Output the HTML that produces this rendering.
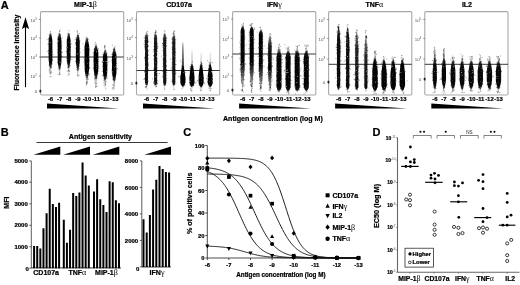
<!DOCTYPE html>
<html><head><meta charset="utf-8"><style>
html,body{margin:0;padding:0;background:#fff;}
svg{display:block;filter:grayscale(1) blur(0.3px);}
text[font-weight="bold"]{stroke:#000;stroke-width:0.22px;}
tspan[font-weight="normal"]{stroke:none;}
</style></head><body>
<svg width="520" height="285" viewBox="0 0 520 285">
<defs>
<filter id="bl" x="-50%" y="-10%" width="200%" height="120%"><feGaussianBlur stdDeviation="0.6"/></filter>
<filter id="bl2" x="-50%" y="-10%" width="200%" height="120%"><feGaussianBlur stdDeviation="0.3"/></filter>
<filter id="sp" filterUnits="userSpaceOnUse" x="0" y="0" width="520" height="120">
<feTurbulence type="fractalNoise" baseFrequency="1.8" numOctaves="1" seed="5" result="n"/>
<feColorMatrix in="n" type="matrix" values="0 0 0 0 0 0 0 0 0 0 0 0 0 0 0 4 0 0 0 -0.45" result="m"/>
<feComposite in="SourceGraphic" in2="m" operator="in" result="c"/>
<feGaussianBlur in="c" stdDeviation="0.3"/>
</filter>
</defs>
<rect width="520" height="285" fill="#fff"/>
<g font-family='"Liberation Sans", sans-serif'>
<text x="0.8" y="8.8" font-size="11" text-anchor="start" font-weight="bold" fill="#000" >A</text>
<text transform="translate(18.6,52.6) rotate(-90)" font-size="7" font-weight="bold" text-anchor="middle">Fluorescence intensity</text>
<line x1="25.5" y1="87.2" x2="25.5" y2="26" stroke="#000" stroke-width="1.1"/>
<path d="M21.9 29 L25.5 17.3 L29.1 29 L25.5 27 Z" fill="#000"/>
<rect x="40.5" y="11.6" width="83.2" height="83.4" fill="none" stroke="#a8a8a8" stroke-width="1.1" rx="1.2"/>
<text x="74.1" y="7.0" font-size="7" text-anchor="start" font-weight="bold" fill="#000" >MIP-1<tspan font-family='"Liberation Serif", serif' font-weight="normal" font-size="115%">β</tspan></text>
<text x="37.1" y="21.5" font-size="4.4" text-anchor="end" fill="#555">10<tspan dy="-1.8" font-size="3.2">5</tspan></text>
<line x1="39.0" y1="19.5" x2="40.5" y2="19.5" stroke="#444" stroke-width="0.6"/>
<text x="37.1" y="40.0" font-size="4.4" text-anchor="end" fill="#555">10<tspan dy="-1.8" font-size="3.2">4</tspan></text>
<line x1="39.0" y1="38" x2="40.5" y2="38" stroke="#444" stroke-width="0.6"/>
<text x="37.1" y="59.0" font-size="4.4" text-anchor="end" fill="#555">10<tspan dy="-1.8" font-size="3.2">3</tspan></text>
<line x1="39.0" y1="57" x2="40.5" y2="57" stroke="#444" stroke-width="0.6"/>
<text x="37.1" y="78.0" font-size="4.4" text-anchor="end" fill="#555">10<tspan dy="-1.8" font-size="3.2">2</tspan></text>
<line x1="39.0" y1="76" x2="40.5" y2="76" stroke="#444" stroke-width="0.6"/>
<text x="37.0" y="92.6" font-size="4.2" text-anchor="end" font-weight="normal" fill="#444" >0</text>
<rect x="39.6" y="89.8" width="1.6" height="2.6" fill="#111"/>
<line x1="39.0" y1="91" x2="40.5" y2="91" stroke="#444" stroke-width="0.6"/>
<line x1="40.5" y1="57.0" x2="123.7" y2="57.0" stroke="#222" stroke-width="0.9"/>
<text x="50.5" y="101.4" font-size="5.9" text-anchor="middle" font-weight="bold" fill="#000" >-6</text>
<text x="59.6" y="101.4" font-size="5.9" text-anchor="middle" font-weight="bold" fill="#000" >-7</text>
<text x="68.7" y="101.4" font-size="5.9" text-anchor="middle" font-weight="bold" fill="#000" >-8</text>
<text x="77.8" y="101.4" font-size="5.9" text-anchor="middle" font-weight="bold" fill="#000" >-9</text>
<text x="86.9" y="101.4" font-size="5.9" text-anchor="middle" font-weight="bold" fill="#000" >-10</text>
<text x="96.0" y="101.4" font-size="5.9" text-anchor="middle" font-weight="bold" fill="#000" >-11</text>
<text x="105.1" y="101.4" font-size="5.9" text-anchor="middle" font-weight="bold" fill="#000" >-12</text>
<text x="114.2" y="101.4" font-size="5.9" text-anchor="middle" font-weight="bold" fill="#000" >-13</text>
<path d="M47.0 103.4 L119.0 108.5 L47.0 108.5 Z" fill="#000"/>
<rect x="136.5" y="11.6" width="83.2" height="83.4" fill="none" stroke="#a8a8a8" stroke-width="1.1" rx="1.2"/>
<text x="166.2" y="7.0" font-size="7" text-anchor="start" font-weight="bold" fill="#000" >CD107a</text>
<text x="133.1" y="22.0" font-size="4.4" text-anchor="end" fill="#555">10<tspan dy="-1.8" font-size="3.2">5</tspan></text>
<line x1="135.0" y1="20" x2="136.5" y2="20" stroke="#444" stroke-width="0.6"/>
<text x="133.1" y="39.5" font-size="4.4" text-anchor="end" fill="#555">10<tspan dy="-1.8" font-size="3.2">4</tspan></text>
<line x1="135.0" y1="37.5" x2="136.5" y2="37.5" stroke="#444" stroke-width="0.6"/>
<text x="133.1" y="59.5" font-size="4.4" text-anchor="end" fill="#555">10<tspan dy="-1.8" font-size="3.2">3</tspan></text>
<line x1="135.0" y1="57.5" x2="136.5" y2="57.5" stroke="#444" stroke-width="0.6"/>
<text x="133.0" y="84.6" font-size="4.2" text-anchor="end" font-weight="normal" fill="#444" >0</text>
<rect x="135.6" y="81.8" width="1.6" height="2.6" fill="#111"/>
<line x1="135.0" y1="83" x2="136.5" y2="83" stroke="#444" stroke-width="0.6"/>
<line x1="136.5" y1="70.5" x2="219.7" y2="70.5" stroke="#222" stroke-width="0.9"/>
<text x="146.5" y="101.4" font-size="5.9" text-anchor="middle" font-weight="bold" fill="#000" >-6</text>
<text x="155.6" y="101.4" font-size="5.9" text-anchor="middle" font-weight="bold" fill="#000" >-7</text>
<text x="164.7" y="101.4" font-size="5.9" text-anchor="middle" font-weight="bold" fill="#000" >-8</text>
<text x="173.8" y="101.4" font-size="5.9" text-anchor="middle" font-weight="bold" fill="#000" >-9</text>
<text x="182.9" y="101.4" font-size="5.9" text-anchor="middle" font-weight="bold" fill="#000" >-10</text>
<text x="192.0" y="101.4" font-size="5.9" text-anchor="middle" font-weight="bold" fill="#000" >-11</text>
<text x="201.1" y="101.4" font-size="5.9" text-anchor="middle" font-weight="bold" fill="#000" >-12</text>
<text x="210.2" y="101.4" font-size="5.9" text-anchor="middle" font-weight="bold" fill="#000" >-13</text>
<path d="M143.0 103.4 L215.0 108.5 L143.0 108.5 Z" fill="#000"/>
<rect x="232.6" y="11.6" width="83.2" height="83.4" fill="none" stroke="#a8a8a8" stroke-width="1.1" rx="1.2"/>
<text x="266.9" y="7.0" font-size="7" text-anchor="start" font-weight="bold" fill="#000" >IFN<tspan font-family='"Liberation Serif", serif' font-weight="normal" font-size="115%">γ</tspan></text>
<text x="229.2" y="21.0" font-size="4.4" text-anchor="end" fill="#555">10<tspan dy="-1.8" font-size="3.2">5</tspan></text>
<line x1="231.1" y1="19" x2="232.6" y2="19" stroke="#444" stroke-width="0.6"/>
<text x="229.2" y="40.5" font-size="4.4" text-anchor="end" fill="#555">10<tspan dy="-1.8" font-size="3.2">4</tspan></text>
<line x1="231.1" y1="38.5" x2="232.6" y2="38.5" stroke="#444" stroke-width="0.6"/>
<text x="229.2" y="59.0" font-size="4.4" text-anchor="end" fill="#555">10<tspan dy="-1.8" font-size="3.2">3</tspan></text>
<line x1="231.1" y1="57" x2="232.6" y2="57" stroke="#444" stroke-width="0.6"/>
<text x="229.2" y="77.7" font-size="4.4" text-anchor="end" fill="#555">10<tspan dy="-1.8" font-size="3.2">2</tspan></text>
<line x1="231.1" y1="75.7" x2="232.6" y2="75.7" stroke="#444" stroke-width="0.6"/>
<text x="229.1" y="91.6" font-size="4.2" text-anchor="end" font-weight="normal" fill="#444" >0</text>
<rect x="231.7" y="88.8" width="1.6" height="2.6" fill="#111"/>
<line x1="231.1" y1="90" x2="232.6" y2="90" stroke="#444" stroke-width="0.6"/>
<line x1="232.6" y1="54.0" x2="315.8" y2="54.0" stroke="#222" stroke-width="0.9"/>
<text x="242.6" y="101.4" font-size="5.9" text-anchor="middle" font-weight="bold" fill="#000" >-6</text>
<text x="251.7" y="101.4" font-size="5.9" text-anchor="middle" font-weight="bold" fill="#000" >-7</text>
<text x="260.8" y="101.4" font-size="5.9" text-anchor="middle" font-weight="bold" fill="#000" >-8</text>
<text x="269.9" y="101.4" font-size="5.9" text-anchor="middle" font-weight="bold" fill="#000" >-9</text>
<text x="279.0" y="101.4" font-size="5.9" text-anchor="middle" font-weight="bold" fill="#000" >-10</text>
<text x="288.1" y="101.4" font-size="5.9" text-anchor="middle" font-weight="bold" fill="#000" >-11</text>
<text x="297.2" y="101.4" font-size="5.9" text-anchor="middle" font-weight="bold" fill="#000" >-12</text>
<text x="306.3" y="101.4" font-size="5.9" text-anchor="middle" font-weight="bold" fill="#000" >-13</text>
<path d="M239.1 103.4 L311.1 108.5 L239.1 108.5 Z" fill="#000"/>
<rect x="328.6" y="11.6" width="83.2" height="83.4" fill="none" stroke="#a8a8a8" stroke-width="1.1" rx="1.2"/>
<text x="365.4" y="7.0" font-size="7" text-anchor="start" font-weight="bold" fill="#000" >TNF<tspan font-family='"Liberation Serif", serif' font-weight="normal" font-size="115%">α</tspan></text>
<text x="325.20000000000005" y="21.5" font-size="4.4" text-anchor="end" fill="#555">10<tspan dy="-1.8" font-size="3.2">5</tspan></text>
<line x1="327.1" y1="19.5" x2="328.6" y2="19.5" stroke="#444" stroke-width="0.6"/>
<text x="325.20000000000005" y="40.5" font-size="4.4" text-anchor="end" fill="#555">10<tspan dy="-1.8" font-size="3.2">4</tspan></text>
<line x1="327.1" y1="38.5" x2="328.6" y2="38.5" stroke="#444" stroke-width="0.6"/>
<text x="325.20000000000005" y="61.0" font-size="4.4" text-anchor="end" fill="#555">10<tspan dy="-1.8" font-size="3.2">3</tspan></text>
<line x1="327.1" y1="59" x2="328.6" y2="59" stroke="#444" stroke-width="0.6"/>
<text x="325.1" y="83.6" font-size="4.2" text-anchor="end" font-weight="normal" fill="#444" >0</text>
<rect x="327.70000000000005" y="80.8" width="1.6" height="2.6" fill="#111"/>
<line x1="327.1" y1="82" x2="328.6" y2="82" stroke="#444" stroke-width="0.6"/>
<line x1="328.6" y1="64.3" x2="411.8" y2="64.3" stroke="#222" stroke-width="0.9"/>
<text x="338.6" y="101.4" font-size="5.9" text-anchor="middle" font-weight="bold" fill="#000" >-6</text>
<text x="347.7" y="101.4" font-size="5.9" text-anchor="middle" font-weight="bold" fill="#000" >-7</text>
<text x="356.8" y="101.4" font-size="5.9" text-anchor="middle" font-weight="bold" fill="#000" >-8</text>
<text x="365.9" y="101.4" font-size="5.9" text-anchor="middle" font-weight="bold" fill="#000" >-9</text>
<text x="375.0" y="101.4" font-size="5.9" text-anchor="middle" font-weight="bold" fill="#000" >-10</text>
<text x="384.1" y="101.4" font-size="5.9" text-anchor="middle" font-weight="bold" fill="#000" >-11</text>
<text x="393.2" y="101.4" font-size="5.9" text-anchor="middle" font-weight="bold" fill="#000" >-12</text>
<text x="402.3" y="101.4" font-size="5.9" text-anchor="middle" font-weight="bold" fill="#000" >-13</text>
<path d="M335.1 103.4 L407.1 108.5 L335.1 108.5 Z" fill="#000"/>
<rect x="424.8" y="11.6" width="83.2" height="83.4" fill="none" stroke="#a8a8a8" stroke-width="1.1" rx="1.2"/>
<text x="461.9" y="7.0" font-size="7" text-anchor="start" font-weight="bold" fill="#000" >IL2</text>
<text x="421.40000000000003" y="21.5" font-size="4.4" text-anchor="end" fill="#555">10<tspan dy="-1.8" font-size="3.2">5</tspan></text>
<line x1="423.3" y1="19.5" x2="424.8" y2="19.5" stroke="#444" stroke-width="0.6"/>
<text x="421.40000000000003" y="40.5" font-size="4.4" text-anchor="end" fill="#555">10<tspan dy="-1.8" font-size="3.2">4</tspan></text>
<line x1="423.3" y1="38.5" x2="424.8" y2="38.5" stroke="#444" stroke-width="0.6"/>
<text x="421.40000000000003" y="61.0" font-size="4.4" text-anchor="end" fill="#555">10<tspan dy="-1.8" font-size="3.2">3</tspan></text>
<line x1="423.3" y1="59" x2="424.8" y2="59" stroke="#444" stroke-width="0.6"/>
<text x="421.3" y="80.6" font-size="4.2" text-anchor="end" font-weight="normal" fill="#444" >0</text>
<rect x="423.90000000000003" y="77.8" width="1.6" height="2.6" fill="#111"/>
<line x1="423.3" y1="79" x2="424.8" y2="79" stroke="#444" stroke-width="0.6"/>
<line x1="424.8" y1="64.3" x2="508.0" y2="64.3" stroke="#222" stroke-width="0.9"/>
<text x="434.8" y="101.4" font-size="5.9" text-anchor="middle" font-weight="bold" fill="#000" >-6</text>
<text x="443.9" y="101.4" font-size="5.9" text-anchor="middle" font-weight="bold" fill="#000" >-7</text>
<text x="453.0" y="101.4" font-size="5.9" text-anchor="middle" font-weight="bold" fill="#000" >-8</text>
<text x="462.1" y="101.4" font-size="5.9" text-anchor="middle" font-weight="bold" fill="#000" >-9</text>
<text x="471.2" y="101.4" font-size="5.9" text-anchor="middle" font-weight="bold" fill="#000" >-10</text>
<text x="480.3" y="101.4" font-size="5.9" text-anchor="middle" font-weight="bold" fill="#000" >-11</text>
<text x="489.4" y="101.4" font-size="5.9" text-anchor="middle" font-weight="bold" fill="#000" >-12</text>
<text x="498.5" y="101.4" font-size="5.9" text-anchor="middle" font-weight="bold" fill="#000" >-13</text>
<path d="M431.3 103.4 L503.3 108.5 L431.3 108.5 Z" fill="#000"/>
<path d="M50.65 31.00 L50.99 32.13 L51.19 33.26 L51.35 34.38 L51.48 35.51 L51.60 36.64 L51.70 37.77 L51.80 38.90 L51.89 40.03 L51.92 41.15 L51.92 42.28 L51.92 43.41 L51.92 44.54 L51.92 45.67 L51.92 46.79 L51.92 47.92 L51.92 49.05 L51.92 50.18 L51.92 51.31 L51.92 52.44 L51.92 53.56 L51.92 54.69 L51.92 55.82 L51.92 56.95 L51.92 58.08 L51.92 59.21 L51.89 60.33 L51.83 61.46 L51.78 62.59 L51.72 63.72 L51.65 64.85 L51.59 65.97 L51.52 67.10 L51.44 68.23 L51.36 69.36 L51.27 70.49 L51.17 71.62 L51.04 72.74 L50.88 73.87 L50.65 75.00 L50.35 75.00 L50.12 73.87 L49.96 72.74 L49.83 71.62 L49.73 70.49 L49.64 69.36 L49.56 68.23 L49.48 67.10 L49.41 65.97 L49.35 64.85 L49.28 63.72 L49.22 62.59 L49.17 61.46 L49.11 60.33 L49.08 59.21 L49.08 58.08 L49.08 56.95 L49.08 55.82 L49.08 54.69 L49.08 53.56 L49.08 52.44 L49.08 51.31 L49.08 50.18 L49.08 49.05 L49.08 47.92 L49.08 46.79 L49.08 45.67 L49.08 44.54 L49.08 43.41 L49.08 42.28 L49.08 41.15 L49.11 40.03 L49.20 38.90 L49.30 37.77 L49.40 36.64 L49.52 35.51 L49.65 34.38 L49.81 33.26 L50.01 32.13 L50.35 31.00ZM59.75 31.50 L60.11 32.64 L60.32 33.78 L60.48 34.92 L60.61 36.06 L60.73 37.21 L60.84 38.35 L60.94 39.49 L61.02 40.63 L61.02 41.77 L61.02 42.91 L61.02 44.05 L61.02 45.19 L61.02 46.33 L61.02 47.47 L61.02 48.62 L61.02 49.76 L61.02 50.90 L61.02 52.04 L61.02 53.18 L61.02 54.32 L61.02 55.46 L61.02 56.60 L61.02 57.74 L61.02 58.88 L61.02 60.03 L61.02 61.17 L60.96 62.31 L60.90 63.45 L60.84 64.59 L60.78 65.73 L60.71 66.87 L60.64 68.01 L60.56 69.15 L60.48 70.29 L60.39 71.44 L60.28 72.58 L60.16 73.72 L59.99 74.86 L59.75 76.00 L59.45 76.00 L59.21 74.86 L59.04 73.72 L58.92 72.58 L58.81 71.44 L58.72 70.29 L58.64 69.15 L58.56 68.01 L58.49 66.87 L58.42 65.73 L58.36 64.59 L58.30 63.45 L58.24 62.31 L58.18 61.17 L58.18 60.03 L58.18 58.88 L58.18 57.74 L58.18 56.60 L58.18 55.46 L58.18 54.32 L58.18 53.18 L58.18 52.04 L58.18 50.90 L58.18 49.76 L58.18 48.62 L58.18 47.47 L58.18 46.33 L58.18 45.19 L58.18 44.05 L58.18 42.91 L58.18 41.77 L58.18 40.63 L58.26 39.49 L58.36 38.35 L58.47 37.21 L58.59 36.06 L58.72 34.92 L58.88 33.78 L59.09 32.64 L59.45 31.50ZM68.85 31.50 L69.20 32.59 L69.40 33.68 L69.56 34.77 L69.69 35.86 L69.81 36.95 L69.91 38.04 L70.01 39.13 L70.10 40.22 L70.12 41.31 L70.12 42.40 L70.12 43.49 L70.12 44.58 L70.12 45.67 L70.12 46.76 L70.12 47.85 L70.12 48.94 L70.12 50.03 L70.12 51.12 L70.12 52.21 L70.12 53.29 L70.12 54.38 L70.12 55.47 L70.12 56.56 L70.12 57.65 L70.12 58.74 L70.08 59.83 L70.03 60.92 L69.97 62.01 L69.91 63.10 L69.85 64.19 L69.79 65.28 L69.72 66.37 L69.64 67.46 L69.56 68.55 L69.47 69.64 L69.37 70.73 L69.24 71.82 L69.08 72.91 L68.85 74.00 L68.55 74.00 L68.32 72.91 L68.16 71.82 L68.03 70.73 L67.93 69.64 L67.84 68.55 L67.76 67.46 L67.68 66.37 L67.61 65.28 L67.55 64.19 L67.49 63.10 L67.43 62.01 L67.37 60.92 L67.32 59.83 L67.28 58.74 L67.28 57.65 L67.28 56.56 L67.28 55.47 L67.28 54.38 L67.28 53.29 L67.28 52.21 L67.28 51.12 L67.28 50.03 L67.28 48.94 L67.28 47.85 L67.28 46.76 L67.28 45.67 L67.28 44.58 L67.28 43.49 L67.28 42.40 L67.28 41.31 L67.30 40.22 L67.39 39.13 L67.49 38.04 L67.59 36.95 L67.71 35.86 L67.84 34.77 L68.00 33.68 L68.20 32.59 L68.55 31.50ZM77.95 32.00 L78.29 33.13 L78.49 34.26 L78.65 35.38 L78.78 36.51 L78.90 37.64 L79.00 38.77 L79.10 39.90 L79.19 41.03 L79.22 42.15 L79.22 43.28 L79.22 44.41 L79.22 45.54 L79.22 46.67 L79.22 47.79 L79.22 48.92 L79.22 50.05 L79.22 51.18 L79.22 52.31 L79.22 53.44 L79.22 54.56 L79.22 55.69 L79.22 56.82 L79.22 57.95 L79.22 59.08 L79.22 60.21 L79.21 61.33 L79.15 62.46 L79.10 63.59 L79.04 64.72 L78.97 65.85 L78.91 66.97 L78.83 68.10 L78.76 69.23 L78.67 70.36 L78.58 71.49 L78.48 72.62 L78.35 73.74 L78.19 74.87 L77.95 76.00 L77.65 76.00 L77.41 74.87 L77.25 73.74 L77.12 72.62 L77.02 71.49 L76.93 70.36 L76.84 69.23 L76.77 68.10 L76.69 66.97 L76.63 65.85 L76.56 64.72 L76.50 63.59 L76.45 62.46 L76.39 61.33 L76.38 60.21 L76.38 59.08 L76.38 57.95 L76.38 56.82 L76.38 55.69 L76.38 54.56 L76.38 53.44 L76.38 52.31 L76.38 51.18 L76.38 50.05 L76.38 48.92 L76.38 47.79 L76.38 46.67 L76.38 45.54 L76.38 44.41 L76.38 43.28 L76.38 42.15 L76.41 41.03 L76.50 39.90 L76.60 38.77 L76.70 37.64 L76.82 36.51 L76.95 35.38 L77.11 34.26 L77.31 33.13 L77.65 32.00ZM87.05 36.00 L87.50 37.26 L87.74 38.51 L87.93 39.77 L88.09 41.03 L88.23 42.28 L88.36 43.54 L88.48 44.79 L88.58 46.05 L88.66 47.31 L88.66 48.56 L88.66 49.82 L88.66 51.08 L88.66 52.33 L88.66 53.59 L88.66 54.85 L88.66 56.10 L88.66 57.36 L88.66 58.62 L88.66 59.87 L88.66 61.13 L88.66 62.38 L88.66 63.64 L88.66 64.90 L88.66 66.15 L88.66 67.41 L88.63 68.67 L88.56 69.92 L88.49 71.18 L88.42 72.44 L88.34 73.69 L88.26 74.95 L88.17 76.21 L88.07 77.46 L87.97 78.72 L87.86 79.97 L87.73 81.23 L87.58 82.49 L87.38 83.74 L87.05 85.00 L86.75 85.00 L86.42 83.74 L86.22 82.49 L86.07 81.23 L85.94 79.97 L85.83 78.72 L85.73 77.46 L85.63 76.21 L85.54 74.95 L85.46 73.69 L85.38 72.44 L85.31 71.18 L85.24 69.92 L85.17 68.67 L85.14 67.41 L85.14 66.15 L85.14 64.90 L85.14 63.64 L85.14 62.38 L85.14 61.13 L85.14 59.87 L85.14 58.62 L85.14 57.36 L85.14 56.10 L85.14 54.85 L85.14 53.59 L85.14 52.33 L85.14 51.08 L85.14 49.82 L85.14 48.56 L85.14 47.31 L85.22 46.05 L85.32 44.79 L85.44 43.54 L85.57 42.28 L85.71 41.03 L85.87 39.77 L86.06 38.51 L86.30 37.26 L86.75 36.00ZM96.15 43.00 L96.58 44.13 L96.82 45.26 L97.00 46.38 L97.16 47.51 L97.29 48.64 L97.42 49.77 L97.53 50.90 L97.63 52.03 L97.73 53.15 L97.76 54.28 L97.76 55.41 L97.76 56.54 L97.76 57.67 L97.76 58.79 L97.76 59.92 L97.76 61.05 L97.76 62.18 L97.76 63.31 L97.76 64.44 L97.76 65.56 L97.76 66.69 L97.76 67.82 L97.76 68.95 L97.71 70.08 L97.65 71.21 L97.59 72.33 L97.53 73.46 L97.46 74.59 L97.40 75.72 L97.32 76.85 L97.25 77.97 L97.17 79.10 L97.08 80.23 L96.99 81.36 L96.88 82.49 L96.76 83.62 L96.62 84.74 L96.44 85.87 L96.15 87.00 L95.85 87.00 L95.56 85.87 L95.38 84.74 L95.24 83.62 L95.12 82.49 L95.01 81.36 L94.92 80.23 L94.83 79.10 L94.75 77.97 L94.68 76.85 L94.60 75.72 L94.54 74.59 L94.47 73.46 L94.41 72.33 L94.35 71.21 L94.29 70.08 L94.24 68.95 L94.24 67.82 L94.24 66.69 L94.24 65.56 L94.24 64.44 L94.24 63.31 L94.24 62.18 L94.24 61.05 L94.24 59.92 L94.24 58.79 L94.24 57.67 L94.24 56.54 L94.24 55.41 L94.24 54.28 L94.27 53.15 L94.37 52.03 L94.47 50.90 L94.58 49.77 L94.71 48.64 L94.84 47.51 L95.00 46.38 L95.18 45.26 L95.42 44.13 L95.85 43.00ZM105.25 47.00 L105.65 48.05 L105.87 49.10 L106.05 50.15 L106.19 51.21 L106.32 52.26 L106.44 53.31 L106.55 54.36 L106.65 55.41 L106.74 56.46 L106.79 57.51 L106.79 58.56 L106.79 59.62 L106.79 60.67 L106.79 61.72 L106.79 62.77 L106.79 63.82 L106.79 64.87 L106.79 65.92 L106.79 66.97 L106.79 68.03 L106.79 69.08 L106.79 70.13 L106.79 71.18 L106.75 72.23 L106.69 73.28 L106.64 74.33 L106.58 75.38 L106.51 76.44 L106.45 77.49 L106.38 78.54 L106.30 79.59 L106.23 80.64 L106.14 81.69 L106.05 82.74 L105.95 83.79 L105.84 84.85 L105.70 85.90 L105.53 86.95 L105.25 88.00 L104.95 88.00 L104.67 86.95 L104.50 85.90 L104.36 84.85 L104.25 83.79 L104.15 82.74 L104.06 81.69 L103.97 80.64 L103.90 79.59 L103.82 78.54 L103.75 77.49 L103.69 76.44 L103.62 75.38 L103.56 74.33 L103.51 73.28 L103.45 72.23 L103.41 71.18 L103.41 70.13 L103.41 69.08 L103.41 68.03 L103.41 66.97 L103.41 65.92 L103.41 64.87 L103.41 63.82 L103.41 62.77 L103.41 61.72 L103.41 60.67 L103.41 59.62 L103.41 58.56 L103.41 57.51 L103.46 56.46 L103.55 55.41 L103.65 54.36 L103.76 53.31 L103.88 52.26 L104.01 51.21 L104.15 50.15 L104.33 49.10 L104.55 48.05 L104.95 47.00ZM114.35 46.50 L114.76 47.56 L115.00 48.63 L115.18 49.69 L115.33 50.76 L115.46 51.82 L115.58 52.88 L115.69 53.95 L115.80 55.01 L115.89 56.08 L115.89 57.14 L115.89 58.21 L115.89 59.27 L115.89 60.33 L115.89 61.40 L115.89 62.46 L115.89 63.53 L115.89 64.59 L115.89 65.65 L115.89 66.72 L115.89 67.78 L115.89 68.85 L115.89 69.91 L115.89 70.97 L115.89 72.04 L115.85 73.10 L115.79 74.17 L115.73 75.23 L115.67 76.29 L115.60 77.36 L115.53 78.42 L115.45 79.49 L115.37 80.55 L115.28 81.62 L115.19 82.68 L115.08 83.74 L114.97 84.81 L114.83 85.87 L114.64 86.94 L114.35 88.00 L114.05 88.00 L113.76 86.94 L113.57 85.87 L113.43 84.81 L113.32 83.74 L113.21 82.68 L113.12 81.62 L113.03 80.55 L112.95 79.49 L112.87 78.42 L112.80 77.36 L112.73 76.29 L112.67 75.23 L112.61 74.17 L112.55 73.10 L112.51 72.04 L112.51 70.97 L112.51 69.91 L112.51 68.85 L112.51 67.78 L112.51 66.72 L112.51 65.65 L112.51 64.59 L112.51 63.53 L112.51 62.46 L112.51 61.40 L112.51 60.33 L112.51 59.27 L112.51 58.21 L112.51 57.14 L112.51 56.08 L112.60 55.01 L112.71 53.95 L112.82 52.88 L112.94 51.82 L113.07 50.76 L113.22 49.69 L113.40 48.63 L113.64 47.56 L114.05 46.50ZM146.65 31.00 L147.07 32.46 L147.31 33.92 L147.49 35.38 L147.65 36.85 L147.66 38.31 L147.66 39.77 L147.66 41.23 L147.66 42.69 L147.66 44.15 L147.66 45.62 L147.66 47.08 L147.66 48.54 L147.66 50.00 L147.66 51.46 L147.66 52.92 L147.66 54.38 L147.66 55.85 L147.66 57.31 L147.66 58.77 L147.66 60.23 L147.66 61.69 L147.66 63.15 L147.66 64.62 L147.66 66.08 L147.66 67.54 L147.66 69.00 L147.66 70.46 L147.66 71.92 L147.66 73.38 L147.66 74.85 L147.66 76.31 L147.66 77.77 L147.66 79.23 L147.66 80.69 L147.66 82.15 L147.54 83.62 L147.35 85.08 L147.10 86.54 L146.65 88.00 L146.35 88.00 L145.90 86.54 L145.65 85.08 L145.46 83.62 L145.34 82.15 L145.34 80.69 L145.34 79.23 L145.34 77.77 L145.34 76.31 L145.34 74.85 L145.34 73.38 L145.34 71.92 L145.34 70.46 L145.34 69.00 L145.34 67.54 L145.34 66.08 L145.34 64.62 L145.34 63.15 L145.34 61.69 L145.34 60.23 L145.34 58.77 L145.34 57.31 L145.34 55.85 L145.34 54.38 L145.34 52.92 L145.34 51.46 L145.34 50.00 L145.34 48.54 L145.34 47.08 L145.34 45.62 L145.34 44.15 L145.34 42.69 L145.34 41.23 L145.34 39.77 L145.34 38.31 L145.35 36.85 L145.51 35.38 L145.69 33.92 L145.93 32.46 L146.35 31.00ZM155.75 31.00 L156.17 32.46 L156.41 33.92 L156.59 35.38 L156.75 36.85 L156.76 38.31 L156.76 39.77 L156.76 41.23 L156.76 42.69 L156.76 44.15 L156.76 45.62 L156.76 47.08 L156.76 48.54 L156.76 50.00 L156.76 51.46 L156.76 52.92 L156.76 54.38 L156.76 55.85 L156.76 57.31 L156.76 58.77 L156.76 60.23 L156.76 61.69 L156.76 63.15 L156.76 64.62 L156.76 66.08 L156.76 67.54 L156.76 69.00 L156.76 70.46 L156.76 71.92 L156.76 73.38 L156.76 74.85 L156.76 76.31 L156.76 77.77 L156.76 79.23 L156.76 80.69 L156.76 82.15 L156.64 83.62 L156.45 85.08 L156.20 86.54 L155.75 88.00 L155.45 88.00 L155.00 86.54 L154.75 85.08 L154.56 83.62 L154.44 82.15 L154.44 80.69 L154.44 79.23 L154.44 77.77 L154.44 76.31 L154.44 74.85 L154.44 73.38 L154.44 71.92 L154.44 70.46 L154.44 69.00 L154.44 67.54 L154.44 66.08 L154.44 64.62 L154.44 63.15 L154.44 61.69 L154.44 60.23 L154.44 58.77 L154.44 57.31 L154.44 55.85 L154.44 54.38 L154.44 52.92 L154.44 51.46 L154.44 50.00 L154.44 48.54 L154.44 47.08 L154.44 45.62 L154.44 44.15 L154.44 42.69 L154.44 41.23 L154.44 39.77 L154.44 38.31 L154.45 36.85 L154.61 35.38 L154.79 33.92 L155.03 32.46 L155.45 31.00ZM164.85 31.50 L165.27 32.95 L165.51 34.40 L165.69 35.85 L165.84 37.29 L165.86 38.74 L165.86 40.19 L165.86 41.64 L165.86 43.09 L165.86 44.54 L165.86 45.99 L165.86 47.44 L165.86 48.88 L165.86 50.33 L165.86 51.78 L165.86 53.23 L165.86 54.68 L165.86 56.13 L165.86 57.58 L165.86 59.03 L165.86 60.47 L165.86 61.92 L165.86 63.37 L165.86 64.82 L165.86 66.27 L165.86 67.72 L165.86 69.17 L165.86 70.62 L165.86 72.06 L165.86 73.51 L165.86 74.96 L165.86 76.41 L165.86 77.86 L165.86 79.31 L165.86 80.76 L165.86 82.21 L165.73 83.65 L165.54 85.10 L165.30 86.55 L164.85 88.00 L164.55 88.00 L164.10 86.55 L163.86 85.10 L163.67 83.65 L163.54 82.21 L163.54 80.76 L163.54 79.31 L163.54 77.86 L163.54 76.41 L163.54 74.96 L163.54 73.51 L163.54 72.06 L163.54 70.62 L163.54 69.17 L163.54 67.72 L163.54 66.27 L163.54 64.82 L163.54 63.37 L163.54 61.92 L163.54 60.47 L163.54 59.03 L163.54 57.58 L163.54 56.13 L163.54 54.68 L163.54 53.23 L163.54 51.78 L163.54 50.33 L163.54 48.88 L163.54 47.44 L163.54 45.99 L163.54 44.54 L163.54 43.09 L163.54 41.64 L163.54 40.19 L163.54 38.74 L163.56 37.29 L163.71 35.85 L163.89 34.40 L164.13 32.95 L164.55 31.50ZM173.95 32.00 L174.35 33.44 L174.57 34.87 L174.75 36.31 L174.89 37.74 L174.96 39.18 L174.96 40.62 L174.96 42.05 L174.96 43.49 L174.96 44.92 L174.96 46.36 L174.96 47.79 L174.96 49.23 L174.96 50.67 L174.96 52.10 L174.96 53.54 L174.96 54.97 L174.96 56.41 L174.96 57.85 L174.96 59.28 L174.96 60.72 L174.96 62.15 L174.96 63.59 L174.96 65.03 L174.96 66.46 L174.96 67.90 L174.96 69.33 L174.96 70.77 L174.96 72.21 L174.96 73.64 L174.96 75.08 L174.96 76.51 L174.96 77.95 L174.96 79.38 L174.96 80.82 L174.96 82.26 L174.83 83.69 L174.64 85.13 L174.39 86.56 L173.95 88.00 L173.65 88.00 L173.21 86.56 L172.96 85.13 L172.77 83.69 L172.64 82.26 L172.64 80.82 L172.64 79.38 L172.64 77.95 L172.64 76.51 L172.64 75.08 L172.64 73.64 L172.64 72.21 L172.64 70.77 L172.64 69.33 L172.64 67.90 L172.64 66.46 L172.64 65.03 L172.64 63.59 L172.64 62.15 L172.64 60.72 L172.64 59.28 L172.64 57.85 L172.64 56.41 L172.64 54.97 L172.64 53.54 L172.64 52.10 L172.64 50.67 L172.64 49.23 L172.64 47.79 L172.64 46.36 L172.64 44.92 L172.64 43.49 L172.64 42.05 L172.64 40.62 L172.64 39.18 L172.71 37.74 L172.85 36.31 L173.03 34.87 L173.25 33.44 L173.65 32.00ZM183.05 60.00 L183.29 60.73 L183.44 61.46 L183.57 62.19 L183.67 62.92 L183.76 63.65 L183.84 64.38 L183.92 65.12 L183.99 65.85 L184.06 66.58 L184.12 67.31 L184.18 68.04 L184.23 68.77 L184.29 69.50 L184.34 70.23 L184.39 70.96 L184.44 71.69 L184.49 72.42 L184.53 73.15 L184.58 73.88 L184.62 74.62 L184.67 75.35 L184.71 76.08 L184.75 76.81 L184.79 77.54 L184.81 78.27 L184.81 79.00 L184.81 79.73 L184.81 80.46 L184.81 81.19 L184.81 81.92 L184.79 82.65 L184.67 83.38 L184.53 84.12 L184.39 84.85 L184.23 85.58 L184.06 86.31 L183.84 87.04 L183.57 87.77 L183.05 88.50 L182.75 88.50 L182.23 87.77 L181.96 87.04 L181.74 86.31 L181.57 85.58 L181.41 84.85 L181.27 84.12 L181.13 83.38 L181.01 82.65 L180.99 81.92 L180.99 81.19 L180.99 80.46 L180.99 79.73 L180.99 79.00 L180.99 78.27 L181.01 77.54 L181.05 76.81 L181.09 76.08 L181.13 75.35 L181.18 74.62 L181.22 73.88 L181.27 73.15 L181.31 72.42 L181.36 71.69 L181.41 70.96 L181.46 70.23 L181.51 69.50 L181.57 68.77 L181.62 68.04 L181.68 67.31 L181.74 66.58 L181.81 65.85 L181.88 65.12 L181.96 64.38 L182.04 63.65 L182.13 62.92 L182.23 62.19 L182.36 61.46 L182.51 60.73 L182.75 60.00ZM192.15 62.00 L192.40 62.69 L192.57 63.38 L192.70 64.08 L192.81 64.77 L192.90 65.46 L192.99 66.15 L193.07 66.85 L193.14 67.54 L193.21 68.23 L193.27 68.92 L193.34 69.62 L193.40 70.31 L193.45 71.00 L193.51 71.69 L193.56 72.38 L193.61 73.08 L193.66 73.77 L193.71 74.46 L193.76 75.15 L193.80 75.85 L193.85 76.54 L193.88 77.23 L193.88 77.92 L193.88 78.62 L193.88 79.31 L193.88 80.00 L193.88 80.69 L193.88 81.38 L193.88 82.08 L193.88 82.77 L193.80 83.46 L193.69 84.15 L193.56 84.85 L193.42 85.54 L193.27 86.23 L193.10 86.92 L192.90 87.62 L192.64 88.31 L192.15 89.00 L191.85 89.00 L191.36 88.31 L191.10 87.62 L190.90 86.92 L190.73 86.23 L190.58 85.54 L190.44 84.85 L190.31 84.15 L190.20 83.46 L190.12 82.77 L190.12 82.08 L190.12 81.38 L190.12 80.69 L190.12 80.00 L190.12 79.31 L190.12 78.62 L190.12 77.92 L190.12 77.23 L190.15 76.54 L190.20 75.85 L190.24 75.15 L190.29 74.46 L190.34 73.77 L190.39 73.08 L190.44 72.38 L190.49 71.69 L190.55 71.00 L190.60 70.31 L190.66 69.62 L190.73 68.92 L190.79 68.23 L190.86 67.54 L190.93 66.85 L191.01 66.15 L191.10 65.46 L191.19 64.77 L191.30 64.08 L191.43 63.38 L191.60 62.69 L191.85 62.00ZM201.25 62.00 L201.50 62.69 L201.67 63.38 L201.80 64.08 L201.91 64.77 L202.00 65.46 L202.09 66.15 L202.17 66.85 L202.24 67.54 L202.31 68.23 L202.37 68.92 L202.44 69.62 L202.50 70.31 L202.55 71.00 L202.61 71.69 L202.66 72.38 L202.71 73.08 L202.76 73.77 L202.81 74.46 L202.86 75.15 L202.90 75.85 L202.95 76.54 L202.97 77.23 L202.97 77.92 L202.97 78.62 L202.97 79.31 L202.97 80.00 L202.97 80.69 L202.97 81.38 L202.97 82.08 L202.97 82.77 L202.90 83.46 L202.79 84.15 L202.66 84.85 L202.52 85.54 L202.37 86.23 L202.20 86.92 L202.00 87.62 L201.74 88.31 L201.25 89.00 L200.95 89.00 L200.46 88.31 L200.20 87.62 L200.00 86.92 L199.83 86.23 L199.68 85.54 L199.54 84.85 L199.41 84.15 L199.30 83.46 L199.22 82.77 L199.22 82.08 L199.22 81.38 L199.22 80.69 L199.22 80.00 L199.22 79.31 L199.22 78.62 L199.22 77.92 L199.22 77.23 L199.25 76.54 L199.30 75.85 L199.34 75.15 L199.39 74.46 L199.44 73.77 L199.49 73.08 L199.54 72.38 L199.59 71.69 L199.65 71.00 L199.70 70.31 L199.76 69.62 L199.83 68.92 L199.89 68.23 L199.96 67.54 L200.03 66.85 L200.11 66.15 L200.20 65.46 L200.29 64.77 L200.40 64.08 L200.53 63.38 L200.70 62.69 L200.95 62.00ZM210.35 62.00 L210.60 62.69 L210.77 63.38 L210.90 64.08 L211.01 64.77 L211.10 65.46 L211.19 66.15 L211.27 66.85 L211.34 67.54 L211.41 68.23 L211.47 68.92 L211.54 69.62 L211.60 70.31 L211.65 71.00 L211.71 71.69 L211.76 72.38 L211.81 73.08 L211.86 73.77 L211.91 74.46 L211.96 75.15 L212.00 75.85 L212.05 76.54 L212.07 77.23 L212.07 77.92 L212.07 78.62 L212.07 79.31 L212.07 80.00 L212.07 80.69 L212.07 81.38 L212.07 82.08 L212.07 82.77 L212.00 83.46 L211.89 84.15 L211.76 84.85 L211.62 85.54 L211.47 86.23 L211.30 86.92 L211.10 87.62 L210.84 88.31 L210.35 89.00 L210.05 89.00 L209.56 88.31 L209.30 87.62 L209.10 86.92 L208.93 86.23 L208.78 85.54 L208.64 84.85 L208.51 84.15 L208.40 83.46 L208.32 82.77 L208.32 82.08 L208.32 81.38 L208.32 80.69 L208.32 80.00 L208.32 79.31 L208.32 78.62 L208.32 77.92 L208.32 77.23 L208.35 76.54 L208.40 75.85 L208.44 75.15 L208.49 74.46 L208.54 73.77 L208.59 73.08 L208.64 72.38 L208.69 71.69 L208.75 71.00 L208.80 70.31 L208.86 69.62 L208.93 68.92 L208.99 68.23 L209.06 67.54 L209.13 66.85 L209.21 66.15 L209.30 65.46 L209.39 64.77 L209.50 64.08 L209.63 63.38 L209.80 62.69 L210.05 62.00ZM242.75 24.50 L243.40 26.21 L243.73 27.91 L243.99 29.62 L244.10 31.32 L244.10 33.03 L244.10 34.73 L244.10 36.44 L244.10 38.14 L244.10 39.85 L244.10 41.55 L244.10 43.26 L244.10 44.96 L244.10 46.67 L244.10 48.37 L244.10 50.08 L244.10 51.78 L244.10 53.49 L244.10 55.19 L244.10 56.90 L244.10 58.60 L244.10 60.31 L244.10 62.01 L244.10 63.72 L244.10 65.42 L244.10 67.13 L244.10 68.83 L244.08 70.54 L244.02 72.24 L243.95 73.95 L243.88 75.65 L243.81 77.36 L243.73 79.06 L243.65 80.77 L243.56 82.47 L243.45 84.18 L243.34 85.88 L243.20 87.59 L243.03 89.29 L242.75 91.00 L242.45 91.00 L242.17 89.29 L242.00 87.59 L241.86 85.88 L241.75 84.18 L241.64 82.47 L241.55 80.77 L241.47 79.06 L241.39 77.36 L241.32 75.65 L241.25 73.95 L241.18 72.24 L241.12 70.54 L241.10 68.83 L241.10 67.13 L241.10 65.42 L241.10 63.72 L241.10 62.01 L241.10 60.31 L241.10 58.60 L241.10 56.90 L241.10 55.19 L241.10 53.49 L241.10 51.78 L241.10 50.08 L241.10 48.37 L241.10 46.67 L241.10 44.96 L241.10 43.26 L241.10 41.55 L241.10 39.85 L241.10 38.14 L241.10 36.44 L241.10 34.73 L241.10 33.03 L241.10 31.32 L241.21 29.62 L241.47 27.91 L241.80 26.21 L242.45 24.50ZM251.85 24.50 L252.50 26.21 L252.83 27.91 L253.09 29.62 L253.20 31.32 L253.20 33.03 L253.20 34.73 L253.20 36.44 L253.20 38.14 L253.20 39.85 L253.20 41.55 L253.20 43.26 L253.20 44.96 L253.20 46.67 L253.20 48.37 L253.20 50.08 L253.20 51.78 L253.20 53.49 L253.20 55.19 L253.20 56.90 L253.20 58.60 L253.20 60.31 L253.20 62.01 L253.20 63.72 L253.20 65.42 L253.20 67.13 L253.20 68.83 L253.18 70.54 L253.12 72.24 L253.05 73.95 L252.98 75.65 L252.91 77.36 L252.83 79.06 L252.75 80.77 L252.66 82.47 L252.55 84.18 L252.44 85.88 L252.30 87.59 L252.13 89.29 L251.85 91.00 L251.55 91.00 L251.27 89.29 L251.10 87.59 L250.96 85.88 L250.85 84.18 L250.74 82.47 L250.65 80.77 L250.57 79.06 L250.49 77.36 L250.42 75.65 L250.35 73.95 L250.28 72.24 L250.22 70.54 L250.20 68.83 L250.20 67.13 L250.20 65.42 L250.20 63.72 L250.20 62.01 L250.20 60.31 L250.20 58.60 L250.20 56.90 L250.20 55.19 L250.20 53.49 L250.20 51.78 L250.20 50.08 L250.20 48.37 L250.20 46.67 L250.20 44.96 L250.20 43.26 L250.20 41.55 L250.20 39.85 L250.20 38.14 L250.20 36.44 L250.20 34.73 L250.20 33.03 L250.20 31.32 L250.31 29.62 L250.57 27.91 L250.90 26.21 L251.55 24.50ZM260.95 28.00 L261.56 29.62 L261.87 31.23 L262.11 32.85 L262.26 34.46 L262.26 36.08 L262.26 37.69 L262.26 39.31 L262.26 40.92 L262.26 42.54 L262.26 44.15 L262.26 45.77 L262.26 47.38 L262.26 49.00 L262.26 50.62 L262.26 52.23 L262.26 53.85 L262.26 55.46 L262.26 57.08 L262.26 58.69 L262.26 60.31 L262.26 61.92 L262.26 63.54 L262.26 65.15 L262.26 66.77 L262.26 68.38 L262.26 70.00 L262.26 71.62 L262.21 73.23 L262.15 74.85 L262.08 76.46 L262.01 78.08 L261.93 79.69 L261.84 81.31 L261.75 82.92 L261.65 84.54 L261.54 86.15 L261.40 87.77 L261.23 89.38 L260.95 91.00 L260.65 91.00 L260.37 89.38 L260.20 87.77 L260.06 86.15 L259.95 84.54 L259.85 82.92 L259.76 81.31 L259.67 79.69 L259.59 78.08 L259.52 76.46 L259.45 74.85 L259.39 73.23 L259.34 71.62 L259.34 70.00 L259.34 68.38 L259.34 66.77 L259.34 65.15 L259.34 63.54 L259.34 61.92 L259.34 60.31 L259.34 58.69 L259.34 57.08 L259.34 55.46 L259.34 53.85 L259.34 52.23 L259.34 50.62 L259.34 49.00 L259.34 47.38 L259.34 45.77 L259.34 44.15 L259.34 42.54 L259.34 40.92 L259.34 39.31 L259.34 37.69 L259.34 36.08 L259.34 34.46 L259.49 32.85 L259.73 31.23 L260.04 29.62 L260.65 28.00ZM270.05 33.00 L270.40 34.49 L270.60 35.97 L270.76 37.46 L270.89 38.95 L271.01 40.44 L271.12 41.92 L271.21 43.41 L271.25 44.90 L271.25 46.38 L271.25 47.87 L271.25 49.36 L271.25 50.85 L271.25 52.33 L271.25 53.82 L271.25 55.31 L271.25 56.79 L271.25 58.28 L271.25 59.77 L271.25 61.26 L271.25 62.74 L271.25 64.23 L271.25 65.72 L271.25 67.21 L271.25 68.69 L271.25 70.18 L271.25 71.67 L271.25 73.15 L271.22 74.64 L271.16 76.13 L271.10 77.62 L271.03 79.10 L270.96 80.59 L270.88 82.08 L270.79 83.56 L270.70 85.05 L270.59 86.54 L270.46 88.03 L270.30 89.51 L270.05 91.00 L269.75 91.00 L269.50 89.51 L269.34 88.03 L269.21 86.54 L269.10 85.05 L269.01 83.56 L268.92 82.08 L268.84 80.59 L268.77 79.10 L268.70 77.62 L268.64 76.13 L268.58 74.64 L268.55 73.15 L268.55 71.67 L268.55 70.18 L268.55 68.69 L268.55 67.21 L268.55 65.72 L268.55 64.23 L268.55 62.74 L268.55 61.26 L268.55 59.77 L268.55 58.28 L268.55 56.79 L268.55 55.31 L268.55 53.82 L268.55 52.33 L268.55 50.85 L268.55 49.36 L268.55 47.87 L268.55 46.38 L268.55 44.90 L268.59 43.41 L268.68 41.92 L268.79 40.44 L268.91 38.95 L269.04 37.46 L269.20 35.97 L269.40 34.49 L269.75 33.00ZM279.15 45.00 L279.61 46.22 L279.86 47.44 L280.06 48.65 L280.22 49.87 L280.36 51.09 L280.49 52.31 L280.61 53.53 L280.73 54.74 L280.83 55.96 L280.88 57.18 L280.88 58.40 L280.88 59.62 L280.88 60.83 L280.88 62.05 L280.88 63.27 L280.88 64.49 L280.88 65.71 L280.88 66.92 L280.88 68.14 L280.88 69.36 L280.88 70.58 L280.88 71.79 L280.88 73.01 L280.88 74.23 L280.88 75.45 L280.88 76.67 L280.88 77.88 L280.88 79.10 L280.88 80.32 L280.88 81.54 L280.88 82.76 L280.88 83.97 L280.88 85.19 L280.88 86.41 L280.76 87.63 L280.53 88.85 L280.25 90.06 L279.88 91.28 L279.15 92.50 L278.85 92.50 L278.12 91.28 L277.75 90.06 L277.47 88.85 L277.24 87.63 L277.12 86.41 L277.12 85.19 L277.12 83.97 L277.12 82.76 L277.12 81.54 L277.12 80.32 L277.12 79.10 L277.12 77.88 L277.12 76.67 L277.12 75.45 L277.12 74.23 L277.12 73.01 L277.12 71.79 L277.12 70.58 L277.12 69.36 L277.12 68.14 L277.12 66.92 L277.12 65.71 L277.12 64.49 L277.12 63.27 L277.12 62.05 L277.12 60.83 L277.12 59.62 L277.12 58.40 L277.12 57.18 L277.17 55.96 L277.27 54.74 L277.39 53.53 L277.51 52.31 L277.64 51.09 L277.78 49.87 L277.94 48.65 L278.14 47.44 L278.39 46.22 L278.85 45.00ZM288.25 46.00 L288.72 47.19 L288.97 48.38 L289.17 49.58 L289.33 50.77 L289.48 51.96 L289.61 53.15 L289.73 54.35 L289.85 55.54 L289.95 56.73 L289.98 57.92 L289.98 59.12 L289.98 60.31 L289.98 61.50 L289.98 62.69 L289.98 63.88 L289.98 65.08 L289.98 66.27 L289.98 67.46 L289.98 68.65 L289.98 69.85 L289.98 71.04 L289.98 72.23 L289.98 73.42 L289.98 74.62 L289.98 75.81 L289.98 77.00 L289.98 78.19 L289.98 79.38 L289.98 80.58 L289.98 81.77 L289.98 82.96 L289.98 84.15 L289.98 85.35 L289.98 86.54 L289.85 87.73 L289.61 88.92 L289.33 90.12 L288.97 91.31 L288.25 92.50 L287.95 92.50 L287.23 91.31 L286.87 90.12 L286.59 88.92 L286.35 87.73 L286.23 86.54 L286.23 85.35 L286.23 84.15 L286.23 82.96 L286.23 81.77 L286.23 80.58 L286.23 79.38 L286.23 78.19 L286.23 77.00 L286.23 75.81 L286.23 74.62 L286.23 73.42 L286.23 72.23 L286.23 71.04 L286.23 69.85 L286.23 68.65 L286.23 67.46 L286.23 66.27 L286.23 65.08 L286.23 63.88 L286.23 62.69 L286.23 61.50 L286.23 60.31 L286.23 59.12 L286.23 57.92 L286.25 56.73 L286.35 55.54 L286.47 54.35 L286.59 53.15 L286.72 51.96 L286.87 50.77 L287.03 49.58 L287.23 48.38 L287.48 47.19 L287.95 46.00ZM297.35 46.00 L297.82 47.19 L298.07 48.38 L298.27 49.58 L298.43 50.77 L298.58 51.96 L298.71 53.15 L298.83 54.35 L298.95 55.54 L299.05 56.73 L299.07 57.92 L299.07 59.12 L299.07 60.31 L299.07 61.50 L299.07 62.69 L299.07 63.88 L299.07 65.08 L299.07 66.27 L299.07 67.46 L299.07 68.65 L299.07 69.85 L299.07 71.04 L299.07 72.23 L299.07 73.42 L299.07 74.62 L299.07 75.81 L299.07 77.00 L299.07 78.19 L299.07 79.38 L299.07 80.58 L299.07 81.77 L299.07 82.96 L299.07 84.15 L299.07 85.35 L299.07 86.54 L298.95 87.73 L298.71 88.92 L298.43 90.12 L298.07 91.31 L297.35 92.50 L297.05 92.50 L296.33 91.31 L295.97 90.12 L295.69 88.92 L295.45 87.73 L295.32 86.54 L295.32 85.35 L295.32 84.15 L295.32 82.96 L295.32 81.77 L295.32 80.58 L295.32 79.38 L295.32 78.19 L295.32 77.00 L295.32 75.81 L295.32 74.62 L295.32 73.42 L295.32 72.23 L295.32 71.04 L295.32 69.85 L295.32 68.65 L295.32 67.46 L295.32 66.27 L295.32 65.08 L295.32 63.88 L295.32 62.69 L295.32 61.50 L295.32 60.31 L295.32 59.12 L295.32 57.92 L295.35 56.73 L295.45 55.54 L295.57 54.35 L295.69 53.15 L295.82 51.96 L295.97 50.77 L296.13 49.58 L296.33 48.38 L296.58 47.19 L297.05 46.00ZM306.45 46.00 L306.92 47.19 L307.17 48.38 L307.37 49.58 L307.53 50.77 L307.68 51.96 L307.81 53.15 L307.93 54.35 L308.05 55.54 L308.15 56.73 L308.18 57.92 L308.18 59.12 L308.18 60.31 L308.18 61.50 L308.18 62.69 L308.18 63.88 L308.18 65.08 L308.18 66.27 L308.18 67.46 L308.18 68.65 L308.18 69.85 L308.18 71.04 L308.18 72.23 L308.18 73.42 L308.18 74.62 L308.18 75.81 L308.18 77.00 L308.18 78.19 L308.18 79.38 L308.18 80.58 L308.18 81.77 L308.18 82.96 L308.18 84.15 L308.18 85.35 L308.18 86.54 L308.05 87.73 L307.81 88.92 L307.53 90.12 L307.17 91.31 L306.45 92.50 L306.15 92.50 L305.43 91.31 L305.07 90.12 L304.79 88.92 L304.55 87.73 L304.43 86.54 L304.43 85.35 L304.43 84.15 L304.43 82.96 L304.43 81.77 L304.43 80.58 L304.43 79.38 L304.43 78.19 L304.43 77.00 L304.43 75.81 L304.43 74.62 L304.43 73.42 L304.43 72.23 L304.43 71.04 L304.43 69.85 L304.43 68.65 L304.43 67.46 L304.43 66.27 L304.43 65.08 L304.43 63.88 L304.43 62.69 L304.43 61.50 L304.43 60.31 L304.43 59.12 L304.43 57.92 L304.45 56.73 L304.55 55.54 L304.67 54.35 L304.79 53.15 L304.92 51.96 L305.07 50.77 L305.23 49.58 L305.43 48.38 L305.68 47.19 L306.15 46.00ZM338.75 25.00 L339.01 26.69 L339.18 28.38 L339.31 30.08 L339.42 31.77 L339.51 33.46 L339.60 35.15 L339.68 36.85 L339.76 38.54 L339.83 40.23 L339.84 41.92 L339.84 43.62 L339.84 45.31 L339.84 47.00 L339.84 48.69 L339.84 50.38 L339.84 52.08 L339.84 53.77 L339.84 55.46 L339.84 57.15 L339.84 58.85 L339.84 60.54 L339.84 62.23 L339.84 63.92 L339.84 65.62 L339.84 67.31 L339.84 69.00 L339.84 70.69 L339.84 72.38 L339.84 74.08 L339.84 75.77 L339.84 77.46 L339.84 79.15 L339.84 80.85 L339.84 82.54 L339.84 84.23 L339.84 85.92 L339.67 87.62 L339.36 89.31 L338.75 91.00 L338.45 91.00 L337.84 89.31 L337.53 87.62 L337.36 85.92 L337.36 84.23 L337.36 82.54 L337.36 80.85 L337.36 79.15 L337.36 77.46 L337.36 75.77 L337.36 74.08 L337.36 72.38 L337.36 70.69 L337.36 69.00 L337.36 67.31 L337.36 65.62 L337.36 63.92 L337.36 62.23 L337.36 60.54 L337.36 58.85 L337.36 57.15 L337.36 55.46 L337.36 53.77 L337.36 52.08 L337.36 50.38 L337.36 48.69 L337.36 47.00 L337.36 45.31 L337.36 43.62 L337.36 41.92 L337.37 40.23 L337.44 38.54 L337.52 36.85 L337.60 35.15 L337.69 33.46 L337.78 31.77 L337.89 30.08 L338.02 28.38 L338.19 26.69 L338.45 25.00ZM347.85 26.00 L348.11 27.67 L348.27 29.33 L348.40 31.00 L348.51 32.67 L348.61 34.33 L348.69 36.00 L348.77 37.67 L348.85 39.33 L348.92 41.00 L348.94 42.67 L348.94 44.33 L348.94 46.00 L348.94 47.67 L348.94 49.33 L348.94 51.00 L348.94 52.67 L348.94 54.33 L348.94 56.00 L348.94 57.67 L348.94 59.33 L348.94 61.00 L348.94 62.67 L348.94 64.33 L348.94 66.00 L348.94 67.67 L348.94 69.33 L348.94 71.00 L348.94 72.67 L348.94 74.33 L348.94 76.00 L348.94 77.67 L348.94 79.33 L348.94 81.00 L348.94 82.67 L348.94 84.33 L348.94 86.00 L348.77 87.67 L348.45 89.33 L347.85 91.00 L347.55 91.00 L346.95 89.33 L346.63 87.67 L346.46 86.00 L346.46 84.33 L346.46 82.67 L346.46 81.00 L346.46 79.33 L346.46 77.67 L346.46 76.00 L346.46 74.33 L346.46 72.67 L346.46 71.00 L346.46 69.33 L346.46 67.67 L346.46 66.00 L346.46 64.33 L346.46 62.67 L346.46 61.00 L346.46 59.33 L346.46 57.67 L346.46 56.00 L346.46 54.33 L346.46 52.67 L346.46 51.00 L346.46 49.33 L346.46 47.67 L346.46 46.00 L346.46 44.33 L346.46 42.67 L346.48 41.00 L346.55 39.33 L346.63 37.67 L346.71 36.00 L346.79 34.33 L346.89 32.67 L347.00 31.00 L347.13 29.33 L347.29 27.67 L347.55 26.00ZM356.95 30.00 L357.15 31.56 L357.30 33.13 L357.41 34.69 L357.51 36.26 L357.59 37.82 L357.67 39.38 L357.74 40.95 L357.80 42.51 L357.86 44.08 L357.92 45.64 L357.97 47.21 L358.00 48.77 L358.00 50.33 L358.00 51.90 L358.00 53.46 L358.00 55.03 L358.00 56.59 L358.00 58.15 L358.00 59.72 L358.00 61.28 L358.00 62.85 L358.00 64.41 L358.00 65.97 L358.00 67.54 L358.00 69.10 L358.00 70.67 L358.00 72.23 L358.00 73.79 L358.00 75.36 L358.00 76.92 L358.00 78.49 L358.00 80.05 L358.00 81.62 L358.00 83.18 L358.00 84.74 L358.00 86.31 L357.80 87.87 L357.51 89.44 L356.95 91.00 L356.65 91.00 L356.09 89.44 L355.80 87.87 L355.60 86.31 L355.60 84.74 L355.60 83.18 L355.60 81.62 L355.60 80.05 L355.60 78.49 L355.60 76.92 L355.60 75.36 L355.60 73.79 L355.60 72.23 L355.60 70.67 L355.60 69.10 L355.60 67.54 L355.60 65.97 L355.60 64.41 L355.60 62.85 L355.60 61.28 L355.60 59.72 L355.60 58.15 L355.60 56.59 L355.60 55.03 L355.60 53.46 L355.60 51.90 L355.60 50.33 L355.60 48.77 L355.63 47.21 L355.68 45.64 L355.74 44.08 L355.80 42.51 L355.86 40.95 L355.93 39.38 L356.01 37.82 L356.09 36.26 L356.19 34.69 L356.30 33.13 L356.45 31.56 L356.65 30.00ZM366.05 32.00 L366.19 33.51 L366.31 35.03 L366.41 36.54 L366.48 38.05 L366.55 39.56 L366.61 41.08 L366.67 42.59 L366.73 44.10 L366.78 45.62 L366.82 47.13 L366.87 48.64 L366.91 50.15 L366.95 51.67 L366.99 53.18 L367.03 54.69 L367.06 56.21 L367.06 57.72 L367.06 59.23 L367.06 60.74 L367.06 62.26 L367.06 63.77 L367.06 65.28 L367.06 66.79 L367.06 68.31 L367.06 69.82 L367.06 71.33 L367.06 72.85 L367.06 74.36 L367.06 75.87 L367.06 77.38 L367.06 78.90 L367.06 80.41 L367.06 81.92 L367.06 83.44 L367.06 84.95 L367.06 86.46 L366.85 87.97 L366.57 89.49 L366.05 91.00 L365.75 91.00 L365.23 89.49 L364.95 87.97 L364.74 86.46 L364.74 84.95 L364.74 83.44 L364.74 81.92 L364.74 80.41 L364.74 78.90 L364.74 77.38 L364.74 75.87 L364.74 74.36 L364.74 72.85 L364.74 71.33 L364.74 69.82 L364.74 68.31 L364.74 66.79 L364.74 65.28 L364.74 63.77 L364.74 62.26 L364.74 60.74 L364.74 59.23 L364.74 57.72 L364.74 56.21 L364.77 54.69 L364.81 53.18 L364.85 51.67 L364.89 50.15 L364.93 48.64 L364.98 47.13 L365.02 45.62 L365.07 44.10 L365.13 42.59 L365.19 41.08 L365.25 39.56 L365.32 38.05 L365.39 36.54 L365.49 35.03 L365.61 33.51 L365.75 32.00ZM375.15 52.00 L375.48 53.04 L375.68 54.08 L375.84 55.12 L375.96 56.15 L376.08 57.19 L376.18 58.23 L376.28 59.27 L376.36 60.31 L376.45 61.35 L376.52 62.38 L376.60 63.42 L376.67 64.46 L376.74 65.50 L376.80 66.54 L376.87 67.58 L376.93 68.62 L376.99 69.65 L377.05 70.69 L377.06 71.73 L377.06 72.77 L377.06 73.81 L377.06 74.85 L377.06 75.88 L377.06 76.92 L377.06 77.96 L377.06 79.00 L377.06 80.04 L377.06 81.08 L377.06 82.12 L377.06 83.15 L377.06 84.19 L377.06 85.23 L377.02 86.27 L376.84 87.31 L376.65 88.35 L376.43 89.38 L376.17 90.42 L375.82 91.46 L375.15 92.50 L374.85 92.50 L374.18 91.46 L373.83 90.42 L373.57 89.38 L373.35 88.35 L373.16 87.31 L372.98 86.27 L372.94 85.23 L372.94 84.19 L372.94 83.15 L372.94 82.12 L372.94 81.08 L372.94 80.04 L372.94 79.00 L372.94 77.96 L372.94 76.92 L372.94 75.88 L372.94 74.85 L372.94 73.81 L372.94 72.77 L372.94 71.73 L372.95 70.69 L373.01 69.65 L373.07 68.62 L373.13 67.58 L373.20 66.54 L373.26 65.50 L373.33 64.46 L373.40 63.42 L373.48 62.38 L373.55 61.35 L373.64 60.31 L373.72 59.27 L373.82 58.23 L373.92 57.19 L374.04 56.15 L374.16 55.12 L374.32 54.08 L374.52 53.04 L374.85 52.00ZM384.25 57.00 L384.58 57.90 L384.78 58.79 L384.93 59.69 L385.06 60.59 L385.17 61.49 L385.27 62.38 L385.37 63.28 L385.46 64.18 L385.54 65.08 L385.62 65.97 L385.69 66.87 L385.76 67.77 L385.83 68.67 L385.89 69.56 L385.96 70.46 L386.02 71.36 L386.08 72.26 L386.12 73.15 L386.12 74.05 L386.12 74.95 L386.12 75.85 L386.12 76.74 L386.12 77.64 L386.12 78.54 L386.12 79.44 L386.12 80.33 L386.12 81.23 L386.12 82.13 L386.12 83.03 L386.12 83.92 L386.12 84.82 L386.09 85.72 L385.94 86.62 L385.78 87.51 L385.60 88.41 L385.40 89.31 L385.16 90.21 L384.85 91.10 L384.25 92.00 L383.95 92.00 L383.35 91.10 L383.04 90.21 L382.80 89.31 L382.60 88.41 L382.42 87.51 L382.26 86.62 L382.11 85.72 L382.08 84.82 L382.08 83.92 L382.08 83.03 L382.08 82.13 L382.08 81.23 L382.08 80.33 L382.08 79.44 L382.08 78.54 L382.08 77.64 L382.08 76.74 L382.08 75.85 L382.08 74.95 L382.08 74.05 L382.08 73.15 L382.12 72.26 L382.18 71.36 L382.24 70.46 L382.31 69.56 L382.37 68.67 L382.44 67.77 L382.51 66.87 L382.58 65.97 L382.66 65.08 L382.74 64.18 L382.83 63.28 L382.93 62.38 L383.03 61.49 L383.14 60.59 L383.27 59.69 L383.42 58.79 L383.62 57.90 L383.95 57.00ZM393.35 57.00 L393.68 57.90 L393.88 58.79 L394.03 59.69 L394.16 60.59 L394.27 61.49 L394.37 62.38 L394.47 63.28 L394.56 64.18 L394.64 65.08 L394.72 65.97 L394.79 66.87 L394.86 67.77 L394.93 68.67 L394.99 69.56 L395.06 70.46 L395.12 71.36 L395.18 72.26 L395.23 73.15 L395.23 74.05 L395.23 74.95 L395.23 75.85 L395.23 76.74 L395.23 77.64 L395.23 78.54 L395.23 79.44 L395.23 80.33 L395.23 81.23 L395.23 82.13 L395.23 83.03 L395.23 83.92 L395.23 84.82 L395.19 85.72 L395.04 86.62 L394.88 87.51 L394.70 88.41 L394.50 89.31 L394.26 90.21 L393.95 91.10 L393.35 92.00 L393.05 92.00 L392.45 91.10 L392.14 90.21 L391.90 89.31 L391.70 88.41 L391.52 87.51 L391.36 86.62 L391.21 85.72 L391.18 84.82 L391.18 83.92 L391.18 83.03 L391.18 82.13 L391.18 81.23 L391.18 80.33 L391.18 79.44 L391.18 78.54 L391.18 77.64 L391.18 76.74 L391.18 75.85 L391.18 74.95 L391.18 74.05 L391.18 73.15 L391.22 72.26 L391.28 71.36 L391.34 70.46 L391.41 69.56 L391.47 68.67 L391.54 67.77 L391.61 66.87 L391.68 65.97 L391.76 65.08 L391.84 64.18 L391.93 63.28 L392.03 62.38 L392.13 61.49 L392.24 60.59 L392.37 59.69 L392.52 58.79 L392.72 57.90 L393.05 57.00ZM402.45 57.00 L402.78 57.90 L402.98 58.79 L403.13 59.69 L403.26 60.59 L403.37 61.49 L403.47 62.38 L403.57 63.28 L403.66 64.18 L403.74 65.08 L403.82 65.97 L403.89 66.87 L403.96 67.77 L404.03 68.67 L404.09 69.56 L404.16 70.46 L404.22 71.36 L404.28 72.26 L404.32 73.15 L404.32 74.05 L404.32 74.95 L404.32 75.85 L404.32 76.74 L404.32 77.64 L404.32 78.54 L404.32 79.44 L404.32 80.33 L404.32 81.23 L404.32 82.13 L404.32 83.03 L404.32 83.92 L404.32 84.82 L404.29 85.72 L404.14 86.62 L403.98 87.51 L403.80 88.41 L403.60 89.31 L403.36 90.21 L403.05 91.10 L402.45 92.00 L402.15 92.00 L401.55 91.10 L401.24 90.21 L401.00 89.31 L400.80 88.41 L400.62 87.51 L400.46 86.62 L400.31 85.72 L400.28 84.82 L400.28 83.92 L400.28 83.03 L400.28 82.13 L400.28 81.23 L400.28 80.33 L400.28 79.44 L400.28 78.54 L400.28 77.64 L400.28 76.74 L400.28 75.85 L400.28 74.95 L400.28 74.05 L400.28 73.15 L400.32 72.26 L400.38 71.36 L400.44 70.46 L400.51 69.56 L400.57 68.67 L400.64 67.77 L400.71 66.87 L400.78 65.97 L400.86 65.08 L400.94 64.18 L401.03 63.28 L401.13 62.38 L401.23 61.49 L401.34 60.59 L401.47 59.69 L401.62 58.79 L401.82 57.90 L402.15 57.00ZM434.95 48.00 L435.17 49.13 L435.32 50.26 L435.43 51.38 L435.53 52.51 L435.62 53.64 L435.69 54.77 L435.77 55.90 L435.83 57.03 L435.90 58.15 L435.95 59.28 L436.01 60.41 L436.06 61.54 L436.12 62.67 L436.17 63.79 L436.21 64.92 L436.26 66.05 L436.31 67.18 L436.35 68.31 L436.38 69.44 L436.38 70.56 L436.38 71.69 L436.38 72.82 L436.38 73.95 L436.38 75.08 L436.38 76.21 L436.38 77.33 L436.38 78.46 L436.37 79.59 L436.30 80.72 L436.22 81.85 L436.14 82.97 L436.05 84.10 L435.96 85.23 L435.86 86.36 L435.75 87.49 L435.62 88.62 L435.47 89.74 L435.27 90.87 L434.95 92.00 L434.65 92.00 L434.33 90.87 L434.13 89.74 L433.98 88.62 L433.85 87.49 L433.74 86.36 L433.64 85.23 L433.55 84.10 L433.46 82.97 L433.38 81.85 L433.30 80.72 L433.23 79.59 L433.23 78.46 L433.23 77.33 L433.23 76.21 L433.23 75.08 L433.23 73.95 L433.23 72.82 L433.23 71.69 L433.23 70.56 L433.23 69.44 L433.25 68.31 L433.29 67.18 L433.34 66.05 L433.39 64.92 L433.43 63.79 L433.48 62.67 L433.54 61.54 L433.59 60.41 L433.65 59.28 L433.70 58.15 L433.77 57.03 L433.83 55.90 L433.91 54.77 L433.98 53.64 L434.07 52.51 L434.17 51.38 L434.28 50.26 L434.43 49.13 L434.65 48.00ZM444.05 48.00 L444.27 49.13 L444.42 50.26 L444.53 51.38 L444.63 52.51 L444.72 53.64 L444.79 54.77 L444.87 55.90 L444.93 57.03 L445.00 58.15 L445.05 59.28 L445.11 60.41 L445.16 61.54 L445.22 62.67 L445.27 63.79 L445.31 64.92 L445.36 66.05 L445.41 67.18 L445.45 68.31 L445.48 69.44 L445.48 70.56 L445.48 71.69 L445.48 72.82 L445.48 73.95 L445.48 75.08 L445.48 76.21 L445.48 77.33 L445.48 78.46 L445.47 79.59 L445.40 80.72 L445.32 81.85 L445.24 82.97 L445.15 84.10 L445.06 85.23 L444.96 86.36 L444.85 87.49 L444.72 88.62 L444.57 89.74 L444.37 90.87 L444.05 92.00 L443.75 92.00 L443.43 90.87 L443.23 89.74 L443.08 88.62 L442.95 87.49 L442.84 86.36 L442.74 85.23 L442.65 84.10 L442.56 82.97 L442.48 81.85 L442.40 80.72 L442.33 79.59 L442.33 78.46 L442.33 77.33 L442.33 76.21 L442.33 75.08 L442.33 73.95 L442.33 72.82 L442.33 71.69 L442.33 70.56 L442.33 69.44 L442.35 68.31 L442.39 67.18 L442.44 66.05 L442.49 64.92 L442.53 63.79 L442.58 62.67 L442.64 61.54 L442.69 60.41 L442.75 59.28 L442.80 58.15 L442.87 57.03 L442.93 55.90 L443.01 54.77 L443.08 53.64 L443.17 52.51 L443.27 51.38 L443.38 50.26 L443.53 49.13 L443.75 48.00ZM453.15 55.00 L453.44 55.94 L453.63 56.87 L453.77 57.81 L453.88 58.74 L453.99 59.68 L454.08 60.62 L454.17 61.55 L454.25 62.49 L454.33 63.42 L454.40 64.36 L454.47 65.29 L454.53 66.23 L454.59 67.17 L454.65 68.10 L454.71 69.04 L454.77 69.97 L454.80 70.91 L454.80 71.85 L454.80 72.78 L454.80 73.72 L454.80 74.65 L454.80 75.59 L454.80 76.53 L454.80 77.46 L454.80 78.40 L454.80 79.33 L454.80 80.27 L454.78 81.21 L454.70 82.14 L454.61 83.08 L454.52 84.01 L454.42 84.95 L454.32 85.88 L454.20 86.82 L454.07 87.76 L453.93 88.69 L453.76 89.63 L453.54 90.56 L453.15 91.50 L452.85 91.50 L452.46 90.56 L452.24 89.63 L452.07 88.69 L451.93 87.76 L451.80 86.82 L451.68 85.88 L451.58 84.95 L451.48 84.01 L451.39 83.08 L451.30 82.14 L451.22 81.21 L451.20 80.27 L451.20 79.33 L451.20 78.40 L451.20 77.46 L451.20 76.53 L451.20 75.59 L451.20 74.65 L451.20 73.72 L451.20 72.78 L451.20 71.85 L451.20 70.91 L451.23 69.97 L451.29 69.04 L451.35 68.10 L451.41 67.17 L451.47 66.23 L451.53 65.29 L451.60 64.36 L451.67 63.42 L451.75 62.49 L451.83 61.55 L451.92 60.62 L452.01 59.68 L452.12 58.74 L452.23 57.81 L452.37 56.87 L452.56 55.94 L452.85 55.00ZM462.25 55.00 L462.54 55.94 L462.73 56.87 L462.87 57.81 L462.98 58.74 L463.09 59.68 L463.18 60.62 L463.27 61.55 L463.35 62.49 L463.43 63.42 L463.50 64.36 L463.57 65.29 L463.63 66.23 L463.69 67.17 L463.75 68.10 L463.81 69.04 L463.87 69.97 L463.90 70.91 L463.90 71.85 L463.90 72.78 L463.90 73.72 L463.90 74.65 L463.90 75.59 L463.90 76.53 L463.90 77.46 L463.90 78.40 L463.90 79.33 L463.90 80.27 L463.88 81.21 L463.80 82.14 L463.71 83.08 L463.62 84.01 L463.52 84.95 L463.42 85.88 L463.30 86.82 L463.17 87.76 L463.03 88.69 L462.86 89.63 L462.64 90.56 L462.25 91.50 L461.95 91.50 L461.56 90.56 L461.34 89.63 L461.17 88.69 L461.03 87.76 L460.90 86.82 L460.78 85.88 L460.68 84.95 L460.58 84.01 L460.49 83.08 L460.40 82.14 L460.32 81.21 L460.30 80.27 L460.30 79.33 L460.30 78.40 L460.30 77.46 L460.30 76.53 L460.30 75.59 L460.30 74.65 L460.30 73.72 L460.30 72.78 L460.30 71.85 L460.30 70.91 L460.33 69.97 L460.39 69.04 L460.45 68.10 L460.51 67.17 L460.57 66.23 L460.63 65.29 L460.70 64.36 L460.77 63.42 L460.85 62.49 L460.93 61.55 L461.02 60.62 L461.11 59.68 L461.22 58.74 L461.33 57.81 L461.47 56.87 L461.66 55.94 L461.95 55.00ZM471.35 56.00 L471.69 56.91 L471.89 57.82 L472.05 58.73 L472.18 59.64 L472.29 60.55 L472.40 61.46 L472.50 62.37 L472.58 63.28 L472.67 64.19 L472.75 65.10 L472.82 66.01 L472.90 66.92 L472.97 67.83 L473.03 68.74 L473.10 69.65 L473.16 70.56 L473.19 71.47 L473.19 72.38 L473.19 73.29 L473.19 74.21 L473.19 75.12 L473.19 76.03 L473.19 76.94 L473.19 77.85 L473.19 78.76 L473.19 79.67 L473.19 80.58 L473.14 81.49 L473.05 82.40 L472.96 83.31 L472.86 84.22 L472.75 85.13 L472.63 86.04 L472.51 86.95 L472.37 87.86 L472.21 88.77 L472.03 89.68 L471.79 90.59 L471.35 91.50 L471.05 91.50 L470.61 90.59 L470.37 89.68 L470.19 88.77 L470.03 87.86 L469.89 86.95 L469.77 86.04 L469.65 85.13 L469.54 84.22 L469.44 83.31 L469.35 82.40 L469.26 81.49 L469.21 80.58 L469.21 79.67 L469.21 78.76 L469.21 77.85 L469.21 76.94 L469.21 76.03 L469.21 75.12 L469.21 74.21 L469.21 73.29 L469.21 72.38 L469.21 71.47 L469.24 70.56 L469.30 69.65 L469.37 68.74 L469.43 67.83 L469.50 66.92 L469.58 66.01 L469.65 65.10 L469.73 64.19 L469.82 63.28 L469.90 62.37 L470.00 61.46 L470.11 60.55 L470.22 59.64 L470.35 58.73 L470.51 57.82 L470.71 56.91 L471.05 56.00ZM480.45 56.00 L480.79 56.91 L480.99 57.82 L481.15 58.73 L481.28 59.64 L481.39 60.55 L481.50 61.46 L481.60 62.37 L481.68 63.28 L481.77 64.19 L481.85 65.10 L481.92 66.01 L482.00 66.92 L482.07 67.83 L482.13 68.74 L482.20 69.65 L482.26 70.56 L482.29 71.47 L482.29 72.38 L482.29 73.29 L482.29 74.21 L482.29 75.12 L482.29 76.03 L482.29 76.94 L482.29 77.85 L482.29 78.76 L482.29 79.67 L482.29 80.58 L482.24 81.49 L482.15 82.40 L482.06 83.31 L481.96 84.22 L481.85 85.13 L481.73 86.04 L481.61 86.95 L481.47 87.86 L481.31 88.77 L481.13 89.68 L480.89 90.59 L480.45 91.50 L480.15 91.50 L479.71 90.59 L479.47 89.68 L479.29 88.77 L479.13 87.86 L478.99 86.95 L478.87 86.04 L478.75 85.13 L478.64 84.22 L478.54 83.31 L478.45 82.40 L478.36 81.49 L478.31 80.58 L478.31 79.67 L478.31 78.76 L478.31 77.85 L478.31 76.94 L478.31 76.03 L478.31 75.12 L478.31 74.21 L478.31 73.29 L478.31 72.38 L478.31 71.47 L478.34 70.56 L478.40 69.65 L478.47 68.74 L478.53 67.83 L478.60 66.92 L478.68 66.01 L478.75 65.10 L478.83 64.19 L478.92 63.28 L479.00 62.37 L479.10 61.46 L479.21 60.55 L479.32 59.64 L479.45 58.73 L479.61 57.82 L479.81 56.91 L480.15 56.00ZM489.55 56.00 L489.89 56.91 L490.09 57.82 L490.25 58.73 L490.38 59.64 L490.49 60.55 L490.60 61.46 L490.70 62.37 L490.78 63.28 L490.87 64.19 L490.95 65.10 L491.02 66.01 L491.10 66.92 L491.17 67.83 L491.23 68.74 L491.30 69.65 L491.36 70.56 L491.39 71.47 L491.39 72.38 L491.39 73.29 L491.39 74.21 L491.39 75.12 L491.39 76.03 L491.39 76.94 L491.39 77.85 L491.39 78.76 L491.39 79.67 L491.39 80.58 L491.34 81.49 L491.25 82.40 L491.16 83.31 L491.06 84.22 L490.95 85.13 L490.83 86.04 L490.71 86.95 L490.57 87.86 L490.41 88.77 L490.23 89.68 L489.99 90.59 L489.55 91.50 L489.25 91.50 L488.81 90.59 L488.57 89.68 L488.39 88.77 L488.23 87.86 L488.09 86.95 L487.97 86.04 L487.85 85.13 L487.74 84.22 L487.64 83.31 L487.55 82.40 L487.46 81.49 L487.41 80.58 L487.41 79.67 L487.41 78.76 L487.41 77.85 L487.41 76.94 L487.41 76.03 L487.41 75.12 L487.41 74.21 L487.41 73.29 L487.41 72.38 L487.41 71.47 L487.44 70.56 L487.50 69.65 L487.57 68.74 L487.63 67.83 L487.70 66.92 L487.78 66.01 L487.85 65.10 L487.93 64.19 L488.02 63.28 L488.10 62.37 L488.20 61.46 L488.31 60.55 L488.42 59.64 L488.55 58.73 L488.71 57.82 L488.91 56.91 L489.25 56.00ZM498.65 56.00 L498.99 56.91 L499.19 57.82 L499.35 58.73 L499.48 59.64 L499.59 60.55 L499.70 61.46 L499.80 62.37 L499.88 63.28 L499.97 64.19 L500.05 65.10 L500.12 66.01 L500.20 66.92 L500.27 67.83 L500.33 68.74 L500.40 69.65 L500.46 70.56 L500.49 71.47 L500.49 72.38 L500.49 73.29 L500.49 74.21 L500.49 75.12 L500.49 76.03 L500.49 76.94 L500.49 77.85 L500.49 78.76 L500.49 79.67 L500.49 80.58 L500.44 81.49 L500.35 82.40 L500.26 83.31 L500.16 84.22 L500.05 85.13 L499.93 86.04 L499.81 86.95 L499.67 87.86 L499.51 88.77 L499.33 89.68 L499.09 90.59 L498.65 91.50 L498.35 91.50 L497.91 90.59 L497.67 89.68 L497.49 88.77 L497.33 87.86 L497.19 86.95 L497.07 86.04 L496.95 85.13 L496.84 84.22 L496.74 83.31 L496.65 82.40 L496.56 81.49 L496.51 80.58 L496.51 79.67 L496.51 78.76 L496.51 77.85 L496.51 76.94 L496.51 76.03 L496.51 75.12 L496.51 74.21 L496.51 73.29 L496.51 72.38 L496.51 71.47 L496.54 70.56 L496.60 69.65 L496.67 68.74 L496.73 67.83 L496.80 66.92 L496.88 66.01 L496.95 65.10 L497.03 64.19 L497.12 63.28 L497.20 62.37 L497.30 61.46 L497.41 60.55 L497.52 59.64 L497.65 58.73 L497.81 57.82 L498.01 56.91 L498.35 56.00Z" fill="#000" opacity="0.22" filter="url(#bl)"/>
<g fill="#000" filter="url(#bl)"><path d="M182.90 42.00 L183.11 42.79 L183.19 43.59 L183.26 44.38 L183.31 45.18 L183.36 45.97 L183.41 46.77 L183.45 47.56 L183.48 48.36 L183.52 49.15 L183.55 49.95 L183.59 50.74 L183.62 51.54 L183.65 52.33 L183.67 53.13 L183.70 53.92 L183.73 54.72 L183.75 55.51 L183.78 56.31 L183.80 57.10 L183.82 57.90 L183.85 58.69 L183.87 59.49 L183.89 60.28 L183.90 61.08 L183.90 61.87 L183.90 62.67 L183.90 63.46 L183.90 64.26 L183.90 65.05 L183.90 65.85 L183.90 66.64 L183.90 67.44 L183.90 68.23 L183.90 69.03 L183.90 69.82 L183.79 70.62 L183.63 71.41 L183.41 72.21 L182.90 73.00 L182.90 73.00 L182.39 72.21 L182.17 71.41 L182.01 70.62 L181.90 69.82 L181.90 69.03 L181.90 68.23 L181.90 67.44 L181.90 66.64 L181.90 65.85 L181.90 65.05 L181.90 64.26 L181.90 63.46 L181.90 62.67 L181.90 61.87 L181.90 61.08 L181.91 60.28 L181.93 59.49 L181.95 58.69 L181.98 57.90 L182.00 57.10 L182.02 56.31 L182.05 55.51 L182.07 54.72 L182.10 53.92 L182.13 53.13 L182.15 52.33 L182.18 51.54 L182.21 50.74 L182.25 49.95 L182.28 49.15 L182.32 48.36 L182.35 47.56 L182.39 46.77 L182.44 45.97 L182.49 45.18 L182.54 44.38 L182.61 43.59 L182.69 42.79 L182.90 42.00Z" opacity="0.6"/><path d="M192.00 49.00 L192.13 49.51 L192.19 50.03 L192.23 50.54 L192.27 51.05 L192.30 51.56 L192.33 52.08 L192.36 52.59 L192.38 53.10 L192.40 53.62 L192.42 54.13 L192.45 54.64 L192.47 55.15 L192.48 55.67 L192.50 56.18 L192.52 56.69 L192.54 57.21 L192.55 57.72 L192.57 58.23 L192.59 58.74 L192.60 59.26 L192.62 59.77 L192.63 60.28 L192.64 60.79 L192.65 61.31 L192.65 61.82 L192.65 62.33 L192.65 62.85 L192.65 63.36 L192.65 63.87 L192.65 64.38 L192.65 64.90 L192.65 65.41 L192.65 65.92 L192.60 66.44 L192.54 66.95 L192.47 67.46 L192.38 67.97 L192.27 68.49 L192.00 69.00 L192.00 69.00 L191.73 68.49 L191.62 67.97 L191.53 67.46 L191.46 66.95 L191.40 66.44 L191.35 65.92 L191.35 65.41 L191.35 64.90 L191.35 64.38 L191.35 63.87 L191.35 63.36 L191.35 62.85 L191.35 62.33 L191.35 61.82 L191.35 61.31 L191.36 60.79 L191.37 60.28 L191.38 59.77 L191.40 59.26 L191.41 58.74 L191.43 58.23 L191.45 57.72 L191.46 57.21 L191.48 56.69 L191.50 56.18 L191.52 55.67 L191.53 55.15 L191.55 54.64 L191.58 54.13 L191.60 53.62 L191.62 53.10 L191.64 52.59 L191.67 52.08 L191.70 51.56 L191.73 51.05 L191.77 50.54 L191.81 50.03 L191.87 49.51 L192.00 49.00Z" opacity="0.25"/><path d="M201.10 52.00 L201.22 52.41 L201.28 52.82 L201.31 53.23 L201.35 53.64 L201.38 54.05 L201.40 54.46 L201.43 54.87 L201.45 55.28 L201.47 55.69 L201.49 56.10 L201.51 56.51 L201.53 56.92 L201.55 57.33 L201.56 57.74 L201.58 58.15 L201.60 58.56 L201.61 58.97 L201.63 59.38 L201.64 59.79 L201.65 60.21 L201.67 60.62 L201.68 61.03 L201.69 61.44 L201.70 61.85 L201.70 62.26 L201.70 62.67 L201.70 63.08 L201.70 63.49 L201.70 63.90 L201.70 64.31 L201.70 64.72 L201.69 65.13 L201.64 65.54 L201.60 65.95 L201.54 66.36 L201.48 66.77 L201.41 67.18 L201.32 67.59 L201.10 68.00 L201.10 68.00 L200.88 67.59 L200.79 67.18 L200.72 66.77 L200.66 66.36 L200.60 65.95 L200.56 65.54 L200.51 65.13 L200.50 64.72 L200.50 64.31 L200.50 63.90 L200.50 63.49 L200.50 63.08 L200.50 62.67 L200.50 62.26 L200.50 61.85 L200.51 61.44 L200.52 61.03 L200.53 60.62 L200.55 60.21 L200.56 59.79 L200.57 59.38 L200.59 58.97 L200.60 58.56 L200.62 58.15 L200.64 57.74 L200.65 57.33 L200.67 56.92 L200.69 56.51 L200.71 56.10 L200.73 55.69 L200.75 55.28 L200.77 54.87 L200.80 54.46 L200.82 54.05 L200.85 53.64 L200.89 53.23 L200.92 52.82 L200.98 52.41 L201.10 52.00Z" opacity="0.22"/><path d="M210.20 52.00 L210.32 52.41 L210.38 52.82 L210.41 53.23 L210.45 53.64 L210.48 54.05 L210.50 54.46 L210.53 54.87 L210.55 55.28 L210.57 55.69 L210.59 56.10 L210.61 56.51 L210.63 56.92 L210.65 57.33 L210.66 57.74 L210.68 58.15 L210.70 58.56 L210.71 58.97 L210.73 59.38 L210.74 59.79 L210.75 60.21 L210.77 60.62 L210.78 61.03 L210.79 61.44 L210.80 61.85 L210.80 62.26 L210.80 62.67 L210.80 63.08 L210.80 63.49 L210.80 63.90 L210.80 64.31 L210.80 64.72 L210.79 65.13 L210.74 65.54 L210.70 65.95 L210.64 66.36 L210.58 66.77 L210.51 67.18 L210.42 67.59 L210.20 68.00 L210.20 68.00 L209.98 67.59 L209.89 67.18 L209.82 66.77 L209.76 66.36 L209.70 65.95 L209.66 65.54 L209.61 65.13 L209.60 64.72 L209.60 64.31 L209.60 63.90 L209.60 63.49 L209.60 63.08 L209.60 62.67 L209.60 62.26 L209.60 61.85 L209.61 61.44 L209.62 61.03 L209.63 60.62 L209.65 60.21 L209.66 59.79 L209.67 59.38 L209.69 58.97 L209.70 58.56 L209.72 58.15 L209.74 57.74 L209.75 57.33 L209.77 56.92 L209.79 56.51 L209.81 56.10 L209.83 55.69 L209.85 55.28 L209.87 54.87 L209.90 54.46 L209.92 54.05 L209.95 53.64 L209.99 53.23 L210.02 52.82 L210.08 52.41 L210.20 52.00Z" opacity="0.22"/><path d="M434.80 48.00 L434.94 48.36 L435.00 48.72 L435.05 49.08 L435.09 49.44 L435.12 49.79 L435.15 50.15 L435.18 50.51 L435.21 50.87 L435.23 51.23 L435.26 51.59 L435.28 51.95 L435.30 52.31 L435.32 52.67 L435.34 53.03 L435.36 53.38 L435.38 53.74 L435.40 54.10 L435.41 54.46 L435.43 54.82 L435.45 55.18 L435.46 55.54 L435.48 55.90 L435.49 56.26 L435.50 56.62 L435.50 56.97 L435.50 57.33 L435.50 57.69 L435.50 58.05 L435.50 58.41 L435.50 58.77 L435.48 59.13 L435.44 59.49 L435.39 59.85 L435.34 60.21 L435.28 60.56 L435.22 60.92 L435.14 61.28 L435.04 61.64 L434.80 62.00 L434.80 62.00 L434.56 61.64 L434.46 61.28 L434.38 60.92 L434.32 60.56 L434.26 60.21 L434.21 59.85 L434.16 59.49 L434.12 59.13 L434.10 58.77 L434.10 58.41 L434.10 58.05 L434.10 57.69 L434.10 57.33 L434.10 56.97 L434.10 56.62 L434.11 56.26 L434.12 55.90 L434.14 55.54 L434.15 55.18 L434.17 54.82 L434.19 54.46 L434.20 54.10 L434.22 53.74 L434.24 53.38 L434.26 53.03 L434.28 52.67 L434.30 52.31 L434.32 51.95 L434.34 51.59 L434.37 51.23 L434.39 50.87 L434.42 50.51 L434.45 50.15 L434.48 49.79 L434.51 49.44 L434.55 49.08 L434.60 48.72 L434.66 48.36 L434.80 48.00Z" opacity="0.3"/><path d="M443.90 48.00 L444.04 48.36 L444.10 48.72 L444.15 49.08 L444.19 49.44 L444.22 49.79 L444.25 50.15 L444.28 50.51 L444.31 50.87 L444.33 51.23 L444.36 51.59 L444.38 51.95 L444.40 52.31 L444.42 52.67 L444.44 53.03 L444.46 53.38 L444.48 53.74 L444.50 54.10 L444.51 54.46 L444.53 54.82 L444.55 55.18 L444.56 55.54 L444.58 55.90 L444.59 56.26 L444.60 56.62 L444.60 56.97 L444.60 57.33 L444.60 57.69 L444.60 58.05 L444.60 58.41 L444.60 58.77 L444.58 59.13 L444.54 59.49 L444.49 59.85 L444.44 60.21 L444.38 60.56 L444.32 60.92 L444.24 61.28 L444.14 61.64 L443.90 62.00 L443.90 62.00 L443.66 61.64 L443.56 61.28 L443.48 60.92 L443.42 60.56 L443.36 60.21 L443.31 59.85 L443.26 59.49 L443.22 59.13 L443.20 58.77 L443.20 58.41 L443.20 58.05 L443.20 57.69 L443.20 57.33 L443.20 56.97 L443.20 56.62 L443.21 56.26 L443.22 55.90 L443.24 55.54 L443.25 55.18 L443.27 54.82 L443.29 54.46 L443.30 54.10 L443.32 53.74 L443.34 53.38 L443.36 53.03 L443.38 52.67 L443.40 52.31 L443.42 51.95 L443.44 51.59 L443.47 51.23 L443.49 50.87 L443.52 50.51 L443.55 50.15 L443.58 49.79 L443.61 49.44 L443.65 49.08 L443.70 48.72 L443.76 48.36 L443.90 48.00Z" opacity="0.3"/></g>
<defs><linearGradient id="g00" gradientUnits="userSpaceOnUse" x1="0" y1="33.5" x2="0" y2="68.5"><stop offset="0.000" stop-opacity="0.65"/><stop offset="0.143" stop-opacity="0.97"/><stop offset="0.829" stop-opacity="0.97"/><stop offset="1.000" stop-opacity="0.65"/></linearGradient><linearGradient id="g01" gradientUnits="userSpaceOnUse" x1="0" y1="33.5" x2="0" y2="70"><stop offset="0.000" stop-opacity="0.65"/><stop offset="0.137" stop-opacity="0.97"/><stop offset="0.836" stop-opacity="0.97"/><stop offset="1.000" stop-opacity="0.65"/></linearGradient><linearGradient id="g02" gradientUnits="userSpaceOnUse" x1="0" y1="33.5" x2="0" y2="68"><stop offset="0.000" stop-opacity="0.65"/><stop offset="0.145" stop-opacity="0.97"/><stop offset="0.826" stop-opacity="0.97"/><stop offset="1.000" stop-opacity="0.65"/></linearGradient><linearGradient id="g03" gradientUnits="userSpaceOnUse" x1="0" y1="34.5" x2="0" y2="70"><stop offset="0.000" stop-opacity="0.65"/><stop offset="0.141" stop-opacity="0.97"/><stop offset="0.831" stop-opacity="0.97"/><stop offset="1.000" stop-opacity="0.65"/></linearGradient><linearGradient id="g04" gradientUnits="userSpaceOnUse" x1="0" y1="38" x2="0" y2="78"><stop offset="0.000" stop-opacity="0.65"/><stop offset="0.150" stop-opacity="1"/><stop offset="0.850" stop-opacity="1"/><stop offset="1.000" stop-opacity="0.65"/></linearGradient><linearGradient id="g05" gradientUnits="userSpaceOnUse" x1="0" y1="45.5" x2="0" y2="79"><stop offset="0.000" stop-opacity="0.65"/><stop offset="0.179" stop-opacity="1"/><stop offset="0.821" stop-opacity="1"/><stop offset="1.000" stop-opacity="0.65"/></linearGradient><linearGradient id="g06" gradientUnits="userSpaceOnUse" x1="0" y1="50" x2="0" y2="80.5"><stop offset="0.000" stop-opacity="0.65"/><stop offset="0.197" stop-opacity="1"/><stop offset="0.803" stop-opacity="1"/><stop offset="1.000" stop-opacity="0.65"/></linearGradient><linearGradient id="g07" gradientUnits="userSpaceOnUse" x1="0" y1="49" x2="0" y2="81.5"><stop offset="0.000" stop-opacity="0.65"/><stop offset="0.185" stop-opacity="1"/><stop offset="0.815" stop-opacity="1"/><stop offset="1.000" stop-opacity="0.65"/></linearGradient><linearGradient id="g10" gradientUnits="userSpaceOnUse" x1="0" y1="34" x2="0" y2="85.5"><stop offset="0.000" stop-opacity="0.65"/><stop offset="0.117" stop-opacity="0.88"/><stop offset="0.942" stop-opacity="0.92"/><stop offset="1.000" stop-opacity="0.8"/></linearGradient><linearGradient id="g11" gradientUnits="userSpaceOnUse" x1="0" y1="34" x2="0" y2="85.5"><stop offset="0.000" stop-opacity="0.65"/><stop offset="0.117" stop-opacity="0.88"/><stop offset="0.942" stop-opacity="0.92"/><stop offset="1.000" stop-opacity="0.8"/></linearGradient><linearGradient id="g12" gradientUnits="userSpaceOnUse" x1="0" y1="34.5" x2="0" y2="85.5"><stop offset="0.000" stop-opacity="0.65"/><stop offset="0.118" stop-opacity="0.88"/><stop offset="0.941" stop-opacity="0.92"/><stop offset="1.000" stop-opacity="0.8"/></linearGradient><linearGradient id="g13" gradientUnits="userSpaceOnUse" x1="0" y1="35.5" x2="0" y2="85.5"><stop offset="0.000" stop-opacity="0.65"/><stop offset="0.120" stop-opacity="0.88"/><stop offset="0.940" stop-opacity="0.92"/><stop offset="1.000" stop-opacity="0.8"/></linearGradient><linearGradient id="g14" gradientUnits="userSpaceOnUse" x1="0" y1="66" x2="0" y2="86.5"><stop offset="0.000" stop-opacity="0.8"/><stop offset="0.195" stop-opacity="1"/><stop offset="0.854" stop-opacity="1"/><stop offset="1.000" stop-opacity="0.9"/></linearGradient><linearGradient id="g15" gradientUnits="userSpaceOnUse" x1="0" y1="64" x2="0" y2="87"><stop offset="0.000" stop-opacity="0.8"/><stop offset="0.174" stop-opacity="1"/><stop offset="0.870" stop-opacity="1"/><stop offset="1.000" stop-opacity="0.9"/></linearGradient><linearGradient id="g16" gradientUnits="userSpaceOnUse" x1="0" y1="64" x2="0" y2="87"><stop offset="0.000" stop-opacity="0.8"/><stop offset="0.174" stop-opacity="1"/><stop offset="0.870" stop-opacity="1"/><stop offset="1.000" stop-opacity="0.9"/></linearGradient><linearGradient id="g17" gradientUnits="userSpaceOnUse" x1="0" y1="64" x2="0" y2="87"><stop offset="0.000" stop-opacity="0.8"/><stop offset="0.174" stop-opacity="1"/><stop offset="0.870" stop-opacity="1"/><stop offset="1.000" stop-opacity="0.9"/></linearGradient><linearGradient id="g20" gradientUnits="userSpaceOnUse" x1="0" y1="26.5" x2="0" y2="86"><stop offset="0.000" stop-opacity="0.8"/><stop offset="0.076" stop-opacity="1"/><stop offset="0.597" stop-opacity="1"/><stop offset="0.798" stop-opacity="0.6"/><stop offset="1.000" stop-opacity="0.12"/></linearGradient><linearGradient id="g21" gradientUnits="userSpaceOnUse" x1="0" y1="26.5" x2="0" y2="86"><stop offset="0.000" stop-opacity="0.8"/><stop offset="0.076" stop-opacity="1"/><stop offset="0.597" stop-opacity="1"/><stop offset="0.798" stop-opacity="0.6"/><stop offset="1.000" stop-opacity="0.12"/></linearGradient><linearGradient id="g22" gradientUnits="userSpaceOnUse" x1="0" y1="30" x2="0" y2="86"><stop offset="0.000" stop-opacity="0.75"/><stop offset="0.089" stop-opacity="1"/><stop offset="0.607" stop-opacity="1"/><stop offset="0.821" stop-opacity="0.6"/><stop offset="1.000" stop-opacity="0.15"/></linearGradient><linearGradient id="g23" gradientUnits="userSpaceOnUse" x1="0" y1="36" x2="0" y2="88"><stop offset="0.000" stop-opacity="0.35"/><stop offset="0.192" stop-opacity="0.85"/><stop offset="0.615" stop-opacity="1"/><stop offset="0.846" stop-opacity="0.55"/><stop offset="1.000" stop-opacity="0.15"/></linearGradient><linearGradient id="g24" gradientUnits="userSpaceOnUse" x1="0" y1="50.5" x2="0" y2="91"><stop offset="0.000" stop-opacity="0.7"/><stop offset="0.148" stop-opacity="0.97"/><stop offset="0.901" stop-opacity="0.97"/><stop offset="1.000" stop-opacity="0.85"/></linearGradient><linearGradient id="g25" gradientUnits="userSpaceOnUse" x1="0" y1="51" x2="0" y2="91"><stop offset="0.000" stop-opacity="0.7"/><stop offset="0.150" stop-opacity="0.97"/><stop offset="0.900" stop-opacity="0.97"/><stop offset="1.000" stop-opacity="0.85"/></linearGradient><linearGradient id="g26" gradientUnits="userSpaceOnUse" x1="0" y1="51" x2="0" y2="91"><stop offset="0.000" stop-opacity="0.7"/><stop offset="0.150" stop-opacity="0.97"/><stop offset="0.900" stop-opacity="0.97"/><stop offset="1.000" stop-opacity="0.85"/></linearGradient><linearGradient id="g27" gradientUnits="userSpaceOnUse" x1="0" y1="51" x2="0" y2="91"><stop offset="0.000" stop-opacity="0.7"/><stop offset="0.150" stop-opacity="0.97"/><stop offset="0.900" stop-opacity="0.97"/><stop offset="1.000" stop-opacity="0.85"/></linearGradient><linearGradient id="g30" gradientUnits="userSpaceOnUse" x1="0" y1="26.5" x2="0" y2="89.5"><stop offset="0.000" stop-opacity="0.7"/><stop offset="0.127" stop-opacity="0.92"/><stop offset="0.952" stop-opacity="0.95"/><stop offset="1.000" stop-opacity="0.85"/></linearGradient><linearGradient id="g31" gradientUnits="userSpaceOnUse" x1="0" y1="27.5" x2="0" y2="89.5"><stop offset="0.000" stop-opacity="0.7"/><stop offset="0.129" stop-opacity="0.92"/><stop offset="0.952" stop-opacity="0.95"/><stop offset="1.000" stop-opacity="0.85"/></linearGradient><linearGradient id="g32" gradientUnits="userSpaceOnUse" x1="0" y1="32" x2="0" y2="89.5"><stop offset="0.000" stop-opacity="0.45"/><stop offset="0.278" stop-opacity="0.82"/><stop offset="1.000" stop-opacity="0.95"/></linearGradient><linearGradient id="g33" gradientUnits="userSpaceOnUse" x1="0" y1="36" x2="0" y2="89.5"><stop offset="0.000" stop-opacity="0.3"/><stop offset="0.374" stop-opacity="0.8"/><stop offset="1.000" stop-opacity="0.95"/></linearGradient><linearGradient id="g34" gradientUnits="userSpaceOnUse" x1="0" y1="58" x2="0" y2="91"><stop offset="0.000" stop-opacity="0.8"/><stop offset="0.152" stop-opacity="0.98"/><stop offset="0.909" stop-opacity="0.98"/><stop offset="1.000" stop-opacity="0.85"/></linearGradient><linearGradient id="g35" gradientUnits="userSpaceOnUse" x1="0" y1="60" x2="0" y2="90.5"><stop offset="0.000" stop-opacity="0.8"/><stop offset="0.164" stop-opacity="0.98"/><stop offset="0.902" stop-opacity="0.98"/><stop offset="1.000" stop-opacity="0.85"/></linearGradient><linearGradient id="g36" gradientUnits="userSpaceOnUse" x1="0" y1="60" x2="0" y2="90.5"><stop offset="0.000" stop-opacity="0.8"/><stop offset="0.164" stop-opacity="0.98"/><stop offset="0.902" stop-opacity="0.98"/><stop offset="1.000" stop-opacity="0.85"/></linearGradient><linearGradient id="g37" gradientUnits="userSpaceOnUse" x1="0" y1="60" x2="0" y2="90.5"><stop offset="0.000" stop-opacity="0.8"/><stop offset="0.164" stop-opacity="0.98"/><stop offset="0.902" stop-opacity="0.98"/><stop offset="1.000" stop-opacity="0.85"/></linearGradient><linearGradient id="g40" gradientUnits="userSpaceOnUse" x1="0" y1="58" x2="0" y2="88.5"><stop offset="0.000" stop-opacity="0.7"/><stop offset="0.230" stop-opacity="0.95"/><stop offset="0.869" stop-opacity="0.97"/><stop offset="1.000" stop-opacity="0.8"/></linearGradient><linearGradient id="g41" gradientUnits="userSpaceOnUse" x1="0" y1="58" x2="0" y2="88.5"><stop offset="0.000" stop-opacity="0.7"/><stop offset="0.230" stop-opacity="0.95"/><stop offset="0.869" stop-opacity="0.97"/><stop offset="1.000" stop-opacity="0.8"/></linearGradient><linearGradient id="g42" gradientUnits="userSpaceOnUse" x1="0" y1="60.5" x2="0" y2="89"><stop offset="0.000" stop-opacity="0.7"/><stop offset="0.246" stop-opacity="0.95"/><stop offset="0.860" stop-opacity="0.97"/><stop offset="1.000" stop-opacity="0.8"/></linearGradient><linearGradient id="g43" gradientUnits="userSpaceOnUse" x1="0" y1="60.5" x2="0" y2="89"><stop offset="0.000" stop-opacity="0.7"/><stop offset="0.246" stop-opacity="0.95"/><stop offset="0.860" stop-opacity="0.97"/><stop offset="1.000" stop-opacity="0.8"/></linearGradient><linearGradient id="g44" gradientUnits="userSpaceOnUse" x1="0" y1="61" x2="0" y2="89"><stop offset="0.000" stop-opacity="0.7"/><stop offset="0.250" stop-opacity="0.95"/><stop offset="0.857" stop-opacity="0.97"/><stop offset="1.000" stop-opacity="0.8"/></linearGradient><linearGradient id="g45" gradientUnits="userSpaceOnUse" x1="0" y1="61" x2="0" y2="89"><stop offset="0.000" stop-opacity="0.7"/><stop offset="0.250" stop-opacity="0.95"/><stop offset="0.857" stop-opacity="0.97"/><stop offset="1.000" stop-opacity="0.8"/></linearGradient><linearGradient id="g46" gradientUnits="userSpaceOnUse" x1="0" y1="61" x2="0" y2="89"><stop offset="0.000" stop-opacity="0.7"/><stop offset="0.250" stop-opacity="0.95"/><stop offset="0.857" stop-opacity="0.97"/><stop offset="1.000" stop-opacity="0.8"/></linearGradient><linearGradient id="g47" gradientUnits="userSpaceOnUse" x1="0" y1="61" x2="0" y2="89"><stop offset="0.000" stop-opacity="0.7"/><stop offset="0.250" stop-opacity="0.95"/><stop offset="0.857" stop-opacity="0.97"/><stop offset="1.000" stop-opacity="0.8"/></linearGradient></defs>
<g filter="url(#sp)"><path d="M50.50 33.50 L51.18 34.40 L51.46 35.29 L51.68 36.19 L51.86 37.09 L52.02 37.99 L52.17 38.88 L52.30 39.78 L52.40 40.68 L52.40 41.58 L52.40 42.47 L52.40 43.37 L52.40 44.27 L52.40 45.17 L52.40 46.06 L52.40 46.96 L52.40 47.86 L52.40 48.76 L52.40 49.65 L52.40 50.55 L52.40 51.45 L52.40 52.35 L52.40 53.24 L52.40 54.14 L52.40 55.04 L52.40 55.94 L52.40 56.83 L52.40 57.73 L52.40 58.63 L52.40 59.53 L52.30 60.42 L52.20 61.32 L52.09 62.22 L51.97 63.12 L51.84 64.01 L51.70 64.91 L51.54 65.81 L51.35 66.71 L51.10 67.60 L50.50 68.50 L50.50 68.50 L49.90 67.60 L49.65 66.71 L49.46 65.81 L49.30 64.91 L49.16 64.01 L49.03 63.12 L48.91 62.22 L48.80 61.32 L48.70 60.42 L48.60 59.53 L48.60 58.63 L48.60 57.73 L48.60 56.83 L48.60 55.94 L48.60 55.04 L48.60 54.14 L48.60 53.24 L48.60 52.35 L48.60 51.45 L48.60 50.55 L48.60 49.65 L48.60 48.76 L48.60 47.86 L48.60 46.96 L48.60 46.06 L48.60 45.17 L48.60 44.27 L48.60 43.37 L48.60 42.47 L48.60 41.58 L48.60 40.68 L48.70 39.78 L48.83 38.88 L48.98 37.99 L49.14 37.09 L49.32 36.19 L49.54 35.29 L49.82 34.40 L50.50 33.50Z" fill="url(#g00)"/><path d="M59.60 33.50 L60.29 34.44 L60.58 35.37 L60.80 36.31 L60.99 37.24 L61.15 38.18 L61.30 39.12 L61.44 40.05 L61.50 40.99 L61.50 41.92 L61.50 42.86 L61.50 43.79 L61.50 44.73 L61.50 45.67 L61.50 46.60 L61.50 47.54 L61.50 48.47 L61.50 49.41 L61.50 50.35 L61.50 51.28 L61.50 52.22 L61.50 53.15 L61.50 54.09 L61.50 55.03 L61.50 55.96 L61.50 56.90 L61.50 57.83 L61.50 58.77 L61.50 59.71 L61.50 60.64 L61.44 61.58 L61.33 62.51 L61.22 63.45 L61.10 64.38 L60.97 65.32 L60.83 66.26 L60.66 67.19 L60.47 68.13 L60.21 69.06 L59.60 70.00 L59.60 70.00 L58.99 69.06 L58.73 68.13 L58.54 67.19 L58.37 66.26 L58.23 65.32 L58.10 64.38 L57.98 63.45 L57.87 62.51 L57.76 61.58 L57.70 60.64 L57.70 59.71 L57.70 58.77 L57.70 57.83 L57.70 56.90 L57.70 55.96 L57.70 55.03 L57.70 54.09 L57.70 53.15 L57.70 52.22 L57.70 51.28 L57.70 50.35 L57.70 49.41 L57.70 48.47 L57.70 47.54 L57.70 46.60 L57.70 45.67 L57.70 44.73 L57.70 43.79 L57.70 42.86 L57.70 41.92 L57.70 40.99 L57.76 40.05 L57.90 39.12 L58.05 38.18 L58.21 37.24 L58.40 36.31 L58.62 35.37 L58.91 34.44 L59.60 33.50Z" fill="url(#g01)"/><path d="M68.70 33.50 L69.38 34.38 L69.66 35.27 L69.87 36.15 L70.05 37.04 L70.21 37.92 L70.35 38.81 L70.49 39.69 L70.60 40.58 L70.60 41.46 L70.60 42.35 L70.60 43.23 L70.60 44.12 L70.60 45.00 L70.60 45.88 L70.60 46.77 L70.60 47.65 L70.60 48.54 L70.60 49.42 L70.60 50.31 L70.60 51.19 L70.60 52.08 L70.60 52.96 L70.60 53.85 L70.60 54.73 L70.60 55.62 L70.60 56.50 L70.60 57.38 L70.60 58.27 L70.58 59.15 L70.49 60.04 L70.38 60.92 L70.28 61.81 L70.16 62.69 L70.03 63.58 L69.89 64.46 L69.73 65.35 L69.54 66.23 L69.30 67.12 L68.70 68.00 L68.70 68.00 L68.10 67.12 L67.86 66.23 L67.67 65.35 L67.51 64.46 L67.37 63.58 L67.24 62.69 L67.12 61.81 L67.02 60.92 L66.91 60.04 L66.82 59.15 L66.80 58.27 L66.80 57.38 L66.80 56.50 L66.80 55.62 L66.80 54.73 L66.80 53.85 L66.80 52.96 L66.80 52.08 L66.80 51.19 L66.80 50.31 L66.80 49.42 L66.80 48.54 L66.80 47.65 L66.80 46.77 L66.80 45.88 L66.80 45.00 L66.80 44.12 L66.80 43.23 L66.80 42.35 L66.80 41.46 L66.80 40.58 L66.91 39.69 L67.05 38.81 L67.19 37.92 L67.35 37.04 L67.53 36.15 L67.74 35.27 L68.02 34.38 L68.70 33.50Z" fill="url(#g02)"/><path d="M77.80 34.50 L78.49 35.41 L78.77 36.32 L78.99 37.23 L79.17 38.14 L79.33 39.05 L79.48 39.96 L79.61 40.87 L79.70 41.78 L79.70 42.69 L79.70 43.60 L79.70 44.51 L79.70 45.42 L79.70 46.33 L79.70 47.24 L79.70 48.15 L79.70 49.06 L79.70 49.97 L79.70 50.88 L79.70 51.79 L79.70 52.71 L79.70 53.62 L79.70 54.53 L79.70 55.44 L79.70 56.35 L79.70 57.26 L79.70 58.17 L79.70 59.08 L79.70 59.99 L79.70 60.90 L79.61 61.81 L79.51 62.72 L79.40 63.63 L79.28 64.54 L79.15 65.45 L79.01 66.36 L78.85 67.27 L78.65 68.18 L78.40 69.09 L77.80 70.00 L77.80 70.00 L77.20 69.09 L76.95 68.18 L76.75 67.27 L76.59 66.36 L76.45 65.45 L76.32 64.54 L76.20 63.63 L76.09 62.72 L75.99 61.81 L75.90 60.90 L75.90 59.99 L75.90 59.08 L75.90 58.17 L75.90 57.26 L75.90 56.35 L75.90 55.44 L75.90 54.53 L75.90 53.62 L75.90 52.71 L75.90 51.79 L75.90 50.88 L75.90 49.97 L75.90 49.06 L75.90 48.15 L75.90 47.24 L75.90 46.33 L75.90 45.42 L75.90 44.51 L75.90 43.60 L75.90 42.69 L75.90 41.78 L75.99 40.87 L76.12 39.96 L76.27 39.05 L76.43 38.14 L76.61 37.23 L76.83 36.32 L77.11 35.41 L77.80 34.50Z" fill="url(#g03)"/><path d="M86.90 38.00 L87.69 39.03 L88.02 40.05 L88.27 41.08 L88.49 42.10 L88.67 43.13 L88.84 44.15 L89.00 45.18 L89.14 46.21 L89.25 47.23 L89.25 48.26 L89.25 49.28 L89.25 50.31 L89.25 51.33 L89.25 52.36 L89.25 53.38 L89.25 54.41 L89.25 55.44 L89.25 56.46 L89.25 57.49 L89.25 58.51 L89.25 59.54 L89.25 60.56 L89.25 61.59 L89.25 62.62 L89.25 63.64 L89.25 64.67 L89.25 65.69 L89.25 66.72 L89.25 67.74 L89.16 68.77 L89.03 69.79 L88.89 70.82 L88.74 71.85 L88.58 72.87 L88.41 73.90 L88.20 74.92 L87.96 75.95 L87.65 76.97 L86.90 78.00 L86.90 78.00 L86.15 76.97 L85.84 75.95 L85.60 74.92 L85.39 73.90 L85.22 72.87 L85.06 71.85 L84.91 70.82 L84.77 69.79 L84.64 68.77 L84.55 67.74 L84.55 66.72 L84.55 65.69 L84.55 64.67 L84.55 63.64 L84.55 62.62 L84.55 61.59 L84.55 60.56 L84.55 59.54 L84.55 58.51 L84.55 57.49 L84.55 56.46 L84.55 55.44 L84.55 54.41 L84.55 53.38 L84.55 52.36 L84.55 51.33 L84.55 50.31 L84.55 49.28 L84.55 48.26 L84.55 47.23 L84.66 46.21 L84.80 45.18 L84.96 44.15 L85.13 43.13 L85.31 42.10 L85.53 41.08 L85.78 40.05 L86.11 39.03 L86.90 38.00Z" fill="url(#g04)"/><path d="M96.00 45.50 L96.77 46.36 L97.09 47.22 L97.33 48.08 L97.54 48.94 L97.72 49.79 L97.89 50.65 L98.04 51.51 L98.18 52.37 L98.31 53.23 L98.35 54.09 L98.35 54.95 L98.35 55.81 L98.35 56.67 L98.35 57.53 L98.35 58.38 L98.35 59.24 L98.35 60.10 L98.35 60.96 L98.35 61.82 L98.35 62.68 L98.35 63.54 L98.35 64.40 L98.35 65.26 L98.35 66.12 L98.35 66.97 L98.35 67.83 L98.35 68.69 L98.28 69.55 L98.18 70.41 L98.07 71.27 L97.95 72.13 L97.82 72.99 L97.69 73.85 L97.54 74.71 L97.38 75.56 L97.19 76.42 L96.97 77.28 L96.69 78.14 L96.00 79.00 L96.00 79.00 L95.31 78.14 L95.03 77.28 L94.81 76.42 L94.62 75.56 L94.46 74.71 L94.31 73.85 L94.18 72.99 L94.05 72.13 L93.93 71.27 L93.82 70.41 L93.72 69.55 L93.65 68.69 L93.65 67.83 L93.65 66.97 L93.65 66.12 L93.65 65.26 L93.65 64.40 L93.65 63.54 L93.65 62.68 L93.65 61.82 L93.65 60.96 L93.65 60.10 L93.65 59.24 L93.65 58.38 L93.65 57.53 L93.65 56.67 L93.65 55.81 L93.65 54.95 L93.65 54.09 L93.69 53.23 L93.82 52.37 L93.96 51.51 L94.11 50.65 L94.28 49.79 L94.46 48.94 L94.67 48.08 L94.91 47.22 L95.23 46.36 L96.00 45.50Z" fill="url(#g05)"/><path d="M105.10 50.00 L105.85 50.78 L106.16 51.56 L106.40 52.35 L106.60 53.13 L106.78 53.91 L106.94 54.69 L107.09 55.47 L107.23 56.26 L107.35 57.04 L107.35 57.82 L107.35 58.60 L107.35 59.38 L107.35 60.17 L107.35 60.95 L107.35 61.73 L107.35 62.51 L107.35 63.29 L107.35 64.08 L107.35 64.86 L107.35 65.64 L107.35 66.42 L107.35 67.21 L107.35 67.99 L107.35 68.77 L107.35 69.55 L107.35 70.33 L107.35 71.12 L107.30 71.90 L107.20 72.68 L107.09 73.46 L106.98 74.24 L106.85 75.03 L106.72 75.81 L106.58 76.59 L106.43 77.37 L106.25 78.15 L106.04 78.94 L105.76 79.72 L105.10 80.50 L105.10 80.50 L104.44 79.72 L104.16 78.94 L103.95 78.15 L103.77 77.37 L103.62 76.59 L103.48 75.81 L103.35 75.03 L103.22 74.24 L103.11 73.46 L103.00 72.68 L102.90 71.90 L102.85 71.12 L102.85 70.33 L102.85 69.55 L102.85 68.77 L102.85 67.99 L102.85 67.21 L102.85 66.42 L102.85 65.64 L102.85 64.86 L102.85 64.08 L102.85 63.29 L102.85 62.51 L102.85 61.73 L102.85 60.95 L102.85 60.17 L102.85 59.38 L102.85 58.60 L102.85 57.82 L102.85 57.04 L102.97 56.26 L103.11 55.47 L103.26 54.69 L103.42 53.91 L103.60 53.13 L103.80 52.35 L104.04 51.56 L104.35 50.78 L105.10 50.00Z" fill="url(#g06)"/><path d="M114.20 49.00 L114.98 49.83 L115.30 50.67 L115.54 51.50 L115.75 52.33 L115.94 53.17 L116.10 54.00 L116.25 54.83 L116.40 55.67 L116.45 56.50 L116.45 57.33 L116.45 58.17 L116.45 59.00 L116.45 59.83 L116.45 60.67 L116.45 61.50 L116.45 62.33 L116.45 63.17 L116.45 64.00 L116.45 64.83 L116.45 65.67 L116.45 66.50 L116.45 67.33 L116.45 68.17 L116.45 69.00 L116.45 69.83 L116.45 70.67 L116.45 71.50 L116.45 72.33 L116.37 73.17 L116.25 74.00 L116.14 74.83 L116.01 75.67 L115.88 76.50 L115.73 77.33 L115.57 78.17 L115.39 79.00 L115.17 79.83 L114.88 80.67 L114.20 81.50 L114.20 81.50 L113.52 80.67 L113.23 79.83 L113.01 79.00 L112.83 78.17 L112.67 77.33 L112.52 76.50 L112.39 75.67 L112.26 74.83 L112.15 74.00 L112.03 73.17 L111.95 72.33 L111.95 71.50 L111.95 70.67 L111.95 69.83 L111.95 69.00 L111.95 68.17 L111.95 67.33 L111.95 66.50 L111.95 65.67 L111.95 64.83 L111.95 64.00 L111.95 63.17 L111.95 62.33 L111.95 61.50 L111.95 60.67 L111.95 59.83 L111.95 59.00 L111.95 58.17 L111.95 57.33 L111.95 56.50 L112.00 55.67 L112.15 54.83 L112.30 54.00 L112.46 53.17 L112.65 52.33 L112.86 51.50 L113.10 50.67 L113.42 49.83 L114.20 49.00Z" fill="url(#g07)"/><path d="M146.50 34.00 L147.53 35.32 L147.95 36.64 L148.05 37.96 L148.05 39.28 L148.05 40.60 L148.05 41.92 L148.05 43.24 L148.05 44.56 L148.05 45.88 L148.05 47.21 L148.05 48.53 L148.05 49.85 L148.05 51.17 L148.05 52.49 L148.05 53.81 L148.05 55.13 L148.05 56.45 L148.05 57.77 L148.05 59.09 L148.05 60.41 L148.05 61.73 L148.05 63.05 L148.05 64.37 L148.05 65.69 L148.05 67.01 L148.05 68.33 L148.05 69.65 L148.05 70.97 L148.05 72.29 L148.05 73.62 L148.05 74.94 L148.05 76.26 L148.05 77.58 L148.05 78.90 L148.05 80.22 L148.05 81.54 L147.95 82.86 L147.53 84.18 L146.50 85.50 L146.50 85.50 L145.47 84.18 L145.05 82.86 L144.95 81.54 L144.95 80.22 L144.95 78.90 L144.95 77.58 L144.95 76.26 L144.95 74.94 L144.95 73.62 L144.95 72.29 L144.95 70.97 L144.95 69.65 L144.95 68.33 L144.95 67.01 L144.95 65.69 L144.95 64.37 L144.95 63.05 L144.95 61.73 L144.95 60.41 L144.95 59.09 L144.95 57.77 L144.95 56.45 L144.95 55.13 L144.95 53.81 L144.95 52.49 L144.95 51.17 L144.95 49.85 L144.95 48.53 L144.95 47.21 L144.95 45.88 L144.95 44.56 L144.95 43.24 L144.95 41.92 L144.95 40.60 L144.95 39.28 L144.95 37.96 L145.05 36.64 L145.47 35.32 L146.50 34.00Z" fill="url(#g10)"/><path d="M155.60 34.00 L156.63 35.32 L157.05 36.64 L157.15 37.96 L157.15 39.28 L157.15 40.60 L157.15 41.92 L157.15 43.24 L157.15 44.56 L157.15 45.88 L157.15 47.21 L157.15 48.53 L157.15 49.85 L157.15 51.17 L157.15 52.49 L157.15 53.81 L157.15 55.13 L157.15 56.45 L157.15 57.77 L157.15 59.09 L157.15 60.41 L157.15 61.73 L157.15 63.05 L157.15 64.37 L157.15 65.69 L157.15 67.01 L157.15 68.33 L157.15 69.65 L157.15 70.97 L157.15 72.29 L157.15 73.62 L157.15 74.94 L157.15 76.26 L157.15 77.58 L157.15 78.90 L157.15 80.22 L157.15 81.54 L157.05 82.86 L156.63 84.18 L155.60 85.50 L155.60 85.50 L154.57 84.18 L154.15 82.86 L154.05 81.54 L154.05 80.22 L154.05 78.90 L154.05 77.58 L154.05 76.26 L154.05 74.94 L154.05 73.62 L154.05 72.29 L154.05 70.97 L154.05 69.65 L154.05 68.33 L154.05 67.01 L154.05 65.69 L154.05 64.37 L154.05 63.05 L154.05 61.73 L154.05 60.41 L154.05 59.09 L154.05 57.77 L154.05 56.45 L154.05 55.13 L154.05 53.81 L154.05 52.49 L154.05 51.17 L154.05 49.85 L154.05 48.53 L154.05 47.21 L154.05 45.88 L154.05 44.56 L154.05 43.24 L154.05 41.92 L154.05 40.60 L154.05 39.28 L154.05 37.96 L154.15 36.64 L154.57 35.32 L155.60 34.00Z" fill="url(#g11)"/><path d="M164.70 34.50 L165.72 35.81 L166.15 37.12 L166.25 38.42 L166.25 39.73 L166.25 41.04 L166.25 42.35 L166.25 43.65 L166.25 44.96 L166.25 46.27 L166.25 47.58 L166.25 48.88 L166.25 50.19 L166.25 51.50 L166.25 52.81 L166.25 54.12 L166.25 55.42 L166.25 56.73 L166.25 58.04 L166.25 59.35 L166.25 60.65 L166.25 61.96 L166.25 63.27 L166.25 64.58 L166.25 65.88 L166.25 67.19 L166.25 68.50 L166.25 69.81 L166.25 71.12 L166.25 72.42 L166.25 73.73 L166.25 75.04 L166.25 76.35 L166.25 77.65 L166.25 78.96 L166.25 80.27 L166.25 81.58 L166.15 82.88 L165.72 84.19 L164.70 85.50 L164.70 85.50 L163.68 84.19 L163.25 82.88 L163.15 81.58 L163.15 80.27 L163.15 78.96 L163.15 77.65 L163.15 76.35 L163.15 75.04 L163.15 73.73 L163.15 72.42 L163.15 71.12 L163.15 69.81 L163.15 68.50 L163.15 67.19 L163.15 65.88 L163.15 64.58 L163.15 63.27 L163.15 61.96 L163.15 60.65 L163.15 59.35 L163.15 58.04 L163.15 56.73 L163.15 55.42 L163.15 54.12 L163.15 52.81 L163.15 51.50 L163.15 50.19 L163.15 48.88 L163.15 47.58 L163.15 46.27 L163.15 44.96 L163.15 43.65 L163.15 42.35 L163.15 41.04 L163.15 39.73 L163.15 38.42 L163.25 37.12 L163.68 35.81 L164.70 34.50Z" fill="url(#g12)"/><path d="M173.80 35.50 L174.81 36.78 L175.23 38.06 L175.35 39.35 L175.35 40.63 L175.35 41.91 L175.35 43.19 L175.35 44.47 L175.35 45.76 L175.35 47.04 L175.35 48.32 L175.35 49.60 L175.35 50.88 L175.35 52.17 L175.35 53.45 L175.35 54.73 L175.35 56.01 L175.35 57.29 L175.35 58.58 L175.35 59.86 L175.35 61.14 L175.35 62.42 L175.35 63.71 L175.35 64.99 L175.35 66.27 L175.35 67.55 L175.35 68.83 L175.35 70.12 L175.35 71.40 L175.35 72.68 L175.35 73.96 L175.35 75.24 L175.35 76.53 L175.35 77.81 L175.35 79.09 L175.35 80.37 L175.35 81.65 L175.23 82.94 L174.81 84.22 L173.80 85.50 L173.80 85.50 L172.79 84.22 L172.37 82.94 L172.25 81.65 L172.25 80.37 L172.25 79.09 L172.25 77.81 L172.25 76.53 L172.25 75.24 L172.25 73.96 L172.25 72.68 L172.25 71.40 L172.25 70.12 L172.25 68.83 L172.25 67.55 L172.25 66.27 L172.25 64.99 L172.25 63.71 L172.25 62.42 L172.25 61.14 L172.25 59.86 L172.25 58.58 L172.25 57.29 L172.25 56.01 L172.25 54.73 L172.25 53.45 L172.25 52.17 L172.25 50.88 L172.25 49.60 L172.25 48.32 L172.25 47.04 L172.25 45.76 L172.25 44.47 L172.25 43.19 L172.25 41.91 L172.25 40.63 L172.25 39.35 L172.37 38.06 L172.79 36.78 L173.80 35.50Z" fill="url(#g13)"/><path d="M182.90 66.00 L183.43 66.53 L183.65 67.05 L183.82 67.58 L183.97 68.10 L184.09 68.63 L184.21 69.15 L184.31 69.68 L184.41 70.21 L184.50 70.73 L184.59 71.26 L184.67 71.78 L184.75 72.31 L184.82 72.83 L184.90 73.36 L184.97 73.88 L185.03 74.41 L185.10 74.94 L185.16 75.46 L185.23 75.99 L185.29 76.51 L185.35 77.04 L185.40 77.56 L185.45 78.09 L185.45 78.62 L185.45 79.14 L185.45 79.67 L185.45 80.19 L185.45 80.72 L185.45 81.24 L185.45 81.77 L185.45 82.29 L185.35 82.82 L185.16 83.35 L184.97 83.87 L184.75 84.40 L184.50 84.92 L184.21 85.45 L183.82 85.97 L182.90 86.50 L182.90 86.50 L181.98 85.97 L181.59 85.45 L181.30 84.92 L181.05 84.40 L180.83 83.87 L180.64 83.35 L180.45 82.82 L180.35 82.29 L180.35 81.77 L180.35 81.24 L180.35 80.72 L180.35 80.19 L180.35 79.67 L180.35 79.14 L180.35 78.62 L180.35 78.09 L180.40 77.56 L180.45 77.04 L180.51 76.51 L180.57 75.99 L180.64 75.46 L180.70 74.94 L180.77 74.41 L180.83 73.88 L180.90 73.36 L180.98 72.83 L181.05 72.31 L181.13 71.78 L181.21 71.26 L181.30 70.73 L181.39 70.21 L181.49 69.68 L181.59 69.15 L181.71 68.63 L181.83 68.10 L181.98 67.58 L182.15 67.05 L182.37 66.53 L182.90 66.00Z" fill="url(#g14)"/><path d="M192.00 64.00 L192.53 64.59 L192.75 65.18 L192.92 65.77 L193.06 66.36 L193.19 66.95 L193.30 67.54 L193.41 68.13 L193.51 68.72 L193.60 69.31 L193.68 69.90 L193.77 70.49 L193.84 71.08 L193.92 71.67 L193.99 72.26 L194.06 72.85 L194.13 73.44 L194.20 74.03 L194.26 74.62 L194.32 75.21 L194.38 75.79 L194.44 76.38 L194.50 76.97 L194.50 77.56 L194.50 78.15 L194.50 78.74 L194.50 79.33 L194.50 79.92 L194.50 80.51 L194.50 81.10 L194.50 81.69 L194.50 82.28 L194.50 82.87 L194.35 83.46 L194.15 84.05 L193.92 84.64 L193.66 85.23 L193.36 85.82 L192.96 86.41 L192.00 87.00 L192.00 87.00 L191.04 86.41 L190.64 85.82 L190.34 85.23 L190.08 84.64 L189.85 84.05 L189.65 83.46 L189.50 82.87 L189.50 82.28 L189.50 81.69 L189.50 81.10 L189.50 80.51 L189.50 79.92 L189.50 79.33 L189.50 78.74 L189.50 78.15 L189.50 77.56 L189.50 76.97 L189.56 76.38 L189.62 75.79 L189.68 75.21 L189.74 74.62 L189.80 74.03 L189.87 73.44 L189.94 72.85 L190.01 72.26 L190.08 71.67 L190.16 71.08 L190.23 70.49 L190.32 69.90 L190.40 69.31 L190.49 68.72 L190.59 68.13 L190.70 67.54 L190.81 66.95 L190.94 66.36 L191.08 65.77 L191.25 65.18 L191.47 64.59 L192.00 64.00Z" fill="url(#g15)"/><path d="M201.10 64.00 L201.63 64.59 L201.85 65.18 L202.02 65.77 L202.16 66.36 L202.29 66.95 L202.40 67.54 L202.51 68.13 L202.61 68.72 L202.70 69.31 L202.78 69.90 L202.87 70.49 L202.94 71.08 L203.02 71.67 L203.09 72.26 L203.16 72.85 L203.23 73.44 L203.30 74.03 L203.36 74.62 L203.42 75.21 L203.48 75.79 L203.54 76.38 L203.60 76.97 L203.60 77.56 L203.60 78.15 L203.60 78.74 L203.60 79.33 L203.60 79.92 L203.60 80.51 L203.60 81.10 L203.60 81.69 L203.60 82.28 L203.60 82.87 L203.45 83.46 L203.25 84.05 L203.02 84.64 L202.76 85.23 L202.46 85.82 L202.06 86.41 L201.10 87.00 L201.10 87.00 L200.14 86.41 L199.74 85.82 L199.44 85.23 L199.18 84.64 L198.95 84.05 L198.75 83.46 L198.60 82.87 L198.60 82.28 L198.60 81.69 L198.60 81.10 L198.60 80.51 L198.60 79.92 L198.60 79.33 L198.60 78.74 L198.60 78.15 L198.60 77.56 L198.60 76.97 L198.66 76.38 L198.72 75.79 L198.78 75.21 L198.84 74.62 L198.90 74.03 L198.97 73.44 L199.04 72.85 L199.11 72.26 L199.18 71.67 L199.26 71.08 L199.33 70.49 L199.42 69.90 L199.50 69.31 L199.59 68.72 L199.69 68.13 L199.80 67.54 L199.91 66.95 L200.04 66.36 L200.18 65.77 L200.35 65.18 L200.57 64.59 L201.10 64.00Z" fill="url(#g16)"/><path d="M210.20 64.00 L210.73 64.59 L210.95 65.18 L211.12 65.77 L211.26 66.36 L211.39 66.95 L211.50 67.54 L211.61 68.13 L211.71 68.72 L211.80 69.31 L211.88 69.90 L211.97 70.49 L212.04 71.08 L212.12 71.67 L212.19 72.26 L212.26 72.85 L212.33 73.44 L212.40 74.03 L212.46 74.62 L212.52 75.21 L212.58 75.79 L212.64 76.38 L212.70 76.97 L212.70 77.56 L212.70 78.15 L212.70 78.74 L212.70 79.33 L212.70 79.92 L212.70 80.51 L212.70 81.10 L212.70 81.69 L212.70 82.28 L212.70 82.87 L212.55 83.46 L212.35 84.05 L212.12 84.64 L211.86 85.23 L211.56 85.82 L211.16 86.41 L210.20 87.00 L210.20 87.00 L209.24 86.41 L208.84 85.82 L208.54 85.23 L208.28 84.64 L208.05 84.05 L207.85 83.46 L207.70 82.87 L207.70 82.28 L207.70 81.69 L207.70 81.10 L207.70 80.51 L207.70 79.92 L207.70 79.33 L207.70 78.74 L207.70 78.15 L207.70 77.56 L207.70 76.97 L207.76 76.38 L207.82 75.79 L207.88 75.21 L207.94 74.62 L208.00 74.03 L208.07 73.44 L208.14 72.85 L208.21 72.26 L208.28 71.67 L208.36 71.08 L208.43 70.49 L208.52 69.90 L208.60 69.31 L208.69 68.72 L208.79 68.13 L208.90 67.54 L209.01 66.95 L209.14 66.36 L209.28 65.77 L209.45 65.18 L209.67 64.59 L210.20 64.00Z" fill="url(#g17)"/><path d="M242.60 26.50 L243.84 28.03 L244.35 29.55 L244.60 31.08 L244.60 32.60 L244.60 34.13 L244.60 35.65 L244.60 37.18 L244.60 38.71 L244.60 40.23 L244.60 41.76 L244.60 43.28 L244.60 44.81 L244.60 46.33 L244.60 47.86 L244.60 49.38 L244.60 50.91 L244.60 52.44 L244.60 53.96 L244.60 55.49 L244.60 57.01 L244.60 58.54 L244.60 60.06 L244.60 61.59 L244.60 63.12 L244.60 64.64 L244.60 66.17 L244.60 67.69 L244.60 69.22 L244.55 70.74 L244.45 72.27 L244.35 73.79 L244.23 75.32 L244.11 76.85 L243.98 78.37 L243.84 79.90 L243.67 81.42 L243.47 82.95 L243.22 84.47 L242.60 86.00 L242.60 86.00 L241.98 84.47 L241.73 82.95 L241.53 81.42 L241.36 79.90 L241.22 78.37 L241.09 76.85 L240.97 75.32 L240.85 73.79 L240.75 72.27 L240.65 70.74 L240.60 69.22 L240.60 67.69 L240.60 66.17 L240.60 64.64 L240.60 63.12 L240.60 61.59 L240.60 60.06 L240.60 58.54 L240.60 57.01 L240.60 55.49 L240.60 53.96 L240.60 52.44 L240.60 50.91 L240.60 49.38 L240.60 47.86 L240.60 46.33 L240.60 44.81 L240.60 43.28 L240.60 41.76 L240.60 40.23 L240.60 38.71 L240.60 37.18 L240.60 35.65 L240.60 34.13 L240.60 32.60 L240.60 31.08 L240.85 29.55 L241.36 28.03 L242.60 26.50Z" fill="url(#g20)"/><path d="M251.70 26.50 L252.94 28.03 L253.45 29.55 L253.70 31.08 L253.70 32.60 L253.70 34.13 L253.70 35.65 L253.70 37.18 L253.70 38.71 L253.70 40.23 L253.70 41.76 L253.70 43.28 L253.70 44.81 L253.70 46.33 L253.70 47.86 L253.70 49.38 L253.70 50.91 L253.70 52.44 L253.70 53.96 L253.70 55.49 L253.70 57.01 L253.70 58.54 L253.70 60.06 L253.70 61.59 L253.70 63.12 L253.70 64.64 L253.70 66.17 L253.70 67.69 L253.70 69.22 L253.65 70.74 L253.55 72.27 L253.45 73.79 L253.33 75.32 L253.21 76.85 L253.08 78.37 L252.94 79.90 L252.77 81.42 L252.57 82.95 L252.32 84.47 L251.70 86.00 L251.70 86.00 L251.08 84.47 L250.83 82.95 L250.63 81.42 L250.46 79.90 L250.32 78.37 L250.19 76.85 L250.07 75.32 L249.95 73.79 L249.85 72.27 L249.75 70.74 L249.70 69.22 L249.70 67.69 L249.70 66.17 L249.70 64.64 L249.70 63.12 L249.70 61.59 L249.70 60.06 L249.70 58.54 L249.70 57.01 L249.70 55.49 L249.70 53.96 L249.70 52.44 L249.70 50.91 L249.70 49.38 L249.70 47.86 L249.70 46.33 L249.70 44.81 L249.70 43.28 L249.70 41.76 L249.70 40.23 L249.70 38.71 L249.70 37.18 L249.70 35.65 L249.70 34.13 L249.70 32.60 L249.70 31.08 L249.95 29.55 L250.46 28.03 L251.70 26.50Z" fill="url(#g21)"/><path d="M260.80 30.00 L261.97 31.44 L262.45 32.87 L262.75 34.31 L262.75 35.74 L262.75 37.18 L262.75 38.62 L262.75 40.05 L262.75 41.49 L262.75 42.92 L262.75 44.36 L262.75 45.79 L262.75 47.23 L262.75 48.67 L262.75 50.10 L262.75 51.54 L262.75 52.97 L262.75 54.41 L262.75 55.85 L262.75 57.28 L262.75 58.72 L262.75 60.15 L262.75 61.59 L262.75 63.03 L262.75 64.46 L262.75 65.90 L262.75 67.33 L262.75 68.77 L262.75 70.21 L262.75 71.64 L262.67 73.08 L262.57 74.51 L262.45 75.95 L262.33 77.38 L262.20 78.82 L262.05 80.26 L261.88 81.69 L261.68 83.13 L261.42 84.56 L260.80 86.00 L260.80 86.00 L260.18 84.56 L259.92 83.13 L259.72 81.69 L259.55 80.26 L259.40 78.82 L259.27 77.38 L259.15 75.95 L259.03 74.51 L258.93 73.08 L258.85 71.64 L258.85 70.21 L258.85 68.77 L258.85 67.33 L258.85 65.90 L258.85 64.46 L258.85 63.03 L258.85 61.59 L258.85 60.15 L258.85 58.72 L258.85 57.28 L258.85 55.85 L258.85 54.41 L258.85 52.97 L258.85 51.54 L258.85 50.10 L258.85 48.67 L258.85 47.23 L258.85 45.79 L258.85 44.36 L258.85 42.92 L258.85 41.49 L258.85 40.05 L258.85 38.62 L258.85 37.18 L258.85 35.74 L258.85 34.31 L259.15 32.87 L259.63 31.44 L260.80 30.00Z" fill="url(#g22)"/><path d="M269.90 36.00 L270.63 37.33 L270.94 38.67 L271.17 40.00 L271.37 41.33 L271.54 42.67 L271.70 44.00 L271.70 45.33 L271.70 46.67 L271.70 48.00 L271.70 49.33 L271.70 50.67 L271.70 52.00 L271.70 53.33 L271.70 54.67 L271.70 56.00 L271.70 57.33 L271.70 58.67 L271.70 60.00 L271.70 61.33 L271.70 62.67 L271.70 64.00 L271.70 65.33 L271.70 66.67 L271.70 68.00 L271.70 69.33 L271.70 70.67 L271.70 72.00 L271.70 73.33 L271.66 74.67 L271.57 76.00 L271.47 77.33 L271.37 78.67 L271.26 80.00 L271.14 81.33 L271.01 82.67 L270.86 84.00 L270.69 85.33 L270.46 86.67 L269.90 88.00 L269.90 88.00 L269.34 86.67 L269.11 85.33 L268.94 84.00 L268.79 82.67 L268.66 81.33 L268.54 80.00 L268.43 78.67 L268.33 77.33 L268.23 76.00 L268.14 74.67 L268.10 73.33 L268.10 72.00 L268.10 70.67 L268.10 69.33 L268.10 68.00 L268.10 66.67 L268.10 65.33 L268.10 64.00 L268.10 62.67 L268.10 61.33 L268.10 60.00 L268.10 58.67 L268.10 57.33 L268.10 56.00 L268.10 54.67 L268.10 53.33 L268.10 52.00 L268.10 50.67 L268.10 49.33 L268.10 48.00 L268.10 46.67 L268.10 45.33 L268.10 44.00 L268.26 42.67 L268.43 41.33 L268.63 40.00 L268.86 38.67 L269.17 37.33 L269.90 36.00Z" fill="url(#g23)"/><path d="M279.00 50.50 L280.04 51.54 L280.47 52.58 L280.80 53.62 L281.08 54.65 L281.33 55.69 L281.50 56.73 L281.50 57.77 L281.50 58.81 L281.50 59.85 L281.50 60.88 L281.50 61.92 L281.50 62.96 L281.50 64.00 L281.50 65.04 L281.50 66.08 L281.50 67.12 L281.50 68.15 L281.50 69.19 L281.50 70.23 L281.50 71.27 L281.50 72.31 L281.50 73.35 L281.50 74.38 L281.50 75.42 L281.50 76.46 L281.50 77.50 L281.50 78.54 L281.50 79.58 L281.50 80.62 L281.50 81.65 L281.50 82.69 L281.50 83.73 L281.50 84.77 L281.50 85.81 L281.50 86.85 L281.21 87.88 L280.80 88.92 L280.27 89.96 L279.00 91.00 L279.00 91.00 L277.73 89.96 L277.20 88.92 L276.79 87.88 L276.50 86.85 L276.50 85.81 L276.50 84.77 L276.50 83.73 L276.50 82.69 L276.50 81.65 L276.50 80.62 L276.50 79.58 L276.50 78.54 L276.50 77.50 L276.50 76.46 L276.50 75.42 L276.50 74.38 L276.50 73.35 L276.50 72.31 L276.50 71.27 L276.50 70.23 L276.50 69.19 L276.50 68.15 L276.50 67.12 L276.50 66.08 L276.50 65.04 L276.50 64.00 L276.50 62.96 L276.50 61.92 L276.50 60.88 L276.50 59.85 L276.50 58.81 L276.50 57.77 L276.50 56.73 L276.67 55.69 L276.92 54.65 L277.20 53.62 L277.53 52.58 L277.96 51.54 L279.00 50.50Z" fill="url(#g24)"/><path d="M288.10 51.00 L289.13 52.03 L289.56 53.05 L289.89 54.08 L290.17 55.10 L290.41 56.13 L290.60 57.15 L290.60 58.18 L290.60 59.21 L290.60 60.23 L290.60 61.26 L290.60 62.28 L290.60 63.31 L290.60 64.33 L290.60 65.36 L290.60 66.38 L290.60 67.41 L290.60 68.44 L290.60 69.46 L290.60 70.49 L290.60 71.51 L290.60 72.54 L290.60 73.56 L290.60 74.59 L290.60 75.62 L290.60 76.64 L290.60 77.67 L290.60 78.69 L290.60 79.72 L290.60 80.74 L290.60 81.77 L290.60 82.79 L290.60 83.82 L290.60 84.85 L290.60 85.87 L290.60 86.90 L290.29 87.92 L289.89 88.95 L289.37 89.97 L288.10 91.00 L288.10 91.00 L286.83 89.97 L286.31 88.95 L285.91 87.92 L285.60 86.90 L285.60 85.87 L285.60 84.85 L285.60 83.82 L285.60 82.79 L285.60 81.77 L285.60 80.74 L285.60 79.72 L285.60 78.69 L285.60 77.67 L285.60 76.64 L285.60 75.62 L285.60 74.59 L285.60 73.56 L285.60 72.54 L285.60 71.51 L285.60 70.49 L285.60 69.46 L285.60 68.44 L285.60 67.41 L285.60 66.38 L285.60 65.36 L285.60 64.33 L285.60 63.31 L285.60 62.28 L285.60 61.26 L285.60 60.23 L285.60 59.21 L285.60 58.18 L285.60 57.15 L285.79 56.13 L286.03 55.10 L286.31 54.08 L286.64 53.05 L287.07 52.03 L288.10 51.00Z" fill="url(#g25)"/><path d="M297.20 51.00 L298.23 52.03 L298.66 53.05 L298.99 54.08 L299.27 55.10 L299.51 56.13 L299.70 57.15 L299.70 58.18 L299.70 59.21 L299.70 60.23 L299.70 61.26 L299.70 62.28 L299.70 63.31 L299.70 64.33 L299.70 65.36 L299.70 66.38 L299.70 67.41 L299.70 68.44 L299.70 69.46 L299.70 70.49 L299.70 71.51 L299.70 72.54 L299.70 73.56 L299.70 74.59 L299.70 75.62 L299.70 76.64 L299.70 77.67 L299.70 78.69 L299.70 79.72 L299.70 80.74 L299.70 81.77 L299.70 82.79 L299.70 83.82 L299.70 84.85 L299.70 85.87 L299.70 86.90 L299.39 87.92 L298.99 88.95 L298.47 89.97 L297.20 91.00 L297.20 91.00 L295.93 89.97 L295.41 88.95 L295.01 87.92 L294.70 86.90 L294.70 85.87 L294.70 84.85 L294.70 83.82 L294.70 82.79 L294.70 81.77 L294.70 80.74 L294.70 79.72 L294.70 78.69 L294.70 77.67 L294.70 76.64 L294.70 75.62 L294.70 74.59 L294.70 73.56 L294.70 72.54 L294.70 71.51 L294.70 70.49 L294.70 69.46 L294.70 68.44 L294.70 67.41 L294.70 66.38 L294.70 65.36 L294.70 64.33 L294.70 63.31 L294.70 62.28 L294.70 61.26 L294.70 60.23 L294.70 59.21 L294.70 58.18 L294.70 57.15 L294.89 56.13 L295.13 55.10 L295.41 54.08 L295.74 53.05 L296.17 52.03 L297.20 51.00Z" fill="url(#g26)"/><path d="M306.30 51.00 L307.33 52.03 L307.76 53.05 L308.09 54.08 L308.37 55.10 L308.61 56.13 L308.80 57.15 L308.80 58.18 L308.80 59.21 L308.80 60.23 L308.80 61.26 L308.80 62.28 L308.80 63.31 L308.80 64.33 L308.80 65.36 L308.80 66.38 L308.80 67.41 L308.80 68.44 L308.80 69.46 L308.80 70.49 L308.80 71.51 L308.80 72.54 L308.80 73.56 L308.80 74.59 L308.80 75.62 L308.80 76.64 L308.80 77.67 L308.80 78.69 L308.80 79.72 L308.80 80.74 L308.80 81.77 L308.80 82.79 L308.80 83.82 L308.80 84.85 L308.80 85.87 L308.80 86.90 L308.49 87.92 L308.09 88.95 L307.57 89.97 L306.30 91.00 L306.30 91.00 L305.03 89.97 L304.51 88.95 L304.11 87.92 L303.80 86.90 L303.80 85.87 L303.80 84.85 L303.80 83.82 L303.80 82.79 L303.80 81.77 L303.80 80.74 L303.80 79.72 L303.80 78.69 L303.80 77.67 L303.80 76.64 L303.80 75.62 L303.80 74.59 L303.80 73.56 L303.80 72.54 L303.80 71.51 L303.80 70.49 L303.80 69.46 L303.80 68.44 L303.80 67.41 L303.80 66.38 L303.80 65.36 L303.80 64.33 L303.80 63.31 L303.80 62.28 L303.80 61.26 L303.80 60.23 L303.80 59.21 L303.80 58.18 L303.80 57.15 L303.99 56.13 L304.23 55.10 L304.51 54.08 L304.84 53.05 L305.27 52.03 L306.30 51.00Z" fill="url(#g27)"/><path d="M338.60 26.50 L339.16 28.12 L339.39 29.73 L339.57 31.35 L339.72 32.96 L339.85 34.58 L339.97 36.19 L340.08 37.81 L340.19 39.42 L340.25 41.04 L340.25 42.65 L340.25 44.27 L340.25 45.88 L340.25 47.50 L340.25 49.12 L340.25 50.73 L340.25 52.35 L340.25 53.96 L340.25 55.58 L340.25 57.19 L340.25 58.81 L340.25 60.42 L340.25 62.04 L340.25 63.65 L340.25 65.27 L340.25 66.88 L340.25 68.50 L340.25 70.12 L340.25 71.73 L340.25 73.35 L340.25 74.96 L340.25 76.58 L340.25 78.19 L340.25 79.81 L340.25 81.42 L340.25 83.04 L340.25 84.65 L340.25 86.27 L339.81 87.88 L338.60 89.50 L338.60 89.50 L337.39 87.88 L336.95 86.27 L336.95 84.65 L336.95 83.04 L336.95 81.42 L336.95 79.81 L336.95 78.19 L336.95 76.58 L336.95 74.96 L336.95 73.35 L336.95 71.73 L336.95 70.12 L336.95 68.50 L336.95 66.88 L336.95 65.27 L336.95 63.65 L336.95 62.04 L336.95 60.42 L336.95 58.81 L336.95 57.19 L336.95 55.58 L336.95 53.96 L336.95 52.35 L336.95 50.73 L336.95 49.12 L336.95 47.50 L336.95 45.88 L336.95 44.27 L336.95 42.65 L336.95 41.04 L337.01 39.42 L337.12 37.81 L337.23 36.19 L337.35 34.58 L337.48 32.96 L337.63 31.35 L337.81 29.73 L338.04 28.12 L338.60 26.50Z" fill="url(#g30)"/><path d="M347.70 27.50 L348.26 29.09 L348.49 30.68 L348.66 32.27 L348.81 33.86 L348.94 35.45 L349.06 37.04 L349.17 38.63 L349.27 40.22 L349.35 41.81 L349.35 43.40 L349.35 44.99 L349.35 46.58 L349.35 48.17 L349.35 49.76 L349.35 51.35 L349.35 52.94 L349.35 54.53 L349.35 56.12 L349.35 57.71 L349.35 59.29 L349.35 60.88 L349.35 62.47 L349.35 64.06 L349.35 65.65 L349.35 67.24 L349.35 68.83 L349.35 70.42 L349.35 72.01 L349.35 73.60 L349.35 75.19 L349.35 76.78 L349.35 78.37 L349.35 79.96 L349.35 81.55 L349.35 83.14 L349.35 84.73 L349.35 86.32 L348.90 87.91 L347.70 89.50 L347.70 89.50 L346.50 87.91 L346.05 86.32 L346.05 84.73 L346.05 83.14 L346.05 81.55 L346.05 79.96 L346.05 78.37 L346.05 76.78 L346.05 75.19 L346.05 73.60 L346.05 72.01 L346.05 70.42 L346.05 68.83 L346.05 67.24 L346.05 65.65 L346.05 64.06 L346.05 62.47 L346.05 60.88 L346.05 59.29 L346.05 57.71 L346.05 56.12 L346.05 54.53 L346.05 52.94 L346.05 51.35 L346.05 49.76 L346.05 48.17 L346.05 46.58 L346.05 44.99 L346.05 43.40 L346.05 41.81 L346.13 40.22 L346.23 38.63 L346.34 37.04 L346.46 35.45 L346.59 33.86 L346.74 32.27 L346.91 30.68 L347.14 29.09 L347.70 27.50Z" fill="url(#g31)"/><path d="M356.80 32.00 L357.29 33.47 L357.49 34.95 L357.64 36.42 L357.77 37.90 L357.89 39.37 L357.99 40.85 L358.09 42.32 L358.17 43.79 L358.26 45.27 L358.34 46.74 L358.40 48.22 L358.40 49.69 L358.40 51.17 L358.40 52.64 L358.40 54.12 L358.40 55.59 L358.40 57.06 L358.40 58.54 L358.40 60.01 L358.40 61.49 L358.40 62.96 L358.40 64.44 L358.40 65.91 L358.40 67.38 L358.40 68.86 L358.40 70.33 L358.40 71.81 L358.40 73.28 L358.40 74.76 L358.40 76.23 L358.40 77.71 L358.40 79.18 L358.40 80.65 L358.40 82.13 L358.40 83.60 L358.40 85.08 L358.39 86.55 L357.92 88.03 L356.80 89.50 L356.80 89.50 L355.68 88.03 L355.21 86.55 L355.20 85.08 L355.20 83.60 L355.20 82.13 L355.20 80.65 L355.20 79.18 L355.20 77.71 L355.20 76.23 L355.20 74.76 L355.20 73.28 L355.20 71.81 L355.20 70.33 L355.20 68.86 L355.20 67.38 L355.20 65.91 L355.20 64.44 L355.20 62.96 L355.20 61.49 L355.20 60.01 L355.20 58.54 L355.20 57.06 L355.20 55.59 L355.20 54.12 L355.20 52.64 L355.20 51.17 L355.20 49.69 L355.20 48.22 L355.26 46.74 L355.34 45.27 L355.43 43.79 L355.51 42.32 L355.61 40.85 L355.71 39.37 L355.83 37.90 L355.96 36.42 L356.11 34.95 L356.31 33.47 L356.80 32.00Z" fill="url(#g32)"/><path d="M365.90 36.00 L366.31 37.37 L366.47 38.74 L366.60 40.12 L366.71 41.49 L366.81 42.86 L366.89 44.23 L366.97 45.60 L367.05 46.97 L367.12 48.35 L367.18 49.72 L367.25 51.09 L367.31 52.46 L367.36 53.83 L367.42 55.21 L367.45 56.58 L367.45 57.95 L367.45 59.32 L367.45 60.69 L367.45 62.06 L367.45 63.44 L367.45 64.81 L367.45 66.18 L367.45 67.55 L367.45 68.92 L367.45 70.29 L367.45 71.67 L367.45 73.04 L367.45 74.41 L367.45 75.78 L367.45 77.15 L367.45 78.53 L367.45 79.90 L367.45 81.27 L367.45 82.64 L367.45 84.01 L367.45 85.38 L367.38 86.76 L366.95 88.13 L365.90 89.50 L365.90 89.50 L364.85 88.13 L364.42 86.76 L364.35 85.38 L364.35 84.01 L364.35 82.64 L364.35 81.27 L364.35 79.90 L364.35 78.53 L364.35 77.15 L364.35 75.78 L364.35 74.41 L364.35 73.04 L364.35 71.67 L364.35 70.29 L364.35 68.92 L364.35 67.55 L364.35 66.18 L364.35 64.81 L364.35 63.44 L364.35 62.06 L364.35 60.69 L364.35 59.32 L364.35 57.95 L364.35 56.58 L364.38 55.21 L364.44 53.83 L364.49 52.46 L364.55 51.09 L364.62 49.72 L364.68 48.35 L364.75 46.97 L364.83 45.60 L364.91 44.23 L364.99 42.86 L365.09 41.49 L365.20 40.12 L365.33 38.74 L365.49 37.37 L365.90 36.00Z" fill="url(#g33)"/><path d="M375.00 58.00 L375.70 58.85 L375.99 59.69 L376.22 60.54 L376.40 61.38 L376.57 62.23 L376.72 63.08 L376.86 63.92 L376.98 64.77 L377.10 65.62 L377.22 66.46 L377.33 67.31 L377.43 68.15 L377.53 69.00 L377.63 69.85 L377.72 70.69 L377.75 71.54 L377.75 72.38 L377.75 73.23 L377.75 74.08 L377.75 74.92 L377.75 75.77 L377.75 76.62 L377.75 77.46 L377.75 78.31 L377.75 79.15 L377.75 80.00 L377.75 80.85 L377.75 81.69 L377.75 82.54 L377.75 83.38 L377.75 84.23 L377.75 85.08 L377.75 85.92 L377.53 86.77 L377.26 87.62 L376.96 88.46 L376.60 89.31 L376.13 90.15 L375.00 91.00 L375.00 91.00 L373.87 90.15 L373.40 89.31 L373.04 88.46 L372.74 87.62 L372.47 86.77 L372.25 85.92 L372.25 85.08 L372.25 84.23 L372.25 83.38 L372.25 82.54 L372.25 81.69 L372.25 80.85 L372.25 80.00 L372.25 79.15 L372.25 78.31 L372.25 77.46 L372.25 76.62 L372.25 75.77 L372.25 74.92 L372.25 74.08 L372.25 73.23 L372.25 72.38 L372.25 71.54 L372.28 70.69 L372.37 69.85 L372.47 69.00 L372.57 68.15 L372.67 67.31 L372.78 66.46 L372.90 65.62 L373.02 64.77 L373.14 63.92 L373.28 63.08 L373.43 62.23 L373.60 61.38 L373.78 60.54 L374.01 59.69 L374.30 58.85 L375.00 58.00Z" fill="url(#g34)"/><path d="M384.10 60.00 L384.76 60.78 L385.04 61.56 L385.25 62.35 L385.42 63.13 L385.58 63.91 L385.72 64.69 L385.85 65.47 L385.97 66.26 L386.09 67.04 L386.19 67.82 L386.30 68.60 L386.39 69.38 L386.49 70.17 L386.58 70.95 L386.66 71.73 L386.75 72.51 L386.80 73.29 L386.80 74.08 L386.80 74.86 L386.80 75.64 L386.80 76.42 L386.80 77.21 L386.80 77.99 L386.80 78.77 L386.80 79.55 L386.80 80.33 L386.80 81.12 L386.80 81.90 L386.80 82.68 L386.80 83.46 L386.80 84.24 L386.80 85.03 L386.72 85.81 L386.49 86.59 L386.24 87.37 L385.95 88.15 L385.61 88.94 L385.17 89.72 L384.10 90.50 L384.10 90.50 L383.03 89.72 L382.59 88.94 L382.25 88.15 L381.96 87.37 L381.71 86.59 L381.48 85.81 L381.40 85.03 L381.40 84.24 L381.40 83.46 L381.40 82.68 L381.40 81.90 L381.40 81.12 L381.40 80.33 L381.40 79.55 L381.40 78.77 L381.40 77.99 L381.40 77.21 L381.40 76.42 L381.40 75.64 L381.40 74.86 L381.40 74.08 L381.40 73.29 L381.45 72.51 L381.54 71.73 L381.62 70.95 L381.71 70.17 L381.81 69.38 L381.90 68.60 L382.01 67.82 L382.11 67.04 L382.23 66.26 L382.35 65.47 L382.48 64.69 L382.62 63.91 L382.78 63.13 L382.95 62.35 L383.16 61.56 L383.44 60.78 L384.10 60.00Z" fill="url(#g35)"/><path d="M393.20 60.00 L393.86 60.78 L394.14 61.56 L394.35 62.35 L394.52 63.13 L394.68 63.91 L394.82 64.69 L394.95 65.47 L395.07 66.26 L395.19 67.04 L395.29 67.82 L395.40 68.60 L395.49 69.38 L395.59 70.17 L395.68 70.95 L395.76 71.73 L395.85 72.51 L395.90 73.29 L395.90 74.08 L395.90 74.86 L395.90 75.64 L395.90 76.42 L395.90 77.21 L395.90 77.99 L395.90 78.77 L395.90 79.55 L395.90 80.33 L395.90 81.12 L395.90 81.90 L395.90 82.68 L395.90 83.46 L395.90 84.24 L395.90 85.03 L395.82 85.81 L395.59 86.59 L395.34 87.37 L395.05 88.15 L394.71 88.94 L394.27 89.72 L393.20 90.50 L393.20 90.50 L392.13 89.72 L391.69 88.94 L391.35 88.15 L391.06 87.37 L390.81 86.59 L390.58 85.81 L390.50 85.03 L390.50 84.24 L390.50 83.46 L390.50 82.68 L390.50 81.90 L390.50 81.12 L390.50 80.33 L390.50 79.55 L390.50 78.77 L390.50 77.99 L390.50 77.21 L390.50 76.42 L390.50 75.64 L390.50 74.86 L390.50 74.08 L390.50 73.29 L390.55 72.51 L390.64 71.73 L390.72 70.95 L390.81 70.17 L390.91 69.38 L391.00 68.60 L391.11 67.82 L391.21 67.04 L391.33 66.26 L391.45 65.47 L391.58 64.69 L391.72 63.91 L391.88 63.13 L392.05 62.35 L392.26 61.56 L392.54 60.78 L393.20 60.00Z" fill="url(#g36)"/><path d="M402.30 60.00 L402.96 60.78 L403.24 61.56 L403.45 62.35 L403.62 63.13 L403.78 63.91 L403.92 64.69 L404.05 65.47 L404.17 66.26 L404.29 67.04 L404.39 67.82 L404.50 68.60 L404.59 69.38 L404.69 70.17 L404.78 70.95 L404.86 71.73 L404.95 72.51 L405.00 73.29 L405.00 74.08 L405.00 74.86 L405.00 75.64 L405.00 76.42 L405.00 77.21 L405.00 77.99 L405.00 78.77 L405.00 79.55 L405.00 80.33 L405.00 81.12 L405.00 81.90 L405.00 82.68 L405.00 83.46 L405.00 84.24 L405.00 85.03 L404.92 85.81 L404.69 86.59 L404.44 87.37 L404.15 88.15 L403.81 88.94 L403.37 89.72 L402.30 90.50 L402.30 90.50 L401.23 89.72 L400.79 88.94 L400.45 88.15 L400.16 87.37 L399.91 86.59 L399.68 85.81 L399.60 85.03 L399.60 84.24 L399.60 83.46 L399.60 82.68 L399.60 81.90 L399.60 81.12 L399.60 80.33 L399.60 79.55 L399.60 78.77 L399.60 77.99 L399.60 77.21 L399.60 76.42 L399.60 75.64 L399.60 74.86 L399.60 74.08 L399.60 73.29 L399.65 72.51 L399.74 71.73 L399.82 70.95 L399.91 70.17 L400.01 69.38 L400.10 68.60 L400.21 67.82 L400.31 67.04 L400.43 66.26 L400.55 65.47 L400.68 64.69 L400.82 63.91 L400.98 63.13 L401.15 62.35 L401.36 61.56 L401.64 60.78 L402.30 60.00Z" fill="url(#g37)"/><path d="M434.80 58.00 L435.36 58.78 L435.59 59.56 L435.77 60.35 L435.92 61.13 L436.05 61.91 L436.17 62.69 L436.28 63.47 L436.38 64.26 L436.48 65.04 L436.57 65.82 L436.66 66.60 L436.74 67.38 L436.82 68.17 L436.90 68.95 L436.90 69.73 L436.90 70.51 L436.90 71.29 L436.90 72.08 L436.90 72.86 L436.90 73.64 L436.90 74.42 L436.90 75.21 L436.90 75.99 L436.90 76.77 L436.90 77.55 L436.90 78.33 L436.90 79.12 L436.85 79.90 L436.76 80.68 L436.66 81.46 L436.55 82.24 L436.44 83.03 L436.32 83.81 L436.18 84.59 L436.04 85.37 L435.87 86.15 L435.68 86.94 L435.42 87.72 L434.80 88.50 L434.80 88.50 L434.18 87.72 L433.92 86.94 L433.73 86.15 L433.56 85.37 L433.42 84.59 L433.28 83.81 L433.16 83.03 L433.05 82.24 L432.94 81.46 L432.84 80.68 L432.75 79.90 L432.70 79.12 L432.70 78.33 L432.70 77.55 L432.70 76.77 L432.70 75.99 L432.70 75.21 L432.70 74.42 L432.70 73.64 L432.70 72.86 L432.70 72.08 L432.70 71.29 L432.70 70.51 L432.70 69.73 L432.70 68.95 L432.78 68.17 L432.86 67.38 L432.94 66.60 L433.03 65.82 L433.12 65.04 L433.22 64.26 L433.32 63.47 L433.43 62.69 L433.55 61.91 L433.68 61.13 L433.83 60.35 L434.01 59.56 L434.24 58.78 L434.80 58.00Z" fill="url(#g40)"/><path d="M443.90 58.00 L444.46 58.78 L444.69 59.56 L444.87 60.35 L445.02 61.13 L445.15 61.91 L445.27 62.69 L445.38 63.47 L445.48 64.26 L445.58 65.04 L445.67 65.82 L445.76 66.60 L445.84 67.38 L445.92 68.17 L446.00 68.95 L446.00 69.73 L446.00 70.51 L446.00 71.29 L446.00 72.08 L446.00 72.86 L446.00 73.64 L446.00 74.42 L446.00 75.21 L446.00 75.99 L446.00 76.77 L446.00 77.55 L446.00 78.33 L446.00 79.12 L445.95 79.90 L445.86 80.68 L445.76 81.46 L445.65 82.24 L445.54 83.03 L445.42 83.81 L445.28 84.59 L445.14 85.37 L444.97 86.15 L444.78 86.94 L444.52 87.72 L443.90 88.50 L443.90 88.50 L443.28 87.72 L443.02 86.94 L442.83 86.15 L442.66 85.37 L442.52 84.59 L442.38 83.81 L442.26 83.03 L442.15 82.24 L442.04 81.46 L441.94 80.68 L441.85 79.90 L441.80 79.12 L441.80 78.33 L441.80 77.55 L441.80 76.77 L441.80 75.99 L441.80 75.21 L441.80 74.42 L441.80 73.64 L441.80 72.86 L441.80 72.08 L441.80 71.29 L441.80 70.51 L441.80 69.73 L441.80 68.95 L441.88 68.17 L441.96 67.38 L442.04 66.60 L442.13 65.82 L442.22 65.04 L442.32 64.26 L442.42 63.47 L442.53 62.69 L442.65 61.91 L442.78 61.13 L442.93 60.35 L443.11 59.56 L443.34 58.78 L443.90 58.00Z" fill="url(#g41)"/><path d="M453.00 60.50 L453.65 61.23 L453.92 61.96 L454.12 62.69 L454.30 63.42 L454.45 64.15 L454.59 64.88 L454.72 65.62 L454.84 66.35 L454.95 67.08 L455.05 67.81 L455.15 68.54 L455.25 69.27 L455.34 70.00 L455.40 70.73 L455.40 71.46 L455.40 72.19 L455.40 72.92 L455.40 73.65 L455.40 74.38 L455.40 75.12 L455.40 75.85 L455.40 76.58 L455.40 77.31 L455.40 78.04 L455.40 78.77 L455.40 79.50 L455.40 80.23 L455.40 80.96 L455.29 81.69 L455.18 82.42 L455.05 83.15 L454.92 83.88 L454.78 84.62 L454.62 85.35 L454.45 86.08 L454.26 86.81 L454.03 87.54 L453.73 88.27 L453.00 89.00 L453.00 89.00 L452.27 88.27 L451.97 87.54 L451.74 86.81 L451.55 86.08 L451.38 85.35 L451.22 84.62 L451.08 83.88 L450.95 83.15 L450.82 82.42 L450.71 81.69 L450.60 80.96 L450.60 80.23 L450.60 79.50 L450.60 78.77 L450.60 78.04 L450.60 77.31 L450.60 76.58 L450.60 75.85 L450.60 75.12 L450.60 74.38 L450.60 73.65 L450.60 72.92 L450.60 72.19 L450.60 71.46 L450.60 70.73 L450.66 70.00 L450.75 69.27 L450.85 68.54 L450.95 67.81 L451.05 67.08 L451.16 66.35 L451.28 65.62 L451.41 64.88 L451.55 64.15 L451.70 63.42 L451.88 62.69 L452.08 61.96 L452.35 61.23 L453.00 60.50Z" fill="url(#g42)"/><path d="M462.10 60.50 L462.75 61.23 L463.02 61.96 L463.22 62.69 L463.40 63.42 L463.55 64.15 L463.69 64.88 L463.82 65.62 L463.94 66.35 L464.05 67.08 L464.15 67.81 L464.25 68.54 L464.35 69.27 L464.44 70.00 L464.50 70.73 L464.50 71.46 L464.50 72.19 L464.50 72.92 L464.50 73.65 L464.50 74.38 L464.50 75.12 L464.50 75.85 L464.50 76.58 L464.50 77.31 L464.50 78.04 L464.50 78.77 L464.50 79.50 L464.50 80.23 L464.50 80.96 L464.39 81.69 L464.28 82.42 L464.15 83.15 L464.02 83.88 L463.88 84.62 L463.72 85.35 L463.55 86.08 L463.36 86.81 L463.13 87.54 L462.83 88.27 L462.10 89.00 L462.10 89.00 L461.37 88.27 L461.07 87.54 L460.84 86.81 L460.65 86.08 L460.48 85.35 L460.32 84.62 L460.18 83.88 L460.05 83.15 L459.92 82.42 L459.81 81.69 L459.70 80.96 L459.70 80.23 L459.70 79.50 L459.70 78.77 L459.70 78.04 L459.70 77.31 L459.70 76.58 L459.70 75.85 L459.70 75.12 L459.70 74.38 L459.70 73.65 L459.70 72.92 L459.70 72.19 L459.70 71.46 L459.70 70.73 L459.76 70.00 L459.85 69.27 L459.95 68.54 L460.05 67.81 L460.15 67.08 L460.26 66.35 L460.38 65.62 L460.51 64.88 L460.65 64.15 L460.80 63.42 L460.98 62.69 L461.18 61.96 L461.45 61.23 L462.10 60.50Z" fill="url(#g43)"/><path d="M471.20 61.00 L471.91 61.72 L472.20 62.44 L472.43 63.15 L472.62 63.87 L472.79 64.59 L472.94 65.31 L473.08 66.03 L473.21 66.74 L473.33 67.46 L473.45 68.18 L473.55 68.90 L473.66 69.62 L473.76 70.33 L473.85 71.05 L473.85 71.77 L473.85 72.49 L473.85 73.21 L473.85 73.92 L473.85 74.64 L473.85 75.36 L473.85 76.08 L473.85 76.79 L473.85 77.51 L473.85 78.23 L473.85 78.95 L473.85 79.67 L473.85 80.38 L473.83 81.10 L473.71 81.82 L473.58 82.54 L473.45 83.26 L473.30 83.97 L473.14 84.69 L472.98 85.41 L472.79 86.13 L472.58 86.85 L472.32 87.56 L471.99 88.28 L471.20 89.00 L471.20 89.00 L470.41 88.28 L470.08 87.56 L469.82 86.85 L469.61 86.13 L469.42 85.41 L469.26 84.69 L469.10 83.97 L468.95 83.26 L468.82 82.54 L468.69 81.82 L468.57 81.10 L468.55 80.38 L468.55 79.67 L468.55 78.95 L468.55 78.23 L468.55 77.51 L468.55 76.79 L468.55 76.08 L468.55 75.36 L468.55 74.64 L468.55 73.92 L468.55 73.21 L468.55 72.49 L468.55 71.77 L468.55 71.05 L468.64 70.33 L468.74 69.62 L468.85 68.90 L468.95 68.18 L469.07 67.46 L469.19 66.74 L469.32 66.03 L469.46 65.31 L469.61 64.59 L469.78 63.87 L469.97 63.15 L470.20 62.44 L470.49 61.72 L471.20 61.00Z" fill="url(#g44)"/><path d="M480.30 61.00 L481.01 61.72 L481.30 62.44 L481.53 63.15 L481.72 63.87 L481.89 64.59 L482.04 65.31 L482.18 66.03 L482.31 66.74 L482.43 67.46 L482.55 68.18 L482.65 68.90 L482.76 69.62 L482.86 70.33 L482.95 71.05 L482.95 71.77 L482.95 72.49 L482.95 73.21 L482.95 73.92 L482.95 74.64 L482.95 75.36 L482.95 76.08 L482.95 76.79 L482.95 77.51 L482.95 78.23 L482.95 78.95 L482.95 79.67 L482.95 80.38 L482.93 81.10 L482.81 81.82 L482.68 82.54 L482.55 83.26 L482.40 83.97 L482.24 84.69 L482.08 85.41 L481.89 86.13 L481.68 86.85 L481.42 87.56 L481.09 88.28 L480.30 89.00 L480.30 89.00 L479.51 88.28 L479.18 87.56 L478.92 86.85 L478.71 86.13 L478.52 85.41 L478.36 84.69 L478.20 83.97 L478.05 83.26 L477.92 82.54 L477.79 81.82 L477.67 81.10 L477.65 80.38 L477.65 79.67 L477.65 78.95 L477.65 78.23 L477.65 77.51 L477.65 76.79 L477.65 76.08 L477.65 75.36 L477.65 74.64 L477.65 73.92 L477.65 73.21 L477.65 72.49 L477.65 71.77 L477.65 71.05 L477.74 70.33 L477.84 69.62 L477.95 68.90 L478.05 68.18 L478.17 67.46 L478.29 66.74 L478.42 66.03 L478.56 65.31 L478.71 64.59 L478.88 63.87 L479.07 63.15 L479.30 62.44 L479.59 61.72 L480.30 61.00Z" fill="url(#g45)"/><path d="M489.40 61.00 L490.11 61.72 L490.40 62.44 L490.63 63.15 L490.82 63.87 L490.99 64.59 L491.14 65.31 L491.28 66.03 L491.41 66.74 L491.53 67.46 L491.65 68.18 L491.75 68.90 L491.86 69.62 L491.96 70.33 L492.05 71.05 L492.05 71.77 L492.05 72.49 L492.05 73.21 L492.05 73.92 L492.05 74.64 L492.05 75.36 L492.05 76.08 L492.05 76.79 L492.05 77.51 L492.05 78.23 L492.05 78.95 L492.05 79.67 L492.05 80.38 L492.03 81.10 L491.91 81.82 L491.78 82.54 L491.65 83.26 L491.50 83.97 L491.34 84.69 L491.18 85.41 L490.99 86.13 L490.78 86.85 L490.52 87.56 L490.19 88.28 L489.40 89.00 L489.40 89.00 L488.61 88.28 L488.28 87.56 L488.02 86.85 L487.81 86.13 L487.62 85.41 L487.46 84.69 L487.30 83.97 L487.15 83.26 L487.02 82.54 L486.89 81.82 L486.77 81.10 L486.75 80.38 L486.75 79.67 L486.75 78.95 L486.75 78.23 L486.75 77.51 L486.75 76.79 L486.75 76.08 L486.75 75.36 L486.75 74.64 L486.75 73.92 L486.75 73.21 L486.75 72.49 L486.75 71.77 L486.75 71.05 L486.84 70.33 L486.94 69.62 L487.05 68.90 L487.15 68.18 L487.27 67.46 L487.39 66.74 L487.52 66.03 L487.66 65.31 L487.81 64.59 L487.98 63.87 L488.17 63.15 L488.40 62.44 L488.69 61.72 L489.40 61.00Z" fill="url(#g46)"/><path d="M498.50 61.00 L499.21 61.72 L499.50 62.44 L499.73 63.15 L499.92 63.87 L500.09 64.59 L500.24 65.31 L500.38 66.03 L500.51 66.74 L500.63 67.46 L500.75 68.18 L500.85 68.90 L500.96 69.62 L501.06 70.33 L501.15 71.05 L501.15 71.77 L501.15 72.49 L501.15 73.21 L501.15 73.92 L501.15 74.64 L501.15 75.36 L501.15 76.08 L501.15 76.79 L501.15 77.51 L501.15 78.23 L501.15 78.95 L501.15 79.67 L501.15 80.38 L501.13 81.10 L501.01 81.82 L500.88 82.54 L500.75 83.26 L500.60 83.97 L500.44 84.69 L500.28 85.41 L500.09 86.13 L499.88 86.85 L499.62 87.56 L499.29 88.28 L498.50 89.00 L498.50 89.00 L497.71 88.28 L497.38 87.56 L497.12 86.85 L496.91 86.13 L496.72 85.41 L496.56 84.69 L496.40 83.97 L496.25 83.26 L496.12 82.54 L495.99 81.82 L495.87 81.10 L495.85 80.38 L495.85 79.67 L495.85 78.95 L495.85 78.23 L495.85 77.51 L495.85 76.79 L495.85 76.08 L495.85 75.36 L495.85 74.64 L495.85 73.92 L495.85 73.21 L495.85 72.49 L495.85 71.77 L495.85 71.05 L495.94 70.33 L496.04 69.62 L496.15 68.90 L496.25 68.18 L496.37 67.46 L496.49 66.74 L496.62 66.03 L496.76 65.31 L496.91 64.59 L497.08 63.87 L497.27 63.15 L497.50 62.44 L497.79 61.72 L498.50 61.00Z" fill="url(#g47)"/></g>
<path d="M49.2 64.7h0M51.1 34.1h0M48.3 43.8h0M51.7 36.4h0M49.1 35.3h0M53.0 54.4h0M49.7 72.7h0M48.4 38.9h0M48.9 38.0h0M52.1 59.4h0M49.9 69.4h0M48.9 52.3h0M50.0 68.2h0M50.4 31.7h0M51.5 67.6h0M49.2 70.1h0M48.2 44.4h0M49.0 38.9h0M50.8 71.9h0M52.6 60.4h0M47.1 39.7h0M49.6 65.3h0M52.1 63.3h0M51.7 72.1h0M51.9 63.7h0M49.9 76.7h0M49.5 35.4h0M51.0 76.4h0M52.1 53.4h0M51.7 67.1h0M48.6 53.6h0M51.0 73.0h0M49.7 33.8h0M51.9 61.3h0M49.4 64.2h0M50.2 73.8h0M49.3 71.2h0M52.1 51.6h0M48.5 50.7h0M48.5 50.8h0M47.4 51.3h0M49.4 66.1h0M51.7 64.3h0M57.7 62.8h0M57.8 36.8h0M59.7 31.2h0M57.9 38.8h0M58.0 61.8h0M60.5 67.1h0M58.1 69.1h0M61.5 56.4h0M61.7 51.8h0M61.2 48.2h0M58.2 64.3h0M57.9 52.5h0M58.0 51.8h0M62.0 38.0h0M61.9 56.2h0M60.8 35.1h0M58.1 74.3h0M57.9 39.2h0M59.3 74.2h0M58.2 37.8h0M61.8 52.3h0M58.3 34.9h0M57.9 59.4h0M57.5 62.6h0M58.2 37.5h0M57.9 42.8h0M57.4 49.5h0M61.4 48.0h0M59.1 33.8h0M57.3 43.8h0M60.1 30.2h0M59.1 33.6h0M61.2 46.0h0M60.3 34.5h0M59.7 31.2h0M61.9 46.0h0M61.6 56.3h0M59.6 72.8h0M61.8 41.7h0M62.1 52.3h0M61.6 43.8h0M57.5 46.0h0M60.2 74.4h0M57.9 39.7h0M69.3 66.9h0M68.1 75.6h0M68.9 74.1h0M66.9 39.8h0M66.5 51.7h0M70.4 44.6h0M70.6 49.7h0M70.6 41.8h0M70.3 47.1h0M67.1 71.2h0M70.5 65.4h0M68.3 70.0h0M69.0 30.6h0M69.4 34.0h0M68.3 67.5h0M71.4 43.7h0M68.1 33.9h0M67.6 33.9h0M66.6 47.8h0M69.7 34.2h0M67.1 53.2h0M67.2 60.2h0M69.2 71.3h0M67.3 62.5h0M69.3 74.1h0M71.8 59.2h0M70.4 56.5h0M67.1 50.6h0M67.4 63.4h0M68.8 70.8h0M70.5 47.5h0M67.1 61.2h0M70.4 47.7h0M70.3 46.3h0M69.4 71.0h0M69.9 62.8h0M68.2 67.8h0M68.1 67.7h0M66.7 58.1h0M67.1 47.0h0M67.9 66.7h0M66.7 51.3h0M76.8 69.6h0M78.3 69.9h0M75.6 37.9h0M79.4 62.8h0M77.9 75.6h0M79.0 68.4h0M79.0 75.1h0M78.7 35.5h0M76.1 39.5h0M76.3 61.5h0M79.4 41.6h0M75.0 39.8h0M75.7 61.2h0M78.6 35.5h0M77.1 30.6h0M79.5 60.2h0M79.1 33.5h0M77.3 31.5h0M80.0 41.0h0M78.1 69.6h0M79.3 43.0h0M77.5 70.0h0M79.4 45.9h0M79.5 38.1h0M79.9 48.5h0M75.9 48.4h0M79.6 66.2h0M75.6 42.7h0M76.0 61.7h0M77.6 32.2h0M77.4 74.9h0M79.4 54.9h0M77.7 70.4h0M75.4 44.3h0M77.3 34.9h0M75.9 54.1h0M75.5 43.1h0M76.8 67.7h0M78.3 76.1h0M80.3 52.3h0M78.7 69.5h0M78.9 37.3h0M76.3 63.4h0M83.9 61.9h0M86.2 38.9h0M88.4 75.6h0M86.3 85.2h0M86.3 77.7h0M85.8 75.7h0M86.6 82.6h0M89.7 68.2h0M87.6 77.9h0M87.2 83.0h0M83.9 50.0h0M87.6 77.7h0M86.4 82.6h0M89.6 60.8h0M89.2 60.5h0M86.7 84.1h0M89.2 74.7h0M87.6 79.2h0M87.5 38.2h0M89.1 56.9h0M83.8 58.0h0M88.9 73.5h0M86.4 83.5h0M84.7 61.0h0M85.6 38.0h0M85.6 73.5h0M89.1 51.8h0M89.4 67.7h0M88.9 60.0h0M88.9 49.0h0M89.2 49.2h0M87.8 39.7h0M84.5 59.8h0M86.7 79.1h0M85.1 71.1h0M84.7 53.0h0M85.5 73.1h0M89.4 49.7h0M88.3 79.1h0M85.4 71.4h0M88.2 73.6h0M88.2 39.2h0M87.7 39.5h0M88.9 50.1h0M84.9 46.2h0M88.3 73.3h0M87.1 81.6h0M82.9 43.8h0M94.7 77.6h0M94.6 74.6h0M94.6 48.8h0M98.1 58.9h0M96.4 78.6h0M94.4 49.1h0M95.3 83.8h0M94.7 78.6h0M93.8 59.4h0M96.1 86.4h0M95.3 42.5h0M95.9 84.9h0M98.5 61.5h0M93.8 49.9h0M97.1 77.8h0M98.4 50.0h0M93.7 61.2h0M95.4 45.9h0M97.1 86.5h0M97.9 53.3h0M98.1 66.1h0M96.8 83.6h0M98.2 48.8h0M95.4 78.6h0M95.6 87.2h0M94.1 57.3h0M96.6 44.9h0M94.6 75.0h0M98.0 62.0h0M95.9 79.0h0M93.6 68.5h0M98.4 68.2h0M98.0 73.8h0M95.0 44.2h0M94.6 48.6h0M95.8 86.9h0M93.3 52.8h0M98.2 71.5h0M97.8 52.2h0M94.8 82.3h0M94.5 80.0h0M104.0 80.6h0M102.6 62.2h0M104.4 47.8h0M106.9 67.8h0M102.3 71.4h0M102.7 66.2h0M105.9 81.7h0M105.3 45.8h0M107.1 78.3h0M106.0 50.8h0M108.8 62.1h0M103.9 85.2h0M106.3 76.9h0M103.2 75.7h0M103.0 62.3h0M103.5 73.9h0M105.6 84.5h0M104.2 80.2h0M103.0 75.4h0M105.7 88.8h0M103.8 82.8h0M107.0 77.8h0M104.7 46.4h0M104.5 45.8h0M106.6 76.3h0M102.3 61.6h0M106.4 53.1h0M104.5 47.5h0M104.9 46.2h0M102.2 75.4h0M104.1 78.6h0M102.4 54.7h0M104.2 79.0h0M107.3 54.1h0M105.8 82.2h0M107.1 64.2h0M107.1 75.6h0M105.6 84.2h0M114.4 48.2h0M112.9 85.2h0M115.5 79.8h0M114.2 85.8h0M112.7 79.7h0M112.3 62.4h0M114.3 82.2h0M113.9 49.1h0M114.7 49.3h0M115.7 52.5h0M113.8 49.3h0M112.4 60.0h0M112.9 87.8h0M113.1 49.4h0M115.1 46.2h0M114.1 88.6h0M116.6 54.1h0M114.1 48.0h0M117.2 69.1h0M112.4 45.2h0M112.3 70.0h0M111.7 60.9h0M112.1 70.1h0M112.0 71.9h0M113.2 89.3h0M116.0 55.8h0M115.6 52.5h0M111.8 54.5h0M115.0 49.2h0M113.5 87.3h0M114.3 49.0h0M112.3 69.4h0M116.6 63.5h0M113.3 79.5h0M113.3 84.5h0M112.3 72.9h0M112.2 59.7h0M115.9 73.6h0M112.3 88.2h0M117.2 68.7h0M144.1 44.0h0M144.9 47.0h0M148.3 65.2h0M146.2 33.0h0M147.8 54.4h0M147.1 34.6h0M145.1 58.3h0M148.5 41.8h0M145.3 87.0h0M147.0 89.0h0M148.0 55.1h0M148.7 41.7h0M145.2 47.2h0M145.0 58.1h0M148.7 55.3h0M144.6 44.4h0M143.9 79.5h0M148.1 66.3h0M146.2 87.7h0M144.9 72.5h0M148.1 81.3h0M147.8 69.4h0M144.6 46.1h0M144.7 78.4h0M146.2 86.5h0M148.5 63.0h0M144.8 71.8h0M144.9 41.4h0M147.8 69.2h0M145.1 48.4h0M146.4 86.5h0M147.8 50.8h0M147.4 85.1h0M148.2 46.3h0M147.5 83.7h0M148.9 50.3h0M145.7 87.2h0M144.8 78.8h0M147.9 71.4h0M148.3 36.1h0M144.2 38.0h0M144.6 57.3h0M148.1 64.9h0M148.7 64.1h0M145.2 79.1h0M145.1 59.8h0M144.9 37.8h0M148.7 69.2h0M148.2 45.7h0M144.6 40.4h0M148.7 58.6h0M144.6 71.4h0M148.0 40.1h0M147.6 33.7h0M148.2 51.5h0M147.6 31.5h0M147.8 46.9h0M145.0 36.0h0M144.7 42.2h0M157.6 80.6h0M157.5 83.7h0M156.9 83.5h0M154.1 38.2h0M153.7 81.4h0M153.6 49.8h0M153.6 83.0h0M156.4 84.8h0M152.6 78.8h0M153.7 46.6h0M153.8 69.2h0M154.3 63.6h0M157.0 83.8h0M153.9 55.5h0M155.7 32.4h0M154.3 61.7h0M156.6 86.5h0M155.9 31.2h0M154.2 55.1h0M155.5 32.5h0M153.8 83.1h0M154.8 34.3h0M157.0 82.5h0M156.9 43.3h0M157.5 48.5h0M153.5 59.2h0M157.8 75.7h0M155.6 30.7h0M153.8 49.6h0M153.3 51.7h0M157.4 61.9h0M156.9 58.8h0M154.2 82.7h0M157.3 67.8h0M157.8 47.3h0M157.0 43.6h0M154.3 32.9h0M156.1 32.6h0M154.1 56.0h0M157.2 64.0h0M154.0 69.4h0M157.2 51.3h0M157.4 46.8h0M154.0 55.8h0M154.8 35.2h0M155.4 34.1h0M157.3 44.8h0M156.9 48.9h0M156.1 31.1h0M154.3 49.1h0M154.3 44.2h0M156.5 86.6h0M159.5 73.5h0M154.9 85.0h0M154.2 43.0h0M157.3 73.6h0M157.8 46.2h0M154.3 68.0h0M154.8 84.9h0M162.8 66.6h0M163.9 34.3h0M164.1 34.8h0M163.5 44.1h0M163.1 63.8h0M166.5 46.4h0M162.9 50.5h0M163.2 73.3h0M166.7 78.3h0M166.7 69.7h0M166.4 37.9h0M162.4 76.1h0M165.7 85.1h0M163.4 59.3h0M164.7 88.3h0M166.4 75.1h0M165.7 36.1h0M164.3 89.6h0M162.9 59.0h0M162.6 45.3h0M166.2 55.5h0M162.7 71.5h0M166.2 66.8h0M166.2 40.5h0M163.2 60.8h0M165.4 35.1h0M165.1 31.3h0M163.2 39.9h0M165.3 35.0h0M165.7 84.3h0M166.4 45.5h0M166.4 72.4h0M166.0 61.7h0M164.1 85.4h0M162.5 43.3h0M166.0 40.0h0M166.0 80.6h0M164.2 30.5h0M166.0 65.6h0M162.6 43.4h0M163.3 44.8h0M164.4 34.4h0M166.6 69.6h0M163.9 85.1h0M162.8 43.8h0M166.1 65.3h0M165.9 37.1h0M166.1 42.8h0M162.7 47.1h0M166.2 82.4h0M165.1 34.1h0M161.7 56.2h0M166.0 60.6h0M166.9 38.3h0M166.3 79.7h0M163.1 38.7h0M166.0 66.8h0M163.4 71.9h0M162.3 77.2h0M174.2 89.0h0M172.4 49.2h0M175.8 64.6h0M173.4 34.9h0M173.5 31.3h0M175.3 52.5h0M173.1 33.4h0M172.1 78.9h0M171.7 39.0h0M172.5 49.2h0M172.3 49.3h0M172.0 62.4h0M172.5 46.3h0M171.6 43.1h0M175.8 39.7h0M175.0 36.5h0M170.9 69.0h0M175.0 84.5h0M172.1 52.6h0M175.1 74.3h0M171.3 81.3h0M174.8 31.6h0M172.4 42.1h0M175.5 73.3h0M172.4 59.6h0M172.4 70.2h0M172.5 73.7h0M173.3 85.2h0M172.4 70.6h0M175.9 83.1h0M174.3 34.9h0M174.4 30.9h0M172.4 80.4h0M175.8 64.5h0M173.8 33.9h0M173.6 89.7h0M175.4 57.9h0M172.3 37.9h0M175.6 49.0h0M174.5 35.9h0M172.3 68.6h0M172.0 67.5h0M172.1 72.1h0M175.2 55.7h0M175.3 69.8h0M176.0 73.2h0M173.4 32.5h0M175.8 53.7h0M175.5 51.4h0M173.2 84.8h0M175.5 72.0h0M174.0 33.5h0M171.9 66.2h0M172.2 64.2h0M172.1 47.2h0M175.9 61.0h0M175.4 42.9h0M170.9 59.2h0M185.7 72.7h0M180.5 76.8h0M183.9 66.9h0M181.2 83.9h0M181.7 68.1h0M182.4 86.5h0M185.4 79.6h0M181.9 65.7h0M181.0 83.3h0M178.7 76.5h0M184.9 76.8h0M182.8 62.9h0M180.7 78.7h0M180.4 61.1h0M180.6 75.8h0M181.1 84.7h0M183.6 59.3h0M181.8 69.7h0M182.3 66.6h0M182.5 66.4h0M184.0 86.1h0M184.1 85.2h0M182.0 88.8h0M183.5 66.6h0M179.1 77.0h0M183.2 65.0h0M184.9 84.8h0M183.4 66.4h0M190.1 67.8h0M190.1 71.4h0M189.9 78.6h0M193.9 85.6h0M192.6 61.4h0M190.4 85.8h0M189.6 82.4h0M195.0 82.9h0M191.6 90.7h0M190.6 68.9h0M189.9 79.6h0M190.9 90.2h0M190.2 66.6h0M193.8 74.0h0M191.3 86.5h0M196.0 82.8h0M193.5 85.4h0M190.9 88.7h0M193.3 66.6h0M189.7 77.5h0M191.9 90.9h0M193.6 68.9h0M190.6 89.2h0M193.8 72.2h0M189.7 84.8h0M190.1 72.9h0M190.3 68.6h0M190.6 66.7h0M190.6 68.5h0M191.0 64.5h0M191.1 65.9h0M202.4 67.3h0M201.5 62.5h0M197.1 81.0h0M199.2 85.2h0M201.6 64.1h0M199.4 72.2h0M202.6 85.9h0M202.1 65.6h0M199.2 84.9h0M201.4 89.9h0M200.2 65.0h0M204.6 83.5h0M197.8 80.4h0M201.9 63.5h0M200.9 90.1h0M202.5 65.7h0M200.5 90.7h0M203.7 81.6h0M199.6 71.1h0M200.1 88.0h0M200.0 66.5h0M201.7 87.4h0M204.1 82.8h0M201.6 64.3h0M203.2 77.8h0M201.4 64.1h0M202.5 69.8h0M200.8 62.0h0M202.7 70.5h0M203.3 78.3h0M199.2 73.6h0M210.0 63.5h0M209.0 66.2h0M209.5 65.1h0M210.6 90.7h0M207.6 60.6h0M209.1 88.7h0M207.0 75.3h0M209.2 65.5h0M210.9 89.1h0M211.1 88.5h0M207.6 81.6h0M212.3 74.8h0M208.7 68.9h0M209.0 62.5h0M209.3 64.7h0M212.5 83.4h0M211.1 62.2h0M209.2 67.0h0M208.5 69.2h0M211.7 69.9h0M206.5 78.6h0M209.4 65.9h0M208.1 81.9h0M212.6 62.7h0M212.3 79.6h0M208.2 83.9h0M210.1 63.8h0M208.0 80.1h0M208.7 68.6h0M209.0 87.1h0M210.0 90.6h0M239.8 52.9h0M240.0 58.2h0M244.3 39.7h0M243.5 27.2h0M240.5 64.6h0M240.3 64.5h0M243.8 84.4h0M244.3 36.0h0M241.2 75.5h0M241.3 80.7h0M241.3 90.2h0M242.9 85.6h0M244.3 42.7h0M244.7 30.9h0M244.3 55.8h0M244.2 86.1h0M245.0 51.0h0M243.6 23.3h0M244.6 46.1h0M241.2 74.7h0M243.6 25.2h0M240.7 55.9h0M244.1 79.6h0M241.7 82.1h0M245.7 64.4h0M239.8 58.8h0M240.2 70.1h0M240.7 44.9h0M245.3 54.4h0M241.5 80.5h0M244.4 75.1h0M244.3 68.2h0M241.0 44.3h0M239.8 42.6h0M241.2 79.3h0M241.9 83.4h0M240.2 71.9h0M240.1 47.3h0M240.9 69.2h0M242.7 91.4h0M240.8 64.3h0M242.2 90.5h0M241.9 25.0h0M244.5 38.3h0M242.6 89.9h0M243.5 26.7h0M242.0 26.8h0M244.5 66.1h0M240.3 40.4h0M244.3 59.5h0M242.2 89.6h0M240.7 59.9h0M241.2 77.3h0M244.5 70.1h0M244.4 56.1h0M240.0 69.0h0M244.0 79.7h0M242.7 86.4h0M243.4 92.0h0M243.1 26.5h0M244.4 52.4h0M245.6 63.7h0M241.8 82.4h0M246.3 44.9h0M242.3 90.2h0M245.0 37.3h0M243.1 24.0h0M250.3 84.4h0M254.1 39.0h0M250.0 36.6h0M253.3 53.5h0M250.2 81.4h0M251.4 85.9h0M253.3 71.6h0M251.5 92.4h0M249.3 44.7h0M249.9 52.7h0M249.8 33.1h0M252.3 84.0h0M250.5 80.4h0M251.4 89.8h0M248.9 34.9h0M251.2 90.7h0M250.6 25.3h0M251.8 86.3h0M253.7 48.5h0M253.9 60.6h0M252.5 23.4h0M251.9 92.1h0M253.6 48.9h0M250.8 84.4h0M249.0 40.9h0M251.0 25.9h0M253.7 48.2h0M251.2 86.1h0M249.9 72.6h0M252.3 86.0h0M251.2 85.8h0M252.5 88.3h0M250.1 32.4h0M250.2 79.1h0M251.8 90.9h0M251.8 24.4h0M252.4 83.5h0M249.0 57.8h0M249.1 32.2h0M254.1 42.8h0M253.8 56.1h0M250.0 46.1h0M249.9 59.6h0M249.9 63.8h0M250.1 69.2h0M249.0 50.3h0M254.2 39.9h0M251.9 86.3h0M249.3 48.1h0M250.1 52.7h0M249.9 38.2h0M253.7 35.6h0M254.4 72.7h0M251.0 84.9h0M253.9 64.4h0M252.9 79.2h0M249.8 63.6h0M250.2 24.3h0M250.0 25.4h0M250.2 82.1h0M248.9 48.4h0M254.5 28.0h0M253.4 45.1h0M254.3 29.7h0M254.1 29.1h0M250.6 81.4h0M251.4 23.8h0M259.4 76.5h0M260.7 87.1h0M262.4 42.4h0M262.5 68.0h0M260.1 85.5h0M258.8 68.0h0M261.6 30.5h0M260.9 88.3h0M259.6 83.6h0M257.7 32.1h0M262.0 83.0h0M262.6 62.7h0M261.9 81.0h0M262.4 78.0h0M261.1 91.3h0M259.2 48.8h0M259.1 69.8h0M258.4 71.0h0M263.3 55.7h0M261.4 87.9h0M260.8 88.3h0M259.2 46.4h0M260.5 87.2h0M259.0 65.5h0M259.6 83.3h0M259.1 47.4h0M258.3 53.4h0M260.1 27.5h0M261.9 78.6h0M260.6 88.9h0M262.4 45.2h0M262.7 72.8h0M258.1 56.7h0M259.3 89.3h0M261.3 30.0h0M264.1 46.0h0M264.1 66.4h0M262.5 75.4h0M260.5 87.4h0M262.5 79.7h0M260.3 27.3h0M262.3 74.7h0M258.5 47.7h0M263.8 59.7h0M262.2 80.9h0M258.7 63.4h0M261.4 87.0h0M262.9 48.6h0M262.9 66.0h0M262.4 32.8h0M262.2 32.2h0M259.2 74.0h0M258.9 43.7h0M259.7 80.2h0M262.6 69.8h0M262.2 76.2h0M262.9 39.1h0M262.6 42.5h0M263.6 60.9h0M262.8 36.3h0M261.2 86.2h0M262.8 41.1h0M260.5 85.7h0M261.8 83.4h0M271.2 84.1h0M270.1 33.6h0M270.8 85.8h0M269.2 85.1h0M268.4 67.1h0M272.1 75.8h0M272.0 67.1h0M271.8 65.8h0M270.9 88.9h0M270.6 34.3h0M268.0 68.7h0M271.5 57.4h0M269.0 84.5h0M270.2 89.2h0M268.2 60.8h0M271.4 81.3h0M267.6 55.5h0M270.5 87.1h0M271.5 38.3h0M270.6 86.8h0M268.0 53.1h0M268.4 80.9h0M272.0 66.2h0M272.7 57.6h0M272.8 59.9h0M273.7 58.9h0M271.5 71.9h0M272.0 62.8h0M268.1 57.3h0M270.2 88.4h0M271.6 77.5h0M267.3 48.2h0M271.0 82.8h0M267.6 72.5h0M268.2 52.1h0M267.4 67.3h0M268.3 58.6h0M270.6 36.7h0M269.0 38.1h0M270.4 87.8h0M271.8 56.0h0M269.4 87.7h0M272.5 66.1h0M270.6 86.1h0M269.6 90.6h0M268.7 79.0h0M271.9 72.6h0M271.6 46.5h0M270.6 86.7h0M267.0 74.5h0M270.4 87.3h0M271.8 43.3h0M269.0 89.4h0M268.3 69.1h0M268.6 77.1h0M268.2 68.2h0M268.4 64.3h0M272.2 80.0h0M270.6 90.8h0M270.8 84.5h0M276.2 68.6h0M277.3 50.3h0M276.6 75.4h0M278.8 50.4h0M276.4 85.4h0M280.3 49.6h0M279.5 50.2h0M280.1 51.1h0M276.4 77.2h0M281.3 59.7h0M276.8 75.4h0M277.8 91.6h0M281.4 84.3h0M278.9 49.6h0M276.9 57.9h0M281.0 89.8h0M281.2 88.0h0M277.0 80.7h0M282.1 78.9h0M281.5 76.2h0M278.6 49.4h0M276.4 60.1h0M276.7 80.5h0M279.9 51.7h0M279.1 44.7h0M280.4 46.6h0M284.3 70.5h0M277.9 90.4h0M279.3 91.9h0M282.5 59.7h0M281.5 78.9h0M279.6 44.3h0M278.5 90.8h0M276.2 84.8h0M282.6 62.9h0M278.4 47.7h0M281.4 85.9h0M276.5 63.6h0M281.3 66.8h0M281.6 75.2h0M281.9 66.1h0M278.8 50.1h0M281.1 71.7h0M281.2 55.6h0M276.2 82.1h0M281.9 56.4h0M281.1 55.5h0M277.5 89.4h0M286.1 62.6h0M291.1 80.6h0M285.9 78.3h0M290.5 58.4h0M285.9 78.7h0M290.1 61.0h0M288.3 91.0h0M287.3 51.2h0M288.0 91.6h0M289.1 51.9h0M290.9 63.9h0M290.0 54.6h0M284.8 44.7h0M288.3 91.7h0M288.3 93.2h0M285.5 57.7h0M290.7 76.1h0M291.0 83.5h0M289.1 50.1h0M285.8 57.3h0M286.0 75.2h0M290.1 62.5h0M285.3 58.6h0M289.6 53.7h0M290.6 80.2h0M286.9 89.7h0M285.4 79.3h0M290.4 72.5h0M290.4 87.2h0M285.8 79.1h0M290.1 72.9h0M287.1 90.7h0M287.4 48.9h0M290.1 75.8h0M286.1 48.0h0M285.6 66.5h0M287.5 90.8h0M290.4 56.8h0M288.7 93.8h0M284.4 70.3h0M288.3 48.7h0M286.4 54.7h0M289.1 92.6h0M289.2 47.1h0M284.1 71.9h0M289.9 89.7h0M286.7 92.5h0M290.5 79.7h0M295.1 77.3h0M300.2 60.6h0M299.5 45.6h0M300.3 87.1h0M297.7 47.2h0M297.7 51.2h0M296.1 46.3h0M296.3 51.4h0M299.2 72.1h0M298.8 52.9h0M294.7 56.8h0M295.1 56.1h0M297.3 46.3h0M296.6 51.3h0M297.3 49.2h0M300.9 76.2h0M300.8 68.2h0M296.1 51.7h0M295.8 52.3h0M299.9 85.5h0M294.4 61.0h0M300.8 75.6h0M296.0 89.9h0M295.1 72.3h0M295.6 89.8h0M295.6 93.8h0M294.0 76.8h0M295.7 51.6h0M299.3 89.3h0M295.3 52.5h0M295.0 67.7h0M295.1 79.3h0M295.0 71.5h0M297.7 51.0h0M298.3 45.3h0M299.5 87.6h0M299.1 53.8h0M299.7 85.2h0M294.7 63.6h0M299.8 69.2h0M296.1 52.4h0M299.6 66.6h0M298.8 54.6h0M295.0 54.9h0M300.7 70.8h0M295.1 70.7h0M299.1 89.9h0M295.0 50.2h0M307.0 51.4h0M305.5 92.8h0M304.0 93.9h0M303.9 59.5h0M309.1 56.0h0M306.7 51.2h0M308.4 82.4h0M307.3 91.6h0M303.4 61.8h0M303.6 84.6h0M303.1 83.7h0M304.2 74.7h0M307.3 51.4h0M307.0 51.3h0M306.0 46.5h0M303.2 84.0h0M307.1 44.9h0M308.8 83.4h0M303.3 62.0h0M308.6 82.9h0M304.1 81.7h0M307.0 51.7h0M303.4 63.0h0M309.0 65.1h0M304.2 87.7h0M308.5 58.4h0M308.0 88.3h0M304.6 45.1h0M308.8 57.4h0M302.3 78.6h0M304.0 84.2h0M308.3 85.6h0M304.7 55.0h0M306.7 91.0h0M303.8 87.5h0M309.3 76.0h0M308.3 45.8h0M303.7 71.1h0M303.7 59.2h0M304.0 60.0h0M307.8 46.1h0M303.7 61.4h0M303.8 78.6h0M308.7 69.8h0M309.3 69.6h0M305.9 45.6h0M305.7 48.5h0M304.0 63.4h0M337.4 89.3h0M340.4 87.5h0M340.0 42.8h0M340.0 48.1h0M340.1 67.7h0M340.4 80.1h0M340.1 46.3h0M336.7 68.4h0M336.4 49.7h0M337.1 53.8h0M336.4 85.1h0M340.6 46.5h0M339.8 33.6h0M340.3 51.7h0M337.2 54.0h0M341.1 42.7h0M340.7 46.2h0M337.8 27.7h0M339.7 33.1h0M340.1 34.4h0M340.3 53.8h0M340.1 40.3h0M340.3 54.7h0M337.1 45.0h0M340.6 60.7h0M340.5 48.5h0M335.6 77.8h0M338.3 24.9h0M338.9 26.9h0M338.2 27.3h0M340.0 50.0h0M340.7 52.5h0M340.4 41.6h0M337.7 26.4h0M337.0 52.7h0M339.7 31.7h0M337.1 44.6h0M340.1 47.7h0M340.6 72.9h0M340.2 51.1h0M338.2 27.3h0M339.2 27.2h0M336.4 47.5h0M336.2 73.4h0M337.0 81.5h0M336.7 65.9h0M336.7 69.7h0M337.1 31.3h0M340.2 33.5h0M341.3 86.7h0M340.1 74.8h0M337.4 36.2h0M337.1 32.6h0M339.1 24.5h0M338.3 27.0h0M338.9 89.3h0M338.0 26.4h0M341.4 60.9h0M340.8 50.9h0M337.2 75.8h0M336.2 47.2h0M337.3 84.9h0M340.6 56.4h0M338.0 27.7h0M340.7 48.1h0M340.1 45.1h0M335.8 58.4h0M337.1 45.3h0M337.1 50.0h0M337.2 47.0h0M337.2 71.7h0M348.5 88.6h0M345.2 56.6h0M349.6 52.0h0M346.6 33.5h0M345.8 37.0h0M348.3 29.0h0M349.5 49.5h0M347.4 28.0h0M349.8 85.8h0M347.1 88.9h0M346.4 61.2h0M346.7 34.0h0M345.1 41.8h0M344.9 36.5h0M346.5 32.0h0M349.8 68.7h0M349.0 37.9h0M346.4 49.7h0M346.4 44.6h0M349.4 76.5h0M349.3 38.3h0M345.7 68.0h0M346.3 35.8h0M349.6 49.2h0M347.2 29.2h0M347.2 89.4h0M350.3 66.1h0M346.3 43.6h0M346.4 82.7h0M346.5 37.5h0M345.7 68.2h0M345.6 80.1h0M348.0 24.6h0M349.6 68.3h0M349.7 73.1h0M349.2 49.5h0M349.5 84.5h0M346.1 86.6h0M349.0 87.2h0M349.3 40.4h0M346.4 61.3h0M349.1 66.8h0M349.5 75.4h0M349.4 42.2h0M347.9 91.2h0M345.9 84.9h0M349.1 91.7h0M345.9 83.2h0M345.1 60.0h0M347.0 30.9h0M346.6 32.7h0M347.0 89.9h0M349.1 49.8h0M348.9 35.2h0M344.2 61.3h0M349.3 47.4h0M346.3 61.2h0M349.3 47.0h0M346.7 32.5h0M350.5 68.9h0M346.0 63.6h0M346.3 36.3h0M345.4 68.9h0M349.2 77.4h0M349.9 84.7h0M347.6 92.2h0M349.7 50.7h0M345.8 46.4h0M349.2 57.7h0M347.0 25.3h0M358.2 48.7h0M355.9 36.8h0M358.6 64.8h0M355.3 80.9h0M356.2 89.1h0M355.5 88.7h0M358.8 66.5h0M355.7 36.5h0M358.8 44.9h0M359.2 66.2h0M358.3 51.6h0M354.8 38.6h0M355.1 65.2h0M358.2 50.7h0M358.2 37.4h0M355.5 57.6h0M357.6 89.8h0M356.6 32.1h0M358.7 48.6h0M355.5 45.8h0M355.4 84.5h0M355.0 86.9h0M358.5 52.1h0M354.7 79.5h0M358.2 38.0h0M359.2 73.2h0M355.7 88.7h0M354.8 45.5h0M356.7 29.8h0M358.1 49.3h0M355.5 48.5h0M358.0 35.9h0M358.3 46.2h0M354.8 60.7h0M357.4 30.5h0M355.7 38.2h0M355.0 52.2h0M355.4 85.5h0M358.1 65.9h0M358.5 87.4h0M355.0 80.1h0M355.3 58.1h0M358.4 67.5h0M358.3 41.7h0M355.3 83.9h0M358.3 60.5h0M355.8 36.5h0M355.2 57.7h0M355.2 40.3h0M358.7 79.8h0M359.2 80.3h0M357.3 89.1h0M355.5 50.4h0M353.8 74.7h0M358.1 78.9h0M357.2 89.3h0M354.3 74.9h0M354.1 79.1h0M354.9 72.6h0M355.8 35.5h0M355.2 49.0h0M355.6 32.5h0M355.5 44.8h0M355.2 73.8h0M358.7 85.7h0M363.9 68.4h0M367.2 54.6h0M366.8 37.8h0M365.2 41.0h0M367.3 56.1h0M366.5 36.4h0M367.3 44.2h0M367.6 50.4h0M365.1 43.4h0M368.2 80.1h0M367.4 71.6h0M364.2 48.4h0M365.3 32.3h0M366.1 36.4h0M364.5 57.3h0M367.2 76.6h0M367.0 49.1h0M366.5 36.3h0M364.6 73.3h0M365.6 36.7h0M365.0 45.5h0M366.2 37.3h0M367.1 47.1h0M365.9 30.9h0M364.1 65.6h0M366.3 36.1h0M366.8 37.8h0M367.3 69.3h0M366.6 36.8h0M364.7 44.8h0M367.4 76.3h0M364.3 52.1h0M367.2 50.2h0M367.0 87.2h0M366.3 37.3h0M367.5 64.2h0M366.0 90.9h0M367.1 46.3h0M364.0 77.8h0M363.8 55.8h0M367.3 48.2h0M367.9 78.4h0M367.7 69.4h0M363.6 60.4h0M364.2 71.8h0M366.3 37.0h0M367.2 61.4h0M367.0 47.4h0M366.9 47.2h0M364.1 84.7h0M364.5 87.2h0M364.0 54.7h0M364.9 45.1h0M367.8 81.8h0M367.3 82.7h0M367.8 88.0h0M366.8 45.7h0M368.3 60.2h0M364.2 76.2h0M367.6 51.3h0M365.7 30.7h0M372.0 68.0h0M376.9 64.5h0M375.2 53.6h0M377.5 80.5h0M371.6 84.9h0M374.8 52.2h0M373.9 59.1h0M376.2 89.6h0M375.6 56.9h0M377.6 87.2h0M374.7 52.3h0M377.6 86.2h0M377.5 66.2h0M375.9 53.8h0M372.9 65.3h0M375.0 51.9h0M372.9 64.0h0M372.6 86.6h0M372.6 78.6h0M372.1 79.5h0M373.6 91.6h0M375.8 51.4h0M375.1 57.6h0M377.5 72.8h0M373.6 61.7h0M376.0 93.6h0M375.3 51.1h0M374.4 52.3h0M374.6 93.2h0M375.2 91.0h0M376.9 62.2h0M376.6 54.5h0M378.1 83.4h0M372.4 74.2h0M377.3 83.3h0M374.4 90.8h0M376.1 93.9h0M376.7 62.5h0M373.3 94.2h0M378.2 67.1h0M373.4 63.0h0M387.2 84.8h0M382.9 92.3h0M381.6 79.0h0M385.2 90.4h0M383.2 61.0h0M383.2 60.7h0M380.6 74.2h0M383.8 92.4h0M383.9 57.0h0M387.2 74.3h0M383.6 59.0h0M385.6 90.4h0M387.2 84.0h0M386.2 69.7h0M383.8 90.4h0M383.2 60.2h0M382.0 66.7h0M381.9 63.4h0M383.5 92.1h0M383.3 56.5h0M382.3 65.6h0M383.1 61.1h0M381.4 71.3h0M381.5 62.9h0M384.9 91.4h0M381.9 86.0h0M387.1 77.6h0M383.4 61.1h0M382.4 89.5h0M386.9 59.0h0M380.8 78.0h0M382.5 89.3h0M382.3 62.3h0M381.9 70.9h0M386.1 66.4h0M382.8 93.5h0M383.9 93.9h0M387.0 87.0h0M396.0 78.4h0M390.6 74.4h0M392.2 57.0h0M396.1 69.9h0M393.0 92.1h0M392.2 62.3h0M389.9 76.6h0M391.7 62.9h0M394.5 89.2h0M390.8 82.5h0M391.5 87.6h0M392.7 92.3h0M394.0 91.9h0M395.0 62.6h0M394.7 88.3h0M395.4 71.5h0M391.5 63.8h0M395.0 57.5h0M395.1 88.0h0M396.5 68.2h0M390.6 77.0h0M395.6 73.6h0M391.4 87.1h0M393.7 60.2h0M396.5 72.7h0M395.9 73.4h0M394.2 93.7h0M391.9 62.1h0M394.8 57.2h0M394.2 89.8h0M393.7 60.6h0M393.2 59.2h0M392.0 58.6h0M391.6 61.9h0M395.8 69.5h0M396.5 81.0h0M390.3 82.8h0M392.9 60.1h0M404.5 76.9h0M399.2 81.8h0M402.0 60.0h0M403.7 59.7h0M403.3 92.0h0M404.4 64.2h0M401.8 60.4h0M399.8 74.8h0M400.7 66.5h0M400.4 65.6h0M401.2 62.0h0M404.6 85.7h0M403.1 61.2h0M400.6 66.0h0M400.2 70.4h0M407.0 80.8h0M404.9 84.7h0M400.9 64.6h0M400.7 88.9h0M404.3 66.3h0M401.2 57.7h0M399.6 74.4h0M403.9 92.7h0M401.7 55.7h0M402.4 90.6h0M405.0 82.4h0M400.8 66.1h0M403.3 89.7h0M403.3 93.5h0M401.9 55.7h0M403.7 58.7h0M401.6 60.5h0M403.6 64.2h0M403.0 60.2h0M405.5 71.6h0M404.3 87.1h0M403.0 59.2h0M403.5 89.7h0M436.6 73.7h0M436.2 85.3h0M436.3 60.5h0M434.8 50.2h0M435.1 88.5h0M435.3 58.7h0M434.2 47.2h0M436.7 71.6h0M434.2 87.8h0M434.6 47.8h0M433.0 92.6h0M435.5 87.6h0M435.7 87.2h0M436.1 59.4h0M432.7 80.4h0M436.4 80.9h0M432.8 77.6h0M434.4 58.4h0M433.1 87.0h0M434.6 55.7h0M432.9 71.5h0M435.1 57.1h0M433.4 51.6h0M436.2 61.6h0M433.6 53.4h0M435.9 88.5h0M434.8 88.6h0M438.0 72.2h0M434.2 55.8h0M434.1 58.7h0M435.2 91.7h0M435.8 55.0h0M432.3 73.6h0M431.9 73.2h0M435.8 60.6h0M434.6 92.5h0M432.6 60.5h0M436.3 83.0h0M441.9 74.3h0M442.4 83.3h0M444.3 91.2h0M444.1 54.9h0M442.2 92.0h0M443.5 93.7h0M444.5 48.6h0M443.6 50.2h0M445.7 80.0h0M441.7 65.0h0M442.3 81.9h0M445.0 62.2h0M445.0 60.8h0M443.1 54.0h0M441.9 77.5h0M443.4 88.3h0M445.7 76.4h0M441.8 63.5h0M443.4 90.1h0M445.9 64.3h0M441.5 63.8h0M441.6 79.8h0M442.7 62.9h0M443.6 56.3h0M445.0 92.8h0M440.1 79.5h0M443.7 88.5h0M442.9 61.4h0M445.3 65.7h0M441.0 78.4h0M444.6 87.3h0M445.3 61.5h0M443.3 55.1h0M443.8 50.3h0M442.3 66.6h0M445.0 62.6h0M442.0 71.0h0M441.5 79.0h0M451.5 64.5h0M452.6 58.5h0M450.8 59.8h0M450.9 74.4h0M452.2 91.7h0M453.0 89.9h0M454.6 84.2h0M451.5 66.6h0M451.1 65.3h0M454.4 90.1h0M451.3 66.5h0M453.8 60.9h0M450.8 80.5h0M449.6 72.7h0M452.7 91.5h0M454.4 61.7h0M454.4 86.9h0M452.7 89.8h0M454.2 86.2h0M451.0 92.9h0M451.3 85.2h0M451.2 84.8h0M451.8 57.6h0M453.1 90.6h0M454.7 62.0h0M451.2 85.8h0M452.8 57.8h0M454.7 84.5h0M450.9 70.1h0M450.1 73.8h0M450.9 73.4h0M451.8 86.2h0M454.5 57.9h0M451.6 62.2h0M451.7 87.4h0M453.4 60.6h0M463.7 62.4h0M462.8 55.9h0M462.8 92.6h0M459.7 68.5h0M465.5 80.3h0M463.0 59.1h0M459.6 72.7h0M461.5 88.4h0M464.3 71.5h0M464.2 92.6h0M461.9 58.7h0M461.1 63.1h0M465.3 76.9h0M460.4 82.6h0M462.5 88.7h0M462.6 60.9h0M464.2 83.7h0M462.1 59.6h0M461.0 54.1h0M462.5 59.4h0M462.5 89.6h0M463.4 87.8h0M459.8 64.9h0M460.0 84.8h0M461.7 92.4h0M463.0 62.1h0M460.1 69.9h0M459.3 78.6h0M459.9 79.3h0M464.0 83.0h0M461.0 87.3h0M462.5 88.9h0M464.2 75.3h0M461.6 88.8h0M459.8 80.2h0M462.8 88.1h0M473.3 81.7h0M468.9 72.0h0M468.7 72.2h0M471.2 56.7h0M472.2 62.8h0M470.5 90.3h0M472.0 62.2h0M472.9 67.4h0M471.5 61.2h0M472.2 90.6h0M473.8 74.6h0M472.8 63.6h0M469.2 57.0h0M468.4 80.0h0M472.5 58.9h0M470.1 62.0h0M469.0 85.5h0M469.5 87.4h0M472.3 62.2h0M468.2 71.5h0M472.4 57.3h0M470.7 88.9h0M472.1 56.4h0M473.1 85.4h0M469.3 84.0h0M470.6 90.3h0M469.0 78.0h0M470.1 59.3h0M469.5 66.6h0M473.4 73.9h0M469.1 86.0h0M469.8 63.3h0M474.9 75.5h0M466.6 78.0h0M473.7 82.5h0M471.8 91.2h0M479.6 58.8h0M482.7 78.9h0M482.6 76.5h0M479.0 87.7h0M482.5 72.6h0M478.6 84.8h0M482.4 70.0h0M478.5 66.6h0M480.8 61.5h0M479.2 87.6h0M478.4 66.7h0M481.5 86.5h0M482.7 83.7h0M478.5 88.0h0M478.6 92.0h0M483.4 71.4h0M480.8 91.4h0M482.7 84.2h0M481.4 61.5h0M480.4 55.7h0M480.1 58.8h0M481.9 86.0h0M479.7 54.7h0M479.0 92.6h0M482.4 84.3h0M478.0 71.8h0M478.6 84.7h0M479.0 86.0h0M479.5 60.2h0M478.6 63.8h0M480.2 89.7h0M482.1 57.5h0M479.2 62.4h0M478.5 87.2h0M478.1 80.2h0M482.8 78.8h0M486.3 66.3h0M487.6 60.1h0M488.3 87.0h0M486.9 71.7h0M488.3 89.7h0M492.0 72.3h0M486.7 66.2h0M490.7 87.9h0M493.6 76.6h0M490.5 58.1h0M487.0 84.7h0M492.4 75.7h0M490.2 61.7h0M486.7 72.7h0M488.9 56.4h0M489.9 88.8h0M487.5 59.0h0M490.0 88.7h0M487.6 84.5h0M488.1 90.8h0M488.4 87.6h0M490.6 89.9h0M488.2 62.0h0M486.3 71.9h0M491.7 64.4h0M491.3 66.4h0M488.8 61.3h0M489.6 59.5h0M492.7 77.1h0M491.3 84.1h0M488.3 61.8h0M487.2 73.0h0M490.3 88.2h0M489.8 61.0h0M491.6 70.3h0M490.4 88.2h0M501.4 71.6h0M500.7 74.7h0M501.4 71.1h0M496.8 56.9h0M497.5 92.3h0M499.4 60.0h0M500.8 66.4h0M498.9 92.2h0M500.6 67.4h0M499.9 87.6h0M496.7 87.6h0M499.4 59.4h0M497.2 56.6h0M497.7 57.9h0M498.8 60.9h0M500.0 92.6h0M496.4 67.9h0M500.1 65.4h0M498.9 60.2h0M496.2 64.0h0M498.0 91.8h0M497.5 87.6h0M499.3 88.2h0M496.4 91.3h0M500.6 55.9h0M496.8 87.7h0M495.5 84.0h0M498.5 91.1h0M497.0 64.2h0M496.9 62.7h0M497.5 92.0h0M497.7 88.9h0M496.1 73.7h0M498.5 56.6h0M499.4 58.7h0M495.6 71.5h0" fill="none" stroke="#000" stroke-width="0.7" stroke-linecap="square" opacity="0.5"/>
<text x="223" y="121.2" font-size="7.05" text-anchor="start" font-weight="bold" fill="#000" >Antigen concentration (log M)</text>
<text x="0.7" y="136.1" font-size="11" text-anchor="start" font-weight="bold" fill="#000" >B</text>
<text x="68.8" y="139.0" font-size="7.12" text-anchor="start" font-weight="bold" fill="#000" >Antigen sensitivity</text>
<line x1="36.5" y1="142.5" x2="167.6" y2="142.5" stroke="#222" stroke-width="0.9"/>
<path d="M33.5 154.8 L60.3 146.6 L60.3 154.8 Z" fill="#000"/>
<path d="M63.1 154.8 L90 146.6 L90 154.8 Z" fill="#000"/>
<path d="M92.8 154.8 L119.3 146.6 L119.3 154.8 Z" fill="#000"/>
<path d="M144.3 154.8 L171 146.6 L171 154.8 Z" fill="#000"/>
<line x1="31.3" y1="160.9" x2="31.3" y2="268.2" stroke="#333" stroke-width="0.8"/>
<line x1="29.3" y1="160.9" x2="31.3" y2="160.9" stroke="#333" stroke-width="0.8"/>
<text x="27.8" y="163.0" font-size="6" text-anchor="end" font-weight="bold" fill="#000" >5000</text>
<line x1="29.3" y1="182.2" x2="31.3" y2="182.2" stroke="#333" stroke-width="0.8"/>
<text x="27.8" y="184.29999999999998" font-size="6" text-anchor="end" font-weight="bold" fill="#000" >4000</text>
<line x1="29.3" y1="203.8" x2="31.3" y2="203.8" stroke="#333" stroke-width="0.8"/>
<text x="27.8" y="205.9" font-size="6" text-anchor="end" font-weight="bold" fill="#000" >3000</text>
<line x1="29.3" y1="225.3" x2="31.3" y2="225.3" stroke="#333" stroke-width="0.8"/>
<text x="27.8" y="227.4" font-size="6" text-anchor="end" font-weight="bold" fill="#000" >2000</text>
<line x1="29.3" y1="246.7" x2="31.3" y2="246.7" stroke="#333" stroke-width="0.8"/>
<text x="27.8" y="248.79999999999998" font-size="6" text-anchor="end" font-weight="bold" fill="#000" >1000</text>
<line x1="29.3" y1="268.2" x2="31.3" y2="268.2" stroke="#333" stroke-width="0.8"/>
<text x="28.9" y="271.1" font-size="6" text-anchor="end" font-weight="bold" fill="#000" >0</text>
<line x1="31.3" y1="267.9" x2="121" y2="267.9" stroke="#111" stroke-width="0.8"/>
<line x1="141.8" y1="267.0" x2="171" y2="267.0" stroke="#111" stroke-width="0.8"/>
<text transform="translate(9.2,202.6) rotate(-90)" font-size="7" font-weight="bold" text-anchor="middle">MFI</text>
<path d="M33.10 246h2V268.2h-2zM36.23 246h2V268.2h-2zM39.35 248.5h2V268.2h-2zM42.48 228.3h2V268.2h-2zM45.60 213.2h2V268.2h-2zM48.73 188.7h2V268.2h-2zM51.85 204.1h2V268.2h-2zM54.98 207h2V268.2h-2zM58.10 202.8h2V268.2h-2zM62.80 219.8h2V268.2h-2zM65.92 242.8h2V268.2h-2zM69.05 229.8h2V268.2h-2zM72.17 192.9h2V268.2h-2zM75.30 196h2V268.2h-2zM78.42 192.5h2V268.2h-2zM81.55 162.4h2V268.2h-2zM84.67 175.6h2V268.2h-2zM87.80 185.5h2V268.2h-2zM93.00 191.5h2V268.2h-2zM96.12 179.2h2V268.2h-2zM99.25 199.3h2V268.2h-2zM102.38 205h2V268.2h-2zM105.50 212h2V268.2h-2zM108.62 181.2h2V268.2h-2zM111.75 182.2h2V268.2h-2zM114.88 200.3h2V268.2h-2zM118.00 203.3h2V268.2h-2zM142.50 219.3h2V267h-2zM145.70 232.5h2V267h-2zM148.90 214.9h2V267h-2zM152.10 189.5h2V267h-2zM155.30 179.8h2V267h-2zM158.50 166.1h2V267h-2zM161.70 169h2V267h-2zM164.90 172h2V267h-2zM168.10 172.5h2V267h-2z" fill="#000"/>
<text x="33.3" y="275.0" font-size="7" text-anchor="start" font-weight="bold" fill="#000" >CD107a</text>
<text x="68.4" y="275.0" font-size="7" text-anchor="start" font-weight="bold" fill="#000" >TNF<tspan font-family='"Liberation Serif", serif' font-weight="normal" font-size="115%">α</tspan></text>
<text x="95.1" y="275.0" font-size="7" text-anchor="start" font-weight="bold" fill="#000" >MIP-1<tspan font-family='"Liberation Serif", serif' font-weight="normal" font-size="115%">β</tspan></text>
<text x="149.6" y="275.0" font-size="7" text-anchor="start" font-weight="bold" fill="#000" >IFN<tspan font-family='"Liberation Serif", serif' font-weight="normal" font-size="115%">γ</tspan></text>
<line x1="141.8" y1="160.9" x2="141.8" y2="267" stroke="#333" stroke-width="0.8"/>
<line x1="139.8" y1="160.9" x2="141.8" y2="160.9" stroke="#333" stroke-width="0.8"/>
<text x="138.2" y="163.0" font-size="6" text-anchor="end" font-weight="bold" fill="#000" >8000</text>
<line x1="139.8" y1="187.4" x2="141.8" y2="187.4" stroke="#333" stroke-width="0.8"/>
<text x="138.2" y="189.5" font-size="6" text-anchor="end" font-weight="bold" fill="#000" >6000</text>
<line x1="139.8" y1="213.9" x2="141.8" y2="213.9" stroke="#333" stroke-width="0.8"/>
<text x="138.2" y="216.0" font-size="6" text-anchor="end" font-weight="bold" fill="#000" >4000</text>
<line x1="139.8" y1="240.4" x2="141.8" y2="240.4" stroke="#333" stroke-width="0.8"/>
<text x="138.2" y="242.5" font-size="6" text-anchor="end" font-weight="bold" fill="#000" >2000</text>
<line x1="139.8" y1="266.9" x2="141.8" y2="266.9" stroke="#333" stroke-width="0.8"/>
<text x="139.3" y="271.1" font-size="6" text-anchor="end" font-weight="bold" fill="#000" >0</text>
<text x="183.3" y="136.4" font-size="11" text-anchor="start" font-weight="bold" fill="#000" >C</text>
<line x1="207.3" y1="145.5" x2="207.3" y2="258.0" stroke="#222" stroke-width="0.8"/>
<line x1="207.3" y1="258.0" x2="358.5" y2="258.0" stroke="#222" stroke-width="0.8"/>
<line x1="205.3" y1="258.0" x2="207.3" y2="258.0" stroke="#222" stroke-width="0.8"/>
<text x="204.5" y="260.1" font-size="5.8" text-anchor="end" font-weight="bold" fill="#000" >0</text>
<line x1="205.3" y1="235.5" x2="207.3" y2="235.5" stroke="#222" stroke-width="0.8"/>
<text x="204.5" y="237.6" font-size="5.8" text-anchor="end" font-weight="bold" fill="#000" >20</text>
<line x1="205.3" y1="213.0" x2="207.3" y2="213.0" stroke="#222" stroke-width="0.8"/>
<text x="204.5" y="215.1" font-size="5.8" text-anchor="end" font-weight="bold" fill="#000" >40</text>
<line x1="205.3" y1="190.5" x2="207.3" y2="190.5" stroke="#222" stroke-width="0.8"/>
<text x="204.5" y="192.6" font-size="5.8" text-anchor="end" font-weight="bold" fill="#000" >60</text>
<line x1="205.3" y1="168.0" x2="207.3" y2="168.0" stroke="#222" stroke-width="0.8"/>
<text x="204.5" y="170.1" font-size="5.8" text-anchor="end" font-weight="bold" fill="#000" >80</text>
<line x1="205.3" y1="145.5" x2="207.3" y2="145.5" stroke="#222" stroke-width="0.8"/>
<text x="204.5" y="147.6" font-size="5.8" text-anchor="end" font-weight="bold" fill="#000" >100</text>
<line x1="207.3" y1="258.0" x2="207.3" y2="260.0" stroke="#222" stroke-width="0.8"/>
<text x="207.3" y="267.4" font-size="5.8" text-anchor="middle" font-weight="bold" fill="#000" >-6</text>
<line x1="228.9" y1="258.0" x2="228.9" y2="260.0" stroke="#222" stroke-width="0.8"/>
<text x="228.9" y="267.4" font-size="5.8" text-anchor="middle" font-weight="bold" fill="#000" >-7</text>
<line x1="250.5" y1="258.0" x2="250.5" y2="260.0" stroke="#222" stroke-width="0.8"/>
<text x="250.5" y="267.4" font-size="5.8" text-anchor="middle" font-weight="bold" fill="#000" >-8</text>
<line x1="272.1" y1="258.0" x2="272.1" y2="260.0" stroke="#222" stroke-width="0.8"/>
<text x="272.1" y="267.4" font-size="5.8" text-anchor="middle" font-weight="bold" fill="#000" >-9</text>
<line x1="293.70000000000005" y1="258.0" x2="293.70000000000005" y2="260.0" stroke="#222" stroke-width="0.8"/>
<text x="293.7" y="267.4" font-size="5.8" text-anchor="middle" font-weight="bold" fill="#000" >-10</text>
<line x1="315.3" y1="258.0" x2="315.3" y2="260.0" stroke="#222" stroke-width="0.8"/>
<text x="315.3" y="267.4" font-size="5.8" text-anchor="middle" font-weight="bold" fill="#000" >-11</text>
<line x1="336.90000000000003" y1="258.0" x2="336.90000000000003" y2="260.0" stroke="#222" stroke-width="0.8"/>
<text x="336.9" y="267.4" font-size="5.8" text-anchor="middle" font-weight="bold" fill="#000" >-12</text>
<line x1="358.5" y1="258.0" x2="358.5" y2="260.0" stroke="#222" stroke-width="0.8"/>
<text x="358.5" y="267.4" font-size="5.8" text-anchor="middle" font-weight="bold" fill="#000" >-13</text>
<text transform="translate(192.3,203.3) rotate(-90)" font-size="7.1" font-weight="bold" text-anchor="middle">% of positive cells</text>
<text x="236.3" y="276.9" font-size="6.3" text-anchor="start" font-weight="bold" fill="#000" >Antigen concentration (log M)</text>
<path d="M207.30 158.11 L208.06 158.11 L208.82 158.11 L209.58 158.11 L210.34 158.11 L211.10 158.11 L211.86 158.11 L212.62 158.11 L213.38 158.11 L214.14 158.11 L214.90 158.11 L215.66 158.11 L216.42 158.12 L217.18 158.12 L217.94 158.12 L218.70 158.12 L219.46 158.12 L220.22 158.13 L220.98 158.13 L221.74 158.13 L222.50 158.13 L223.26 158.14 L224.02 158.14 L224.78 158.15 L225.54 158.15 L226.29 158.16 L227.05 158.16 L227.81 158.17 L228.57 158.17 L229.33 158.18 L230.09 158.19 L230.85 158.20 L231.61 158.21 L232.37 158.22 L233.13 158.23 L233.89 158.24 L234.65 158.26 L235.41 158.27 L236.17 158.29 L236.93 158.31 L237.69 158.33 L238.45 158.35 L239.21 158.38 L239.97 158.41 L240.73 158.44 L241.49 158.47 L242.25 158.51 L243.01 158.55 L243.77 158.59 L244.53 158.64 L245.29 158.70 L246.05 158.76 L246.81 158.82 L247.57 158.90 L248.33 158.97 L249.09 159.06 L249.85 159.16 L250.61 159.26 L251.37 159.38 L252.13 159.50 L252.89 159.64 L253.65 159.79 L254.41 159.96 L255.17 160.14 L255.93 160.34 L256.69 160.56 L257.45 160.80 L258.21 161.07 L258.97 161.35 L259.73 161.67 L260.49 162.01 L261.25 162.39 L262.01 162.80 L262.77 163.25 L263.53 163.73 L264.28 164.26 L265.04 164.84 L265.80 165.47 L266.56 166.14 L267.32 166.88 L268.08 167.68 L268.84 168.54 L269.60 169.46 L270.36 170.46 L271.12 171.54 L271.88 172.69 L272.64 173.92 L273.40 175.23 L274.16 176.63 L274.92 178.12 L275.68 179.69 L276.44 181.35 L277.20 183.10 L277.96 184.94 L278.72 186.85 L279.48 188.85 L280.24 190.92 L281.00 193.06 L281.76 195.26 L282.52 197.52 L283.28 199.82 L284.04 202.16 L284.80 204.52 L285.56 206.90 L286.32 209.29 L287.08 211.67 L287.84 214.04 L288.60 216.37 L289.36 218.67 L290.12 220.93 L290.88 223.13 L291.64 225.27 L292.40 227.33 L293.16 229.33 L293.92 231.24 L294.68 233.07 L295.44 234.82 L296.20 236.47 L296.96 238.04 L297.72 239.53 L298.48 240.92 L299.24 242.23 L300.00 243.46 L300.76 244.61 L301.52 245.68 L302.27 246.67 L303.03 247.60 L303.79 248.46 L304.55 249.25 L305.31 249.98 L306.07 250.66 L306.83 251.28 L307.59 251.86 L308.35 252.39 L309.11 252.87 L309.87 253.32 L310.63 253.73 L311.39 254.10 L312.15 254.44 L312.91 254.76 L313.67 255.04 L314.43 255.31 L315.19 255.55 L315.95 255.76 L316.71 255.96 L317.47 256.15 L318.23 256.31 L318.99 256.46 L319.75 256.60 L320.51 256.73 L321.27 256.84 L322.03 256.95 L322.79 257.04 L323.55 257.13 L324.31 257.21 L325.07 257.28 L325.83 257.34 L326.59 257.40 L327.35 257.46 L328.11 257.51 L328.87 257.55 L329.63 257.59 L330.39 257.63 L331.15 257.66 L331.91 257.69 L332.67 257.72 L333.43 257.75 L334.19 257.77 L334.95 257.79 L335.71 257.81 L336.47 257.83 L337.23 257.84 L337.99 257.86 L338.75 257.87 L339.51 257.88 L340.26 257.89 L341.02 257.90 L341.78 257.91 L342.54 257.92 L343.30 257.93 L344.06 257.93 L344.82 257.94 L345.58 257.95 L346.34 257.95 L347.10 257.95 L347.86 257.96 L348.62 257.96 L349.38 257.97 L350.14 257.97 L350.90 257.97 L351.66 257.97 L352.42 257.98 L353.18 257.98 L353.94 257.98 L354.70 257.98 L355.46 257.98 L356.22 257.99 L356.98 257.99 L357.74 257.99 L358.50 257.99M207.30 174.04 L208.06 174.04 L208.82 174.05 L209.58 174.06 L210.34 174.07 L211.10 174.07 L211.86 174.08 L212.62 174.09 L213.38 174.10 L214.14 174.12 L214.90 174.13 L215.66 174.14 L216.42 174.15 L217.18 174.17 L217.94 174.19 L218.70 174.21 L219.46 174.22 L220.22 174.25 L220.98 174.27 L221.74 174.29 L222.50 174.32 L223.26 174.35 L224.02 174.38 L224.78 174.41 L225.54 174.45 L226.29 174.49 L227.05 174.53 L227.81 174.57 L228.57 174.62 L229.33 174.68 L230.09 174.73 L230.85 174.80 L231.61 174.86 L232.37 174.93 L233.13 175.01 L233.89 175.09 L234.65 175.18 L235.41 175.28 L236.17 175.38 L236.93 175.50 L237.69 175.62 L238.45 175.75 L239.21 175.89 L239.97 176.04 L240.73 176.20 L241.49 176.38 L242.25 176.57 L243.01 176.77 L243.77 176.99 L244.53 177.22 L245.29 177.48 L246.05 177.75 L246.81 178.04 L247.57 178.35 L248.33 178.68 L249.09 179.04 L249.85 179.42 L250.61 179.83 L251.37 180.27 L252.13 180.74 L252.89 181.24 L253.65 181.77 L254.41 182.33 L255.17 182.94 L255.93 183.58 L256.69 184.26 L257.45 184.98 L258.21 185.74 L258.97 186.55 L259.73 187.40 L260.49 188.30 L261.25 189.24 L262.01 190.24 L262.77 191.28 L263.53 192.37 L264.28 193.51 L265.04 194.69 L265.80 195.93 L266.56 197.21 L267.32 198.53 L268.08 199.90 L268.84 201.31 L269.60 202.76 L270.36 204.25 L271.12 205.76 L271.88 207.31 L272.64 208.88 L273.40 210.47 L274.16 212.08 L274.92 213.70 L275.68 215.33 L276.44 216.95 L277.20 218.58 L277.96 220.20 L278.72 221.80 L279.48 223.39 L280.24 224.96 L281.00 226.50 L281.76 228.01 L282.52 229.49 L283.28 230.93 L284.04 232.33 L284.80 233.69 L285.56 235.01 L286.32 236.28 L287.08 237.50 L287.84 238.68 L288.60 239.81 L289.36 240.89 L290.12 241.92 L290.88 242.91 L291.64 243.84 L292.40 244.73 L293.16 245.58 L293.92 246.37 L294.68 247.13 L295.44 247.84 L296.20 248.51 L296.96 249.15 L297.72 249.74 L298.48 250.30 L299.24 250.83 L300.00 251.32 L300.76 251.78 L301.52 252.21 L302.27 252.62 L303.03 252.99 L303.79 253.35 L304.55 253.68 L305.31 253.98 L306.07 254.27 L306.83 254.54 L307.59 254.78 L308.35 255.02 L309.11 255.23 L309.87 255.43 L310.63 255.62 L311.39 255.79 L312.15 255.95 L312.91 256.10 L313.67 256.24 L314.43 256.37 L315.19 256.49 L315.95 256.60 L316.71 256.70 L317.47 256.80 L318.23 256.89 L318.99 256.97 L319.75 257.04 L320.51 257.11 L321.27 257.18 L322.03 257.24 L322.79 257.30 L323.55 257.35 L324.31 257.40 L325.07 257.44 L325.83 257.48 L326.59 257.52 L327.35 257.56 L328.11 257.59 L328.87 257.62 L329.63 257.65 L330.39 257.67 L331.15 257.70 L331.91 257.72 L332.67 257.74 L333.43 257.76 L334.19 257.78 L334.95 257.80 L335.71 257.81 L336.47 257.82 L337.23 257.84 L337.99 257.85 L338.75 257.86 L339.51 257.87 L340.26 257.88 L341.02 257.89 L341.78 257.90 L342.54 257.91 L343.30 257.91 L344.06 257.92 L344.82 257.93 L345.58 257.93 L346.34 257.94 L347.10 257.94 L347.86 257.95 L348.62 257.95 L349.38 257.95 L350.14 257.96 L350.90 257.96 L351.66 257.96 L352.42 257.97 L353.18 257.97 L353.94 257.97 L354.70 257.97 L355.46 257.97 L356.22 257.98 L356.98 257.98 L357.74 257.98 L358.50 257.98M207.30 167.82 L208.06 167.89 L208.82 167.96 L209.58 168.04 L210.34 168.13 L211.10 168.23 L211.86 168.33 L212.62 168.43 L213.38 168.55 L214.14 168.68 L214.90 168.81 L215.66 168.95 L216.42 169.11 L217.18 169.27 L217.94 169.45 L218.70 169.64 L219.46 169.84 L220.22 170.06 L220.98 170.30 L221.74 170.55 L222.50 170.81 L223.26 171.10 L224.02 171.40 L224.78 171.73 L225.54 172.08 L226.29 172.45 L227.05 172.84 L227.81 173.27 L228.57 173.72 L229.33 174.19 L230.09 174.70 L230.85 175.24 L231.61 175.82 L232.37 176.43 L233.13 177.07 L233.89 177.76 L234.65 178.48 L235.41 179.24 L236.17 180.05 L236.93 180.89 L237.69 181.78 L238.45 182.72 L239.21 183.70 L239.97 184.73 L240.73 185.81 L241.49 186.93 L242.25 188.10 L243.01 189.32 L243.77 190.58 L244.53 191.89 L245.29 193.24 L246.05 194.64 L246.81 196.07 L247.57 197.54 L248.33 199.05 L249.09 200.59 L249.85 202.17 L250.61 203.76 L251.37 205.38 L252.13 207.02 L252.89 208.67 L253.65 210.34 L254.41 212.01 L255.17 213.68 L255.93 215.34 L256.69 217.00 L257.45 218.65 L258.21 220.28 L258.97 221.89 L259.73 223.47 L260.49 225.03 L261.25 226.55 L262.01 228.05 L262.77 229.50 L263.53 230.92 L264.28 232.29 L265.04 233.62 L265.80 234.91 L266.56 236.15 L267.32 237.34 L268.08 238.49 L268.84 239.59 L269.60 240.64 L270.36 241.65 L271.12 242.61 L271.88 243.53 L272.64 244.40 L273.40 245.22 L274.16 246.01 L274.92 246.75 L275.68 247.45 L276.44 248.12 L277.20 248.75 L277.96 249.34 L278.72 249.90 L279.48 250.42 L280.24 250.91 L281.00 251.38 L281.76 251.82 L282.52 252.22 L283.28 252.61 L284.04 252.97 L284.80 253.31 L285.56 253.62 L286.32 253.92 L287.08 254.19 L287.84 254.45 L288.60 254.69 L289.36 254.92 L290.12 255.13 L290.88 255.33 L291.64 255.51 L292.40 255.68 L293.16 255.84 L293.92 255.99 L294.68 256.13 L295.44 256.26 L296.20 256.38 L296.96 256.49 L297.72 256.60 L298.48 256.70 L299.24 256.79 L300.00 256.87 L300.76 256.95 L301.52 257.02 L302.27 257.09 L303.03 257.16 L303.79 257.21 L304.55 257.27 L305.31 257.32 L306.07 257.37 L306.83 257.41 L307.59 257.45 L308.35 257.49 L309.11 257.53 L309.87 257.56 L310.63 257.59 L311.39 257.62 L312.15 257.65 L312.91 257.67 L313.67 257.70 L314.43 257.72 L315.19 257.74 L315.95 257.76 L316.71 257.77 L317.47 257.79 L318.23 257.80 L318.99 257.82 L319.75 257.83 L320.51 257.84 L321.27 257.85 L322.03 257.86 L322.79 257.87 L323.55 257.88 L324.31 257.89 L325.07 257.90 L325.83 257.91 L326.59 257.91 L327.35 257.92 L328.11 257.92 L328.87 257.93 L329.63 257.93 L330.39 257.94 L331.15 257.94 L331.91 257.95 L332.67 257.95 L333.43 257.95 L334.19 257.96 L334.95 257.96 L335.71 257.96 L336.47 257.97 L337.23 257.97 L337.99 257.97 L338.75 257.97 L339.51 257.97 L340.26 257.98 L341.02 257.98 L341.78 257.98 L342.54 257.98 L343.30 257.98 L344.06 257.98 L344.82 257.98 L345.58 257.99 L346.34 257.99 L347.10 257.99 L347.86 257.99 L348.62 257.99 L349.38 257.99 L350.14 257.99 L350.90 257.99 L351.66 257.99 L352.42 257.99 L353.18 257.99 L353.94 257.99 L354.70 257.99 L355.46 257.99 L356.22 257.99 L356.98 258.00 L357.74 258.00 L358.50 258.00M207.30 171.59 L208.06 171.86 L208.82 172.15 L209.58 172.46 L210.34 172.80 L211.10 173.15 L211.86 173.54 L212.62 173.95 L213.38 174.38 L214.14 174.85 L214.90 175.35 L215.66 175.88 L216.42 176.44 L217.18 177.04 L217.94 177.68 L218.70 178.36 L219.46 179.08 L220.22 179.84 L220.98 180.64 L221.74 181.49 L222.50 182.39 L223.26 183.34 L224.02 184.33 L224.78 185.37 L225.54 186.46 L226.29 187.61 L227.05 188.80 L227.81 190.04 L228.57 191.33 L229.33 192.67 L230.09 194.06 L230.85 195.49 L231.61 196.96 L232.37 198.48 L233.13 200.03 L233.89 201.62 L234.65 203.24 L235.41 204.88 L236.17 206.55 L236.93 208.24 L237.69 209.94 L238.45 211.65 L239.21 213.36 L239.97 215.07 L240.73 216.78 L241.49 218.47 L242.25 220.15 L243.01 221.81 L243.77 223.44 L244.53 225.05 L245.29 226.62 L246.05 228.16 L246.81 229.66 L247.57 231.12 L248.33 232.53 L249.09 233.90 L249.85 235.22 L250.61 236.49 L251.37 237.71 L252.13 238.88 L252.89 240.00 L253.65 241.07 L254.41 242.09 L255.17 243.07 L255.93 243.99 L256.69 244.87 L257.45 245.70 L258.21 246.49 L258.97 247.23 L259.73 247.93 L260.49 248.59 L261.25 249.21 L262.01 249.80 L262.77 250.35 L263.53 250.87 L264.28 251.35 L265.04 251.80 L265.80 252.23 L266.56 252.63 L267.32 253.00 L268.08 253.35 L268.84 253.67 L269.60 253.97 L270.36 254.26 L271.12 254.52 L271.88 254.77 L272.64 255.00 L273.40 255.21 L274.16 255.41 L274.92 255.59 L275.68 255.77 L276.44 255.93 L277.20 256.07 L277.96 256.21 L278.72 256.34 L279.48 256.46 L280.24 256.57 L281.00 256.67 L281.76 256.77 L282.52 256.86 L283.28 256.94 L284.04 257.02 L284.80 257.09 L285.56 257.16 L286.32 257.22 L287.08 257.27 L287.84 257.33 L288.60 257.38 L289.36 257.42 L290.12 257.46 L290.88 257.50 L291.64 257.54 L292.40 257.57 L293.16 257.60 L293.92 257.63 L294.68 257.66 L295.44 257.68 L296.20 257.71 L296.96 257.73 L297.72 257.75 L298.48 257.77 L299.24 257.78 L300.00 257.80 L300.76 257.81 L301.52 257.83 L302.27 257.84 L303.03 257.85 L303.79 257.86 L304.55 257.87 L305.31 257.88 L306.07 257.89 L306.83 257.90 L307.59 257.91 L308.35 257.91 L309.11 257.92 L309.87 257.93 L310.63 257.93 L311.39 257.94 L312.15 257.94 L312.91 257.95 L313.67 257.95 L314.43 257.95 L315.19 257.96 L315.95 257.96 L316.71 257.96 L317.47 257.97 L318.23 257.97 L318.99 257.97 L319.75 257.97 L320.51 257.97 L321.27 257.98 L322.03 257.98 L322.79 257.98 L323.55 257.98 L324.31 257.98 L325.07 257.98 L325.83 257.98 L326.59 257.99 L327.35 257.99 L328.11 257.99 L328.87 257.99 L329.63 257.99 L330.39 257.99 L331.15 257.99 L331.91 257.99 L332.67 257.99 L333.43 257.99 L334.19 257.99 L334.95 257.99 L335.71 257.99 L336.47 257.99 L337.23 258.00 L337.99 258.00 L338.75 258.00 L339.51 258.00 L340.26 258.00 L341.02 258.00 L341.78 258.00 L342.54 258.00 L343.30 258.00 L344.06 258.00 L344.82 258.00 L345.58 258.00 L346.34 258.00 L347.10 258.00 L347.86 258.00 L348.62 258.00 L349.38 258.00 L350.14 258.00 L350.90 258.00 L351.66 258.00 L352.42 258.00 L353.18 258.00 L353.94 258.00 L354.70 258.00 L355.46 258.00 L356.22 258.00 L356.98 258.00 L357.74 258.00 L358.50 258.00M207.30 246.16 L208.06 246.19 L208.82 246.21 L209.58 246.24 L210.34 246.27 L211.10 246.30 L211.86 246.33 L212.62 246.37 L213.38 246.40 L214.14 246.44 L214.90 246.49 L215.66 246.53 L216.42 246.58 L217.18 246.63 L217.94 246.69 L218.70 246.74 L219.46 246.81 L220.22 246.87 L220.98 246.94 L221.74 247.02 L222.50 247.10 L223.26 247.18 L224.02 247.27 L224.78 247.36 L225.54 247.46 L226.29 247.57 L227.05 247.68 L227.81 247.79 L228.57 247.92 L229.33 248.04 L230.09 248.18 L230.85 248.32 L231.61 248.46 L232.37 248.62 L233.13 248.78 L233.89 248.94 L234.65 249.11 L235.41 249.29 L236.17 249.47 L236.93 249.66 L237.69 249.85 L238.45 250.05 L239.21 250.25 L239.97 250.46 L240.73 250.67 L241.49 250.88 L242.25 251.10 L243.01 251.32 L243.77 251.54 L244.53 251.76 L245.29 251.98 L246.05 252.20 L246.81 252.42 L247.57 252.64 L248.33 252.86 L249.09 253.07 L249.85 253.29 L250.61 253.49 L251.37 253.70 L252.13 253.90 L252.89 254.09 L253.65 254.29 L254.41 254.47 L255.17 254.65 L255.93 254.82 L256.69 254.99 L257.45 255.15 L258.21 255.31 L258.97 255.46 L259.73 255.60 L260.49 255.74 L261.25 255.87 L262.01 256.00 L262.77 256.12 L263.53 256.23 L264.28 256.34 L265.04 256.44 L265.80 256.53 L266.56 256.63 L267.32 256.71 L268.08 256.79 L268.84 256.87 L269.60 256.94 L270.36 257.01 L271.12 257.08 L271.88 257.14 L272.64 257.19 L273.40 257.25 L274.16 257.30 L274.92 257.34 L275.68 257.39 L276.44 257.43 L277.20 257.47 L277.96 257.50 L278.72 257.54 L279.48 257.57 L280.24 257.60 L281.00 257.62 L281.76 257.65 L282.52 257.67 L283.28 257.70 L284.04 257.72 L284.80 257.74 L285.56 257.75 L286.32 257.77 L287.08 257.79 L287.84 257.80 L288.60 257.82 L289.36 257.83 L290.12 257.84 L290.88 257.85 L291.64 257.86 L292.40 257.87 L293.16 257.88 L293.92 257.89 L294.68 257.90 L295.44 257.90 L296.20 257.91 L296.96 257.92 L297.72 257.92 L298.48 257.93 L299.24 257.93 L300.00 257.94 L300.76 257.94 L301.52 257.95 L302.27 257.95 L303.03 257.95 L303.79 257.96 L304.55 257.96 L305.31 257.96 L306.07 257.97 L306.83 257.97 L307.59 257.97 L308.35 257.97 L309.11 257.97 L309.87 257.98 L310.63 257.98 L311.39 257.98 L312.15 257.98 L312.91 257.98 L313.67 257.98 L314.43 257.98 L315.19 257.99 L315.95 257.99 L316.71 257.99 L317.47 257.99 L318.23 257.99 L318.99 257.99 L319.75 257.99 L320.51 257.99 L321.27 257.99 L322.03 257.99 L322.79 257.99 L323.55 257.99 L324.31 257.99 L325.07 257.99 L325.83 257.99 L326.59 258.00 L327.35 258.00 L328.11 258.00 L328.87 258.00 L329.63 258.00 L330.39 258.00 L331.15 258.00 L331.91 258.00 L332.67 258.00 L333.43 258.00 L334.19 258.00 L334.95 258.00 L335.71 258.00 L336.47 258.00 L337.23 258.00 L337.99 258.00 L338.75 258.00 L339.51 258.00 L340.26 258.00 L341.02 258.00 L341.78 258.00 L342.54 258.00 L343.30 258.00 L344.06 258.00 L344.82 258.00 L345.58 258.00 L346.34 258.00 L347.10 258.00 L347.86 258.00 L348.62 258.00 L349.38 258.00 L350.14 258.00 L350.90 258.00 L351.66 258.00 L352.42 258.00 L353.18 258.00 L353.94 258.00 L354.70 258.00 L355.46 258.00 L356.22 258.00 L356.98 258.00 L357.74 258.00 L358.50 258.00" fill="none" stroke="#111" stroke-width="0.95"/>
<path d="M207.30 155.92L209.34 158.32L207.30 160.73L205.27 158.32Z" fill="#000"/>
<path d="M228.90 158.40L230.94 160.80L228.90 163.21L226.87 160.80Z" fill="#000"/>
<path d="M250.50 164.47L252.53 166.88L250.50 169.28L248.47 166.88Z" fill="#000"/>
<path d="M272.10 155.47L274.14 157.88L272.10 160.28L270.06 157.88Z" fill="#000"/>
<path d="M293.70 230.96L295.74 233.36L293.70 235.77L291.67 233.36Z" fill="#000"/>
<path d="M315.30 254.47L317.34 256.88L315.30 259.28L313.26 256.88Z" fill="#000"/>
<path d="M336.90 255.26L338.94 257.66L336.90 260.07L334.87 257.66Z" fill="#000"/>
<path d="M358.50 255.59L360.54 258.00L358.50 260.40L356.46 258.00Z" fill="#000"/>
<rect x="205.45" y="166.15" width="3.70" height="3.70" fill="#000"/>
<rect x="227.05" y="175.15" width="3.70" height="3.70" fill="#000"/>
<rect x="248.65" y="193.83" width="3.70" height="3.70" fill="#000"/>
<rect x="270.25" y="201.81" width="3.70" height="3.70" fill="#000"/>
<rect x="291.85" y="253.90" width="3.70" height="3.70" fill="#000"/>
<rect x="313.45" y="255.59" width="3.70" height="3.70" fill="#000"/>
<rect x="335.05" y="255.92" width="3.70" height="3.70" fill="#000"/>
<rect x="356.65" y="256.15" width="3.70" height="3.70" fill="#000"/>
<path d="M207.30 160.60L209.34 164.49L205.27 164.49Z" fill="#000"/>
<path d="M228.90 173.66L230.94 177.54L226.87 177.54Z" fill="#000"/>
<path d="M250.50 204.93L252.53 208.81L248.47 208.81Z" fill="#000"/>
<path d="M272.10 234.18L274.14 238.06L270.06 238.06Z" fill="#000"/>
<path d="M293.70 254.66L295.74 258.54L291.67 258.54Z" fill="#000"/>
<path d="M315.30 255.22L317.34 259.10L313.26 259.10Z" fill="#000"/>
<path d="M336.90 255.78L338.94 259.67L334.87 259.67Z" fill="#000"/>
<path d="M358.50 255.78L360.54 259.67L356.46 259.67Z" fill="#000"/>
<path d="M207.30 248.41L209.34 244.52L205.27 244.52Z" fill="#000"/>
<path d="M228.90 250.88L230.94 247.00L226.87 247.00Z" fill="#000"/>
<path d="M250.50 255.27L252.53 251.39L248.47 251.39Z" fill="#000"/>
<path d="M272.10 257.97L274.14 254.09L270.06 254.09Z" fill="#000"/>
<path d="M293.70 259.10L295.74 255.21L291.67 255.21Z" fill="#000"/>
<path d="M315.30 259.88L317.34 256.00L313.26 256.00Z" fill="#000"/>
<path d="M336.90 260.22L338.94 256.33L334.87 256.33Z" fill="#000"/>
<path d="M358.50 260.22L360.54 256.33L356.46 256.33Z" fill="#000"/>
<circle cx="207.30" cy="169.69" r="2.04" fill="#000"/>
<circle cx="228.90" cy="194.55" r="2.04" fill="#000"/>
<circle cx="250.50" cy="233.59" r="2.04" fill="#000"/>
<circle cx="272.10" cy="243.94" r="2.04" fill="#000"/>
<circle cx="293.70" cy="256.88" r="2.04" fill="#000"/>
<circle cx="315.30" cy="257.44" r="2.04" fill="#000"/>
<circle cx="336.90" cy="257.77" r="2.04" fill="#000"/>
<circle cx="358.50" cy="258.00" r="2.04" fill="#000"/>
<rect x="325.60" y="193.30" width="4.00" height="4.00" fill="#000"/>
<text x="332.4" y="197.8" font-size="7" text-anchor="start" font-weight="bold" fill="#000" >CD107a</text>
<path d="M327.60 203.60L329.80 207.80L325.40 207.80Z" fill="#000"/>
<text x="332.4" y="208.5" font-size="7" text-anchor="start" font-weight="bold" fill="#000" >IFN<tspan font-family='"Liberation Serif", serif' font-weight="normal" font-size="115%">γ</tspan></text>
<path d="M327.60 218.20L329.80 214.00L325.40 214.00Z" fill="#000"/>
<text x="332.4" y="218.3" font-size="7" text-anchor="start" font-weight="bold" fill="#000" >IL2</text>
<path d="M327.60 224.60L329.80 227.20L327.60 229.80L325.40 227.20Z" fill="#000"/>
<text x="332.4" y="229.7" font-size="7" text-anchor="start" font-weight="bold" fill="#000" >MIP-1<tspan font-family='"Liberation Serif", serif' font-weight="normal" font-size="115%">β</tspan></text>
<circle cx="327.60" cy="238.70" r="2.20" fill="#000"/>
<text x="332.4" y="241.2" font-size="7" text-anchor="start" font-weight="bold" fill="#000" >TNF<tspan font-family='"Liberation Serif", serif' font-weight="normal" font-size="115%">α</tspan></text>
<text x="372.6" y="136.1" font-size="11" text-anchor="start" font-weight="bold" fill="#000" >D</text>
<line x1="397.5" y1="137.6" x2="397.5" y2="272.3" stroke="#666" stroke-width="1.1"/>
<line x1="397.5" y1="272.3" x2="519.5" y2="272.3" stroke="#666" stroke-width="1.1"/>
<line x1="396.0" y1="137.60" x2="397.5" y2="137.60" stroke="#555" stroke-width="0.6"/>
<text x="395.5" y="139.50" font-size="4.9" text-anchor="end" font-weight="bold" fill="#000">10<tspan dy="-1.9" font-size="3.2" font-weight="normal" fill="#555" style="stroke:none">-11</tspan></text>
<line x1="396.0" y1="160.05" x2="397.5" y2="160.05" stroke="#555" stroke-width="0.6"/>
<text x="395.5" y="161.95" font-size="4.9" text-anchor="end" font-weight="bold" fill="#000">10<tspan dy="-1.9" font-size="3.2" font-weight="normal" fill="#555" style="stroke:none">-10</tspan></text>
<line x1="396.0" y1="182.50" x2="397.5" y2="182.50" stroke="#555" stroke-width="0.6"/>
<text x="395.5" y="184.40" font-size="4.9" text-anchor="end" font-weight="bold" fill="#000">10<tspan dy="-1.9" font-size="3.2" font-weight="normal" fill="#555" style="stroke:none">-9</tspan></text>
<line x1="396.0" y1="204.95" x2="397.5" y2="204.95" stroke="#555" stroke-width="0.6"/>
<text x="395.5" y="206.85" font-size="4.9" text-anchor="end" font-weight="bold" fill="#000">10<tspan dy="-1.9" font-size="3.2" font-weight="normal" fill="#555" style="stroke:none">-8</tspan></text>
<line x1="396.0" y1="227.40" x2="397.5" y2="227.40" stroke="#555" stroke-width="0.6"/>
<text x="395.5" y="229.30" font-size="4.9" text-anchor="end" font-weight="bold" fill="#000">10<tspan dy="-1.9" font-size="3.2" font-weight="normal" fill="#555" style="stroke:none">-7</tspan></text>
<line x1="396.0" y1="249.85" x2="397.5" y2="249.85" stroke="#555" stroke-width="0.6"/>
<text x="395.5" y="251.75" font-size="4.9" text-anchor="end" font-weight="bold" fill="#000">10<tspan dy="-1.9" font-size="3.2" font-weight="normal" fill="#555" style="stroke:none">-6</tspan></text>
<line x1="396.0" y1="272.30" x2="397.5" y2="272.30" stroke="#555" stroke-width="0.6"/>
<text x="395.5" y="274.20" font-size="4.9" text-anchor="end" font-weight="bold" fill="#000">10<tspan dy="-1.9" font-size="3.2" font-weight="normal" fill="#555" style="stroke:none">-5</tspan></text>
<text transform="translate(379.3,206) rotate(-90)" font-size="7.3" font-weight="bold" text-anchor="middle">EC50 (log M)</text>
<line x1="409.8" y1="272.3" x2="409.8" y2="273.8" stroke="#555" stroke-width="0.6"/>
<line x1="434.2" y1="272.3" x2="434.2" y2="273.8" stroke="#555" stroke-width="0.6"/>
<line x1="458.4" y1="272.3" x2="458.4" y2="273.8" stroke="#555" stroke-width="0.6"/>
<line x1="482.8" y1="272.3" x2="482.8" y2="273.8" stroke="#555" stroke-width="0.6"/>
<line x1="507.2" y1="272.3" x2="507.2" y2="273.8" stroke="#555" stroke-width="0.6"/>
<text x="398.3" y="281.0" font-size="6.8" text-anchor="start" font-weight="bold" fill="#000" >MIP-1<tspan font-family='"Liberation Serif", serif' font-weight="normal" font-size="115%">β</tspan></text>
<text x="424.5" y="281.0" font-size="6.8" text-anchor="start" font-weight="bold" fill="#000" >CD107a</text>
<text x="455" y="281.0" font-size="6.8" text-anchor="start" font-weight="bold" fill="#000" >IFN<tspan font-family='"Liberation Serif", serif' font-weight="normal" font-size="115%">γ</tspan></text>
<text x="476.5" y="281.0" font-size="6.8" text-anchor="start" font-weight="bold" fill="#000" >TNF<tspan font-family='"Liberation Serif", serif' font-weight="normal" font-size="115%">α</tspan></text>
<text x="505.3" y="281.0" font-size="6.8" text-anchor="start" font-weight="bold" fill="#000" >IL2</text>
<circle cx="410.4" cy="147" r="1.4" fill="#000"/>
<circle cx="405.9" cy="157.9" r="1.4" fill="#000"/>
<circle cx="410.4" cy="161.9" r="1.4" fill="#000"/>
<circle cx="414.3" cy="159.6" r="1.4" fill="#000"/>
<circle cx="414.3" cy="162.5" r="1.4" fill="#000"/>
<circle cx="405.9" cy="166.5" r="1.4" fill="#000"/>
<circle cx="410.4" cy="166.5" r="1.4" fill="#000"/>
<circle cx="434.5" cy="173.3" r="1.4" fill="#000"/>
<circle cx="431" cy="175.1" r="1.4" fill="#000"/>
<circle cx="438.5" cy="175.4" r="1.4" fill="#000"/>
<circle cx="431" cy="178.2" r="1.4" fill="#000"/>
<circle cx="435" cy="179" r="1.4" fill="#000"/>
<circle cx="435" cy="182.8" r="1.4" fill="#000"/>
<circle cx="454.4" cy="182" r="1.4" fill="#000"/>
<circle cx="462.5" cy="182.9" r="1.4" fill="#000"/>
<circle cx="454.4" cy="185.7" r="1.4" fill="#000"/>
<circle cx="458.4" cy="186.1" r="1.4" fill="#000"/>
<circle cx="458.4" cy="195.7" r="1.4" fill="#000"/>
<circle cx="458.4" cy="201.8" r="1.4" fill="#000"/>
<circle cx="458.8" cy="217.3" r="1.4" fill="#000"/>
<circle cx="483" cy="174.6" r="1.4" fill="#000"/>
<circle cx="478.6" cy="180.3" r="1.4" fill="#000"/>
<circle cx="483" cy="181.7" r="1.4" fill="#000"/>
<circle cx="483" cy="188.7" r="1.4" fill="#000"/>
<circle cx="483" cy="208.5" r="1.4" fill="#000"/>
<circle cx="487" cy="217.6" r="1.4" fill="#000"/>
<circle cx="483" cy="221.7" r="1.4" fill="#000"/>
<circle cx="507.2" cy="193.4" r="1.4" fill="#000"/>
<circle cx="507.2" cy="202.4" r="1.4" fill="#000"/>
<circle cx="507.2" cy="216.9" r="1.4" fill="#000"/>
<circle cx="511" cy="215.2" r="1.4" fill="#000"/>
<circle cx="502.8" cy="225.2" r="1.4" fill="#000"/>
<circle cx="507.2" cy="225.2" r="1.4" fill="#000"/>
<circle cx="410" cy="194.7" r="1.55" fill="none" stroke="#000" stroke-width="0.75"/>
<circle cx="406.2" cy="199.5" r="1.55" fill="none" stroke="#000" stroke-width="0.75"/>
<circle cx="410" cy="200.1" r="1.55" fill="none" stroke="#000" stroke-width="0.75"/>
<circle cx="410" cy="205.3" r="1.55" fill="none" stroke="#000" stroke-width="0.75"/>
<circle cx="434.6" cy="211.6" r="1.55" fill="none" stroke="#000" stroke-width="0.75"/>
<circle cx="434.6" cy="224.6" r="1.55" fill="none" stroke="#000" stroke-width="0.75"/>
<circle cx="434.6" cy="229.8" r="1.55" fill="none" stroke="#000" stroke-width="0.75"/>
<circle cx="434.6" cy="234.8" r="1.55" fill="none" stroke="#000" stroke-width="0.75"/>
<circle cx="454" cy="226.9" r="1.55" fill="none" stroke="#000" stroke-width="0.75"/>
<circle cx="458.4" cy="227.8" r="1.55" fill="none" stroke="#000" stroke-width="0.75"/>
<circle cx="458.4" cy="234" r="1.55" fill="none" stroke="#000" stroke-width="0.75"/>
<circle cx="462.5" cy="233.1" r="1.55" fill="none" stroke="#000" stroke-width="0.75"/>
<circle cx="479" cy="228.2" r="1.55" fill="none" stroke="#000" stroke-width="0.75"/>
<circle cx="483" cy="227.5" r="1.55" fill="none" stroke="#000" stroke-width="0.75"/>
<circle cx="487" cy="228.7" r="1.55" fill="none" stroke="#000" stroke-width="0.75"/>
<circle cx="483" cy="232.7" r="1.55" fill="none" stroke="#000" stroke-width="0.75"/>
<circle cx="507.2" cy="243.4" r="1.55" fill="none" stroke="#000" stroke-width="0.75"/>
<circle cx="511.2" cy="239.9" r="1.55" fill="none" stroke="#000" stroke-width="0.75"/>
<circle cx="507.2" cy="255.2" r="1.55" fill="none" stroke="#000" stroke-width="0.75"/>
<circle cx="507.2" cy="261" r="1.55" fill="none" stroke="#000" stroke-width="0.75"/>
<line x1="401.1" y1="166.4" x2="418.7" y2="166.4" stroke="#000" stroke-width="1.15"/>
<line x1="425.2" y1="182.3" x2="442.7" y2="182.3" stroke="#000" stroke-width="1.15"/>
<line x1="450.2" y1="201.8" x2="467.2" y2="201.8" stroke="#000" stroke-width="1.15"/>
<line x1="474.2" y1="217.6" x2="491.2" y2="217.6" stroke="#000" stroke-width="1.15"/>
<line x1="498.8" y1="225.2" x2="515.4" y2="225.2" stroke="#000" stroke-width="1.15"/>
<path d="M413.3 138.5 V135.5 H431.2 V138.5" fill="none" stroke="#333" stroke-width="0.6"/>
<circle cx="420.45" cy="131.8" r="1.05" fill="#000"/><circle cx="424.05" cy="131.8" r="1.05" fill="#000"/>
<path d="M437 138.5 V135.5 H454.5 V138.5" fill="none" stroke="#333" stroke-width="0.6"/>
<circle cx="445.75" cy="131.8" r="1.05" fill="#000"/>
<path d="M460.5 138.5 V135.5 H478.2 V138.5" fill="none" stroke="#333" stroke-width="0.6"/>
<text x="469.35" y="133.8" font-size="4.6" text-anchor="middle" font-weight="normal" fill="#222" >NS</text>
<path d="M483.9 138.5 V135.5 H501.4 V138.5" fill="none" stroke="#333" stroke-width="0.6"/>
<circle cx="490.85" cy="131.8" r="1.05" fill="#000"/><circle cx="494.45" cy="131.8" r="1.05" fill="#000"/>
<rect x="405.0" y="248.2" width="28.6" height="18.9" fill="#fff" stroke="#222" stroke-width="0.75"/>
<circle cx="410.0" cy="253.9" r="1.65" fill="#000"/>
<circle cx="409.8" cy="262.4" r="1.35" fill="none" stroke="#000" stroke-width="0.75"/>
<text x="412.5" y="255.8" font-size="5.9" text-anchor="start" font-weight="bold" fill="#000" >Higher</text>
<text x="412.5" y="264.4" font-size="5.9" text-anchor="start" font-weight="bold" fill="#000" >Lower</text>
</g>
</svg>
</body></html>
